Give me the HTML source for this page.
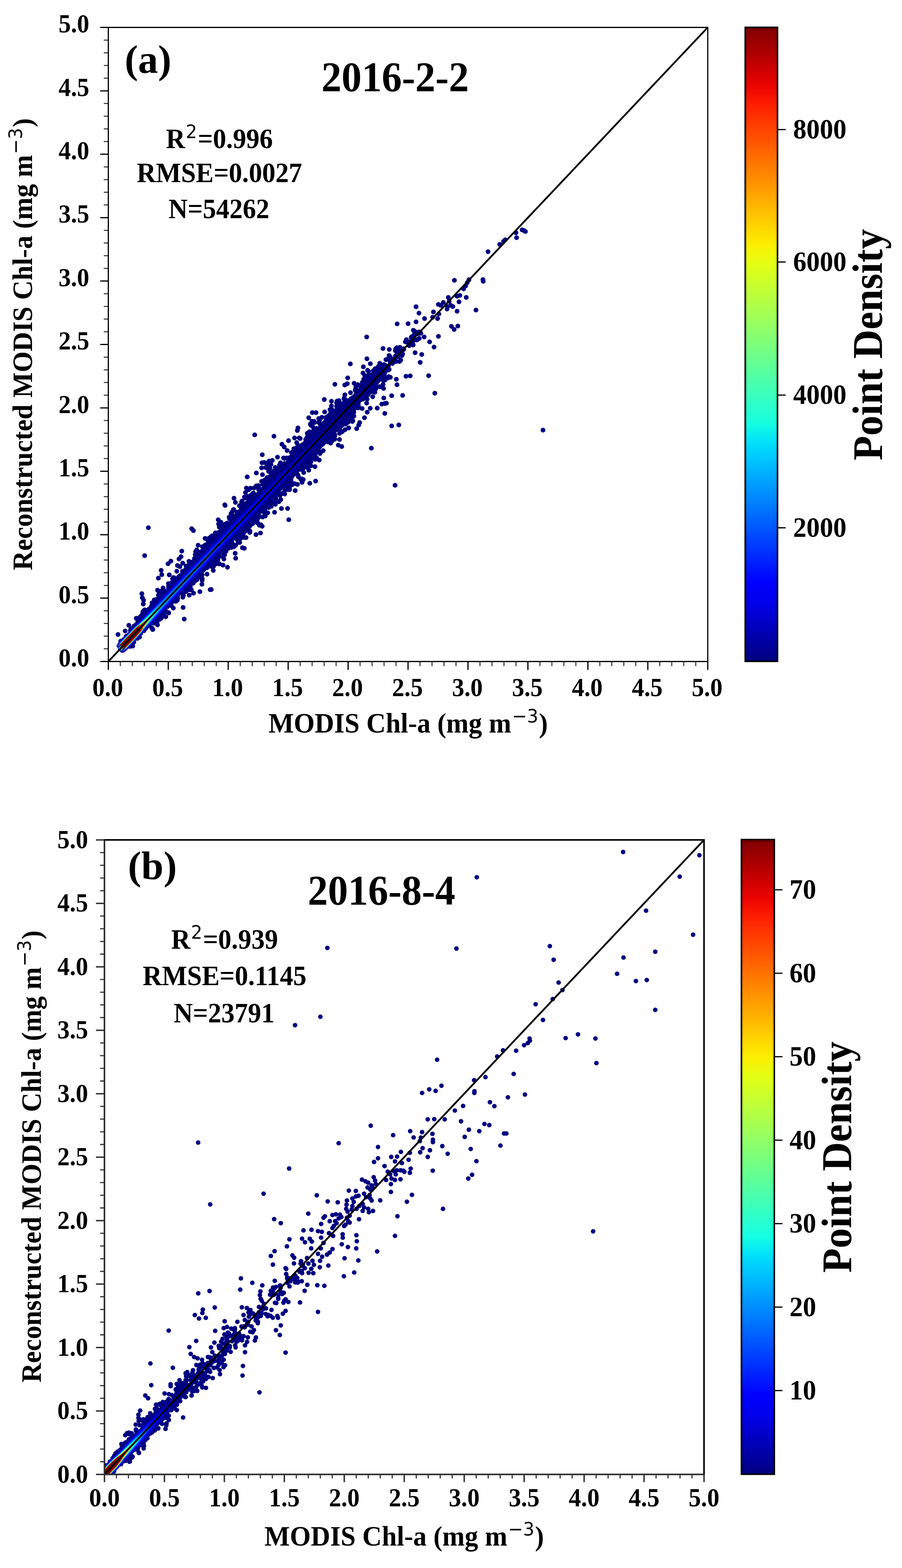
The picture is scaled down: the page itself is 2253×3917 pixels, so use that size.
<!DOCTYPE html>
<html lang="en"><head><meta charset="utf-8"><title>Reconstructed MODIS Chl-a scatter density</title>
<style>
html,body{margin:0;padding:0;background:#fff;}
body{width:2253px;height:3917px;overflow:hidden;}
svg{display:block;filter:blur(0.6px);}
text{white-space:pre;}
</style></head><body>
<svg width="2253" height="3917" viewBox="0 0 2253 3917">
<defs><linearGradient id="jet" x1="0" y1="0" x2="0" y2="1"><stop offset="0%" stop-color="#800000"/><stop offset="3.1%" stop-color="#a40000"/><stop offset="6.2%" stop-color="#c80000"/><stop offset="9.4%" stop-color="#ec0400"/><stop offset="12.5%" stop-color="#ff2100"/><stop offset="15.6%" stop-color="#ff3f00"/><stop offset="18.8%" stop-color="#ff5c00"/><stop offset="21.9%" stop-color="#ff7a00"/><stop offset="25%" stop-color="#ff9700"/><stop offset="28.1%" stop-color="#ffb500"/><stop offset="31.2%" stop-color="#ffd200"/><stop offset="34.4%" stop-color="#fcf000"/><stop offset="37.5%" stop-color="#e2ff15"/><stop offset="40.6%" stop-color="#c9ff2e"/><stop offset="43.8%" stop-color="#afff48"/><stop offset="46.9%" stop-color="#95ff62"/><stop offset="50%" stop-color="#7bff7b"/><stop offset="53.1%" stop-color="#62ff95"/><stop offset="56.2%" stop-color="#48ffaf"/><stop offset="59.4%" stop-color="#2effc9"/><stop offset="62.5%" stop-color="#15ffe2"/><stop offset="65.6%" stop-color="#00dffc"/><stop offset="68.8%" stop-color="#00bfff"/><stop offset="71.9%" stop-color="#009fff"/><stop offset="75%" stop-color="#0080ff"/><stop offset="78.1%" stop-color="#0060ff"/><stop offset="81.2%" stop-color="#0040ff"/><stop offset="84.4%" stop-color="#0020ff"/><stop offset="87.5%" stop-color="#0000ff"/><stop offset="90.6%" stop-color="#0000ec"/><stop offset="93.8%" stop-color="#0000c8"/><stop offset="96.9%" stop-color="#0000a4"/><stop offset="100%" stop-color="#000080"/></linearGradient>
<linearGradient id="ga0" gradientUnits="userSpaceOnUse" x1="299" y1="1622.4" x2="869.5" y2="1018.9"><stop offset="0%" stop-color="#000082" stop-opacity="0.06"/><stop offset="1.7%" stop-color="#000091" stop-opacity="0.52"/><stop offset="3.3%" stop-color="#000091" stop-opacity="0.52"/><stop offset="5%" stop-color="#000091" stop-opacity="0.52"/><stop offset="6.7%" stop-color="#000091" stop-opacity="0.52"/><stop offset="8.3%" stop-color="#00008e" stop-opacity="0.41"/><stop offset="10%" stop-color="#00008a" stop-opacity="0.29"/><stop offset="11.7%" stop-color="#00008f" stop-opacity="0.44"/><stop offset="13.3%" stop-color="#000095" stop-opacity="0.63"/><stop offset="15%" stop-color="#000096" stop-opacity="0.66"/><stop offset="16.7%" stop-color="#000093" stop-opacity="0.57"/><stop offset="18.3%" stop-color="#000092" stop-opacity="0.54"/><stop offset="20%" stop-color="#000091" stop-opacity="0.51"/><stop offset="21.7%" stop-color="#000090" stop-opacity="0.48"/><stop offset="23.3%" stop-color="#000090" stop-opacity="0.47"/><stop offset="25%" stop-color="#00008f" stop-opacity="0.46"/><stop offset="26.7%" stop-color="#00008f" stop-opacity="0.45"/><stop offset="28.3%" stop-color="#00008f" stop-opacity="0.43"/><stop offset="30%" stop-color="#00008e" stop-opacity="0.42"/><stop offset="31.7%" stop-color="#00008e" stop-opacity="0.41"/><stop offset="33.3%" stop-color="#00008d" stop-opacity="0.40"/><stop offset="35%" stop-color="#00008d" stop-opacity="0.39"/><stop offset="36.7%" stop-color="#00008c" stop-opacity="0.37"/><stop offset="38.3%" stop-color="#00008c" stop-opacity="0.36"/><stop offset="40%" stop-color="#00008c" stop-opacity="0.35"/><stop offset="41.7%" stop-color="#00008b" stop-opacity="0.34"/><stop offset="43.3%" stop-color="#00008b" stop-opacity="0.32"/><stop offset="45%" stop-color="#00008a" stop-opacity="0.31"/><stop offset="46.7%" stop-color="#00008a" stop-opacity="0.30"/><stop offset="48.3%" stop-color="#000089" stop-opacity="0.29"/><stop offset="50%" stop-color="#000089" stop-opacity="0.27"/><stop offset="51.7%" stop-color="#000089" stop-opacity="0.26"/><stop offset="53.3%" stop-color="#000088" stop-opacity="0.25"/><stop offset="55%" stop-color="#000088" stop-opacity="0.24"/><stop offset="56.7%" stop-color="#000087" stop-opacity="0.22"/><stop offset="58.3%" stop-color="#000087" stop-opacity="0.21"/><stop offset="60%" stop-color="#000086" stop-opacity="0.20"/><stop offset="61.7%" stop-color="#000086" stop-opacity="0.19"/><stop offset="63.3%" stop-color="#000086" stop-opacity="0.18"/><stop offset="65%" stop-color="#000085" stop-opacity="0.17"/><stop offset="66.7%" stop-color="#000085" stop-opacity="0.16"/><stop offset="68.3%" stop-color="#000085" stop-opacity="0.15"/><stop offset="70%" stop-color="#000084" stop-opacity="0.14"/><stop offset="71.7%" stop-color="#000084" stop-opacity="0.13"/><stop offset="73.3%" stop-color="#000084" stop-opacity="0.12"/><stop offset="75%" stop-color="#000083" stop-opacity="0.11"/><stop offset="76.7%" stop-color="#000083" stop-opacity="0.10"/><stop offset="78.3%" stop-color="#000083" stop-opacity="0.09"/><stop offset="80%" stop-color="#000082" stop-opacity="0.08"/><stop offset="81.7%" stop-color="#000082" stop-opacity="0.08"/><stop offset="83.3%" stop-color="#000082" stop-opacity="0.07"/><stop offset="85%" stop-color="#000082" stop-opacity="0.06"/><stop offset="86.7%" stop-color="#000081" stop-opacity="0.06"/><stop offset="88.3%" stop-color="#000081" stop-opacity="0.05"/><stop offset="90%" stop-color="#000081" stop-opacity="0.04"/><stop offset="91.7%" stop-color="#000081" stop-opacity="0.03"/><stop offset="93.3%" stop-color="#000080" stop-opacity="0.03"/><stop offset="95%" stop-color="#000080" stop-opacity="0.02"/><stop offset="96.7%" stop-color="#000080" stop-opacity="0.01"/><stop offset="98.3%" stop-color="#000080" stop-opacity="0.01"/><stop offset="100%" stop-color="#000080" stop-opacity="0.00"/></linearGradient>
<linearGradient id="ga1" gradientUnits="userSpaceOnUse" x1="299" y1="1622.4" x2="869.5" y2="1018.9"><stop offset="0%" stop-color="#000086" stop-opacity="0.19"/><stop offset="1.7%" stop-color="#0000b3"/><stop offset="3.3%" stop-color="#0000b3"/><stop offset="5%" stop-color="#0000b3"/><stop offset="6.7%" stop-color="#0000b3"/><stop offset="8.3%" stop-color="#0000a9"/><stop offset="10%" stop-color="#000099" stop-opacity="0.74"/><stop offset="11.7%" stop-color="#0000a0" stop-opacity="0.95"/><stop offset="13.3%" stop-color="#0000a9"/><stop offset="15%" stop-color="#0000a9"/><stop offset="16.7%" stop-color="#0000a4"/><stop offset="18.3%" stop-color="#0000a2" stop-opacity="0.98"/><stop offset="20%" stop-color="#00009f" stop-opacity="0.92"/><stop offset="21.7%" stop-color="#00009e" stop-opacity="0.87"/><stop offset="23.3%" stop-color="#00009d" stop-opacity="0.85"/><stop offset="25%" stop-color="#00009c" stop-opacity="0.83"/><stop offset="26.7%" stop-color="#00009c" stop-opacity="0.81"/><stop offset="28.3%" stop-color="#00009b" stop-opacity="0.79"/><stop offset="30%" stop-color="#00009a" stop-opacity="0.76"/><stop offset="31.7%" stop-color="#000099" stop-opacity="0.74"/><stop offset="33.3%" stop-color="#000099" stop-opacity="0.72"/><stop offset="35%" stop-color="#000098" stop-opacity="0.70"/><stop offset="36.7%" stop-color="#000097" stop-opacity="0.68"/><stop offset="38.3%" stop-color="#000096" stop-opacity="0.65"/><stop offset="40%" stop-color="#000095" stop-opacity="0.63"/><stop offset="41.7%" stop-color="#000095" stop-opacity="0.61"/><stop offset="43.3%" stop-color="#000094" stop-opacity="0.59"/><stop offset="45%" stop-color="#000093" stop-opacity="0.56"/><stop offset="46.7%" stop-color="#000092" stop-opacity="0.54"/><stop offset="48.3%" stop-color="#000092" stop-opacity="0.52"/><stop offset="50%" stop-color="#000091" stop-opacity="0.50"/><stop offset="51.7%" stop-color="#000090" stop-opacity="0.47"/><stop offset="53.3%" stop-color="#00008f" stop-opacity="0.45"/><stop offset="55%" stop-color="#00008e" stop-opacity="0.43"/><stop offset="56.7%" stop-color="#00008e" stop-opacity="0.41"/><stop offset="58.3%" stop-color="#00008d" stop-opacity="0.38"/><stop offset="60%" stop-color="#00008c" stop-opacity="0.36"/><stop offset="61.7%" stop-color="#00008b" stop-opacity="0.34"/><stop offset="63.3%" stop-color="#00008b" stop-opacity="0.32"/><stop offset="65%" stop-color="#00008a" stop-opacity="0.30"/><stop offset="66.7%" stop-color="#000089" stop-opacity="0.28"/><stop offset="68.3%" stop-color="#000089" stop-opacity="0.27"/><stop offset="70%" stop-color="#000088" stop-opacity="0.25"/><stop offset="71.7%" stop-color="#000088" stop-opacity="0.23"/><stop offset="73.3%" stop-color="#000087" stop-opacity="0.22"/><stop offset="75%" stop-color="#000086" stop-opacity="0.20"/><stop offset="76.7%" stop-color="#000086" stop-opacity="0.18"/><stop offset="78.3%" stop-color="#000085" stop-opacity="0.17"/><stop offset="80%" stop-color="#000085" stop-opacity="0.15"/><stop offset="81.7%" stop-color="#000084" stop-opacity="0.14"/><stop offset="83.3%" stop-color="#000084" stop-opacity="0.13"/><stop offset="85%" stop-color="#000083" stop-opacity="0.11"/><stop offset="86.7%" stop-color="#000083" stop-opacity="0.10"/><stop offset="88.3%" stop-color="#000083" stop-opacity="0.09"/><stop offset="90%" stop-color="#000082" stop-opacity="0.08"/><stop offset="91.7%" stop-color="#000082" stop-opacity="0.06"/><stop offset="93.3%" stop-color="#000081" stop-opacity="0.05"/><stop offset="95%" stop-color="#000081" stop-opacity="0.04"/><stop offset="96.7%" stop-color="#000080" stop-opacity="0.03"/><stop offset="98.3%" stop-color="#000080" stop-opacity="0.01"/><stop offset="100%" stop-color="#000080" stop-opacity="0.00"/></linearGradient>
<linearGradient id="ga2" gradientUnits="userSpaceOnUse" x1="299" y1="1622.4" x2="869.5" y2="1018.9"><stop offset="0%" stop-color="#000090" stop-opacity="0.48"/><stop offset="1.7%" stop-color="#0000ff"/><stop offset="3.3%" stop-color="#0000ff"/><stop offset="5%" stop-color="#0000ff"/><stop offset="6.7%" stop-color="#0000ff"/><stop offset="8.3%" stop-color="#0000ea"/><stop offset="10%" stop-color="#0000bb"/><stop offset="11.7%" stop-color="#0000c1"/><stop offset="13.3%" stop-color="#0000c8"/><stop offset="15%" stop-color="#0000c6"/><stop offset="16.7%" stop-color="#0000bd"/><stop offset="18.3%" stop-color="#0000b9"/><stop offset="20%" stop-color="#0000b6"/><stop offset="21.7%" stop-color="#0000b3"/><stop offset="23.3%" stop-color="#0000b2"/><stop offset="25%" stop-color="#0000b0"/><stop offset="26.7%" stop-color="#0000af"/><stop offset="28.3%" stop-color="#0000ae"/><stop offset="30%" stop-color="#0000ad"/><stop offset="31.7%" stop-color="#0000ab"/><stop offset="33.3%" stop-color="#0000aa"/><stop offset="35%" stop-color="#0000a9"/><stop offset="36.7%" stop-color="#0000a8"/><stop offset="38.3%" stop-color="#0000a6"/><stop offset="40%" stop-color="#0000a5"/><stop offset="41.7%" stop-color="#0000a4"/><stop offset="43.3%" stop-color="#0000a2" stop-opacity="1.00"/><stop offset="45%" stop-color="#0000a1" stop-opacity="0.96"/><stop offset="46.7%" stop-color="#0000a0" stop-opacity="0.92"/><stop offset="48.3%" stop-color="#00009e" stop-opacity="0.88"/><stop offset="50%" stop-color="#00009d" stop-opacity="0.85"/><stop offset="51.7%" stop-color="#00009c" stop-opacity="0.81"/><stop offset="53.3%" stop-color="#00009a" stop-opacity="0.77"/><stop offset="55%" stop-color="#000099" stop-opacity="0.73"/><stop offset="56.7%" stop-color="#000098" stop-opacity="0.69"/><stop offset="58.3%" stop-color="#000096" stop-opacity="0.65"/><stop offset="60%" stop-color="#000095" stop-opacity="0.62"/><stop offset="61.7%" stop-color="#000094" stop-opacity="0.58"/><stop offset="63.3%" stop-color="#000092" stop-opacity="0.54"/><stop offset="65%" stop-color="#000091" stop-opacity="0.51"/><stop offset="66.7%" stop-color="#000090" stop-opacity="0.48"/><stop offset="68.3%" stop-color="#00008f" stop-opacity="0.45"/><stop offset="70%" stop-color="#00008e" stop-opacity="0.43"/><stop offset="71.7%" stop-color="#00008d" stop-opacity="0.40"/><stop offset="73.3%" stop-color="#00008c" stop-opacity="0.37"/><stop offset="75%" stop-color="#00008b" stop-opacity="0.34"/><stop offset="76.7%" stop-color="#00008a" stop-opacity="0.31"/><stop offset="78.3%" stop-color="#000089" stop-opacity="0.28"/><stop offset="80%" stop-color="#000088" stop-opacity="0.26"/><stop offset="81.7%" stop-color="#000088" stop-opacity="0.24"/><stop offset="83.3%" stop-color="#000087" stop-opacity="0.21"/><stop offset="85%" stop-color="#000086" stop-opacity="0.19"/><stop offset="86.7%" stop-color="#000085" stop-opacity="0.17"/><stop offset="88.3%" stop-color="#000085" stop-opacity="0.15"/><stop offset="90%" stop-color="#000084" stop-opacity="0.13"/><stop offset="91.7%" stop-color="#000083" stop-opacity="0.11"/><stop offset="93.3%" stop-color="#000082" stop-opacity="0.09"/><stop offset="95%" stop-color="#000082" stop-opacity="0.06"/><stop offset="96.7%" stop-color="#000081" stop-opacity="0.04"/><stop offset="98.3%" stop-color="#000080" stop-opacity="0.02"/><stop offset="100%" stop-color="#000080" stop-opacity="0.00"/></linearGradient>
<linearGradient id="ga3" gradientUnits="userSpaceOnUse" x1="299" y1="1622.4" x2="869.5" y2="1018.9"><stop offset="0%" stop-color="#00009d" stop-opacity="0.84"/><stop offset="1.7%" stop-color="#004eff"/><stop offset="3.3%" stop-color="#004eff"/><stop offset="5%" stop-color="#004eff"/><stop offset="6.7%" stop-color="#004eff"/><stop offset="8.3%" stop-color="#0026ff"/><stop offset="10%" stop-color="#0000e3"/><stop offset="11.7%" stop-color="#0000e2"/><stop offset="13.3%" stop-color="#0000e6"/><stop offset="15%" stop-color="#0000e0"/><stop offset="16.7%" stop-color="#0000d4"/><stop offset="18.3%" stop-color="#0000cf"/><stop offset="20%" stop-color="#0000ca"/><stop offset="21.7%" stop-color="#0000c6"/><stop offset="23.3%" stop-color="#0000c5"/><stop offset="25%" stop-color="#0000c3"/><stop offset="26.7%" stop-color="#0000c1"/><stop offset="28.3%" stop-color="#0000bf"/><stop offset="30%" stop-color="#0000be"/><stop offset="31.7%" stop-color="#0000bc"/><stop offset="33.3%" stop-color="#0000ba"/><stop offset="35%" stop-color="#0000b8"/><stop offset="36.7%" stop-color="#0000b7"/><stop offset="38.3%" stop-color="#0000b5"/><stop offset="40%" stop-color="#0000b3"/><stop offset="41.7%" stop-color="#0000b1"/><stop offset="43.3%" stop-color="#0000af"/><stop offset="45%" stop-color="#0000ad"/><stop offset="46.7%" stop-color="#0000ac"/><stop offset="48.3%" stop-color="#0000aa"/><stop offset="50%" stop-color="#0000a8"/><stop offset="51.7%" stop-color="#0000a6"/><stop offset="53.3%" stop-color="#0000a4"/><stop offset="55%" stop-color="#0000a2"/><stop offset="56.7%" stop-color="#0000a1" stop-opacity="0.95"/><stop offset="58.3%" stop-color="#00009f" stop-opacity="0.90"/><stop offset="60%" stop-color="#00009d" stop-opacity="0.85"/><stop offset="61.7%" stop-color="#00009b" stop-opacity="0.80"/><stop offset="63.3%" stop-color="#000099" stop-opacity="0.74"/><stop offset="65%" stop-color="#000098" stop-opacity="0.70"/><stop offset="66.7%" stop-color="#000097" stop-opacity="0.66"/><stop offset="68.3%" stop-color="#000095" stop-opacity="0.62"/><stop offset="70%" stop-color="#000094" stop-opacity="0.59"/><stop offset="71.7%" stop-color="#000092" stop-opacity="0.55"/><stop offset="73.3%" stop-color="#000091" stop-opacity="0.51"/><stop offset="75%" stop-color="#000090" stop-opacity="0.47"/><stop offset="76.7%" stop-color="#00008e" stop-opacity="0.43"/><stop offset="78.3%" stop-color="#00008d" stop-opacity="0.39"/><stop offset="80%" stop-color="#00008c" stop-opacity="0.35"/><stop offset="81.7%" stop-color="#00008b" stop-opacity="0.33"/><stop offset="83.3%" stop-color="#00008a" stop-opacity="0.30"/><stop offset="85%" stop-color="#000089" stop-opacity="0.27"/><stop offset="86.7%" stop-color="#000088" stop-opacity="0.24"/><stop offset="88.3%" stop-color="#000087" stop-opacity="0.21"/><stop offset="90%" stop-color="#000086" stop-opacity="0.18"/><stop offset="91.7%" stop-color="#000085" stop-opacity="0.15"/><stop offset="93.3%" stop-color="#000084" stop-opacity="0.12"/><stop offset="95%" stop-color="#000083" stop-opacity="0.09"/><stop offset="96.7%" stop-color="#000082" stop-opacity="0.06"/><stop offset="98.3%" stop-color="#000081" stop-opacity="0.03"/><stop offset="100%" stop-color="#000080" stop-opacity="0.00"/></linearGradient>
<linearGradient id="ga4" gradientUnits="userSpaceOnUse" x1="299" y1="1622.4" x2="869.5" y2="1018.9"><stop offset="0%" stop-color="#0000b1"/><stop offset="1.7%" stop-color="#00daff"/><stop offset="3.3%" stop-color="#00daff"/><stop offset="5%" stop-color="#00daff"/><stop offset="6.7%" stop-color="#00daff"/><stop offset="8.3%" stop-color="#0096ff"/><stop offset="10%" stop-color="#000cff"/><stop offset="11.7%" stop-color="#0000ff"/><stop offset="13.3%" stop-color="#0000ff"/><stop offset="15%" stop-color="#0000ff"/><stop offset="16.7%" stop-color="#0000f1"/><stop offset="18.3%" stop-color="#0000ea"/><stop offset="20%" stop-color="#0000e4"/><stop offset="21.7%" stop-color="#0000de"/><stop offset="23.3%" stop-color="#0000dc"/><stop offset="25%" stop-color="#0000da"/><stop offset="26.7%" stop-color="#0000d7"/><stop offset="28.3%" stop-color="#0000d5"/><stop offset="30%" stop-color="#0000d3"/><stop offset="31.7%" stop-color="#0000d1"/><stop offset="33.3%" stop-color="#0000ce"/><stop offset="35%" stop-color="#0000cc"/><stop offset="36.7%" stop-color="#0000c9"/><stop offset="38.3%" stop-color="#0000c7"/><stop offset="40%" stop-color="#0000c4"/><stop offset="41.7%" stop-color="#0000c2"/><stop offset="43.3%" stop-color="#0000bf"/><stop offset="45%" stop-color="#0000bd"/><stop offset="46.7%" stop-color="#0000bb"/><stop offset="48.3%" stop-color="#0000b8"/><stop offset="50%" stop-color="#0000b6"/><stop offset="51.7%" stop-color="#0000b3"/><stop offset="53.3%" stop-color="#0000b1"/><stop offset="55%" stop-color="#0000ae"/><stop offset="56.7%" stop-color="#0000ac"/><stop offset="58.3%" stop-color="#0000a9"/><stop offset="60%" stop-color="#0000a7"/><stop offset="61.7%" stop-color="#0000a5"/><stop offset="63.3%" stop-color="#0000a2" stop-opacity="0.99"/><stop offset="65%" stop-color="#0000a0" stop-opacity="0.94"/><stop offset="66.7%" stop-color="#00009e" stop-opacity="0.89"/><stop offset="68.3%" stop-color="#00009d" stop-opacity="0.84"/><stop offset="70%" stop-color="#00009b" stop-opacity="0.78"/><stop offset="71.7%" stop-color="#000099" stop-opacity="0.73"/><stop offset="73.3%" stop-color="#000097" stop-opacity="0.68"/><stop offset="75%" stop-color="#000095" stop-opacity="0.63"/><stop offset="76.7%" stop-color="#000093" stop-opacity="0.57"/><stop offset="78.3%" stop-color="#000092" stop-opacity="0.52"/><stop offset="80%" stop-color="#000090" stop-opacity="0.48"/><stop offset="81.7%" stop-color="#00008f" stop-opacity="0.44"/><stop offset="83.3%" stop-color="#00008d" stop-opacity="0.40"/><stop offset="85%" stop-color="#00008c" stop-opacity="0.36"/><stop offset="86.7%" stop-color="#00008b" stop-opacity="0.32"/><stop offset="88.3%" stop-color="#000089" stop-opacity="0.28"/><stop offset="90%" stop-color="#000088" stop-opacity="0.24"/><stop offset="91.7%" stop-color="#000086" stop-opacity="0.20"/><stop offset="93.3%" stop-color="#000085" stop-opacity="0.16"/><stop offset="95%" stop-color="#000084" stop-opacity="0.12"/><stop offset="96.7%" stop-color="#000082" stop-opacity="0.08"/><stop offset="98.3%" stop-color="#000081" stop-opacity="0.04"/><stop offset="100%" stop-color="#000080" stop-opacity="0.00"/></linearGradient>
<linearGradient id="ga5" gradientUnits="userSpaceOnUse" x1="299" y1="1622.4" x2="869.5" y2="1018.9"><stop offset="0%" stop-color="#0000ce"/><stop offset="1.7%" stop-color="#9dff59"/><stop offset="3.3%" stop-color="#9dff59"/><stop offset="5%" stop-color="#9dff59"/><stop offset="6.7%" stop-color="#9dff59"/><stop offset="8.3%" stop-color="#46ffb1"/><stop offset="10%" stop-color="#0054ff"/><stop offset="11.7%" stop-color="#0032ff"/><stop offset="13.3%" stop-color="#0023ff"/><stop offset="15%" stop-color="#0015ff"/><stop offset="16.7%" stop-color="#0002ff"/><stop offset="18.3%" stop-color="#0000ff"/><stop offset="20%" stop-color="#0000ff"/><stop offset="21.7%" stop-color="#0000fb"/><stop offset="23.3%" stop-color="#0000f8"/><stop offset="25%" stop-color="#0000f5"/><stop offset="26.7%" stop-color="#0000f2"/><stop offset="28.3%" stop-color="#0000ef"/><stop offset="30%" stop-color="#0000ec"/><stop offset="31.7%" stop-color="#0000e9"/><stop offset="33.3%" stop-color="#0000e6"/><stop offset="35%" stop-color="#0000e3"/><stop offset="36.7%" stop-color="#0000df"/><stop offset="38.3%" stop-color="#0000dc"/><stop offset="40%" stop-color="#0000d9"/><stop offset="41.7%" stop-color="#0000d6"/><stop offset="43.3%" stop-color="#0000d3"/><stop offset="45%" stop-color="#0000d0"/><stop offset="46.7%" stop-color="#0000cc"/><stop offset="48.3%" stop-color="#0000c9"/><stop offset="50%" stop-color="#0000c6"/><stop offset="51.7%" stop-color="#0000c3"/><stop offset="53.3%" stop-color="#0000c0"/><stop offset="55%" stop-color="#0000bc"/><stop offset="56.7%" stop-color="#0000b9"/><stop offset="58.3%" stop-color="#0000b6"/><stop offset="60%" stop-color="#0000b3"/><stop offset="61.7%" stop-color="#0000b0"/><stop offset="63.3%" stop-color="#0000ad"/><stop offset="65%" stop-color="#0000aa"/><stop offset="66.7%" stop-color="#0000a8"/><stop offset="68.3%" stop-color="#0000a5"/><stop offset="70%" stop-color="#0000a3"/><stop offset="71.7%" stop-color="#0000a1" stop-opacity="0.95"/><stop offset="73.3%" stop-color="#00009e" stop-opacity="0.88"/><stop offset="75%" stop-color="#00009c" stop-opacity="0.81"/><stop offset="76.7%" stop-color="#000099" stop-opacity="0.75"/><stop offset="78.3%" stop-color="#000097" stop-opacity="0.68"/><stop offset="80%" stop-color="#000095" stop-opacity="0.62"/><stop offset="81.7%" stop-color="#000093" stop-opacity="0.57"/><stop offset="83.3%" stop-color="#000091" stop-opacity="0.52"/><stop offset="85%" stop-color="#000090" stop-opacity="0.46"/><stop offset="86.7%" stop-color="#00008e" stop-opacity="0.41"/><stop offset="88.3%" stop-color="#00008c" stop-opacity="0.36"/><stop offset="90%" stop-color="#00008a" stop-opacity="0.31"/><stop offset="91.7%" stop-color="#000088" stop-opacity="0.26"/><stop offset="93.3%" stop-color="#000087" stop-opacity="0.21"/><stop offset="95%" stop-color="#000085" stop-opacity="0.15"/><stop offset="96.7%" stop-color="#000083" stop-opacity="0.10"/><stop offset="98.3%" stop-color="#000081" stop-opacity="0.05"/><stop offset="100%" stop-color="#000080" stop-opacity="0.00"/></linearGradient>
<linearGradient id="ga6" gradientUnits="userSpaceOnUse" x1="299" y1="1622.4" x2="869.5" y2="1018.9"><stop offset="0%" stop-color="#0000eb"/><stop offset="1.7%" stop-color="#ff9c00"/><stop offset="3.3%" stop-color="#ff9c00"/><stop offset="5%" stop-color="#ff9c00"/><stop offset="6.7%" stop-color="#ff9c00"/><stop offset="8.3%" stop-color="#ccff2a"/><stop offset="10%" stop-color="#009aff"/><stop offset="11.7%" stop-color="#0060ff"/><stop offset="13.3%" stop-color="#0045ff"/><stop offset="15%" stop-color="#0032ff"/><stop offset="16.7%" stop-color="#001cff"/><stop offset="18.3%" stop-color="#0013ff"/><stop offset="20%" stop-color="#000aff"/><stop offset="21.7%" stop-color="#0003ff"/><stop offset="23.3%" stop-color="#0000ff"/><stop offset="25%" stop-color="#0000ff"/><stop offset="26.7%" stop-color="#0000ff"/><stop offset="28.3%" stop-color="#0000ff"/><stop offset="30%" stop-color="#0000ff"/><stop offset="31.7%" stop-color="#0000fe"/><stop offset="33.3%" stop-color="#0000fa"/><stop offset="35%" stop-color="#0000f6"/><stop offset="36.7%" stop-color="#0000f2"/><stop offset="38.3%" stop-color="#0000ef"/><stop offset="40%" stop-color="#0000eb"/><stop offset="41.7%" stop-color="#0000e7"/><stop offset="43.3%" stop-color="#0000e3"/><stop offset="45%" stop-color="#0000df"/><stop offset="46.7%" stop-color="#0000db"/><stop offset="48.3%" stop-color="#0000d8"/><stop offset="50%" stop-color="#0000d4"/><stop offset="51.7%" stop-color="#0000d0"/><stop offset="53.3%" stop-color="#0000cc"/><stop offset="55%" stop-color="#0000c8"/><stop offset="56.7%" stop-color="#0000c5"/><stop offset="58.3%" stop-color="#0000c1"/><stop offset="60%" stop-color="#0000bd"/><stop offset="61.7%" stop-color="#0000b9"/><stop offset="63.3%" stop-color="#0000b5"/><stop offset="65%" stop-color="#0000b3"/><stop offset="66.7%" stop-color="#0000b0"/><stop offset="68.3%" stop-color="#0000ad"/><stop offset="70%" stop-color="#0000aa"/><stop offset="71.7%" stop-color="#0000a7"/><stop offset="73.3%" stop-color="#0000a4"/><stop offset="75%" stop-color="#0000a1" stop-opacity="0.97"/><stop offset="76.7%" stop-color="#00009f" stop-opacity="0.89"/><stop offset="78.3%" stop-color="#00009c" stop-opacity="0.81"/><stop offset="80%" stop-color="#000099" stop-opacity="0.74"/><stop offset="81.7%" stop-color="#000097" stop-opacity="0.68"/><stop offset="83.3%" stop-color="#000095" stop-opacity="0.62"/><stop offset="85%" stop-color="#000093" stop-opacity="0.56"/><stop offset="86.7%" stop-color="#000091" stop-opacity="0.49"/><stop offset="88.3%" stop-color="#00008f" stop-opacity="0.43"/><stop offset="90%" stop-color="#00008c" stop-opacity="0.37"/><stop offset="91.7%" stop-color="#00008a" stop-opacity="0.31"/><stop offset="93.3%" stop-color="#000088" stop-opacity="0.25"/><stop offset="95%" stop-color="#000086" stop-opacity="0.19"/><stop offset="96.7%" stop-color="#000084" stop-opacity="0.12"/><stop offset="98.3%" stop-color="#000082" stop-opacity="0.06"/><stop offset="100%" stop-color="#000080" stop-opacity="0.00"/></linearGradient>
<linearGradient id="ga7" gradientUnits="userSpaceOnUse" x1="299" y1="1622.4" x2="869.5" y2="1018.9"><stop offset="0%" stop-color="#0000ff"/><stop offset="1.7%" stop-color="#830000"/><stop offset="3.3%" stop-color="#830000"/><stop offset="5%" stop-color="#830000"/><stop offset="6.7%" stop-color="#830000"/><stop offset="8.3%" stop-color="#ff6700"/><stop offset="10%" stop-color="#07eef0"/><stop offset="11.7%" stop-color="#0094ff"/><stop offset="13.3%" stop-color="#006bff"/><stop offset="15%" stop-color="#0052ff"/><stop offset="16.7%" stop-color="#0037ff"/><stop offset="18.3%" stop-color="#002dff"/><stop offset="20%" stop-color="#0022ff"/><stop offset="21.7%" stop-color="#001aff"/><stop offset="23.3%" stop-color="#0016ff"/><stop offset="25%" stop-color="#0012ff"/><stop offset="26.7%" stop-color="#000fff"/><stop offset="28.3%" stop-color="#000bff"/><stop offset="30%" stop-color="#0007ff"/><stop offset="31.7%" stop-color="#0003ff"/><stop offset="33.3%" stop-color="#0000ff"/><stop offset="35%" stop-color="#0000ff"/><stop offset="36.7%" stop-color="#0000ff"/><stop offset="38.3%" stop-color="#0000ff"/><stop offset="40%" stop-color="#0000fe"/><stop offset="41.7%" stop-color="#0000f9"/><stop offset="43.3%" stop-color="#0000f5"/><stop offset="45%" stop-color="#0000f0"/><stop offset="46.7%" stop-color="#0000ec"/><stop offset="48.3%" stop-color="#0000e7"/><stop offset="50%" stop-color="#0000e3"/><stop offset="51.7%" stop-color="#0000de"/><stop offset="53.3%" stop-color="#0000da"/><stop offset="55%" stop-color="#0000d5"/><stop offset="56.7%" stop-color="#0000d1"/><stop offset="58.3%" stop-color="#0000cc"/><stop offset="60%" stop-color="#0000c8"/><stop offset="61.7%" stop-color="#0000c3"/><stop offset="63.3%" stop-color="#0000bf"/><stop offset="65%" stop-color="#0000bc"/><stop offset="66.7%" stop-color="#0000b8"/><stop offset="68.3%" stop-color="#0000b5"/><stop offset="70%" stop-color="#0000b2"/><stop offset="71.7%" stop-color="#0000ae"/><stop offset="73.3%" stop-color="#0000ab"/><stop offset="75%" stop-color="#0000a7"/><stop offset="76.7%" stop-color="#0000a4"/><stop offset="78.3%" stop-color="#0000a1" stop-opacity="0.95"/><stop offset="80%" stop-color="#00009e" stop-opacity="0.87"/><stop offset="81.7%" stop-color="#00009b" stop-opacity="0.80"/><stop offset="83.3%" stop-color="#000099" stop-opacity="0.73"/><stop offset="85%" stop-color="#000096" stop-opacity="0.65"/><stop offset="86.7%" stop-color="#000094" stop-opacity="0.58"/><stop offset="88.3%" stop-color="#000091" stop-opacity="0.51"/><stop offset="90%" stop-color="#00008f" stop-opacity="0.44"/><stop offset="91.7%" stop-color="#00008c" stop-opacity="0.36"/><stop offset="93.3%" stop-color="#00008a" stop-opacity="0.29"/><stop offset="95%" stop-color="#000087" stop-opacity="0.22"/><stop offset="96.7%" stop-color="#000085" stop-opacity="0.15"/><stop offset="98.3%" stop-color="#000082" stop-opacity="0.07"/><stop offset="100%" stop-color="#000080" stop-opacity="0.00"/></linearGradient>
<linearGradient id="ga8" gradientUnits="userSpaceOnUse" x1="299" y1="1622.4" x2="869.5" y2="1018.9"><stop offset="0%" stop-color="#0026ff"/><stop offset="1.7%" stop-color="#800000"/><stop offset="3.3%" stop-color="#800000"/><stop offset="5%" stop-color="#800000"/><stop offset="6.7%" stop-color="#800000"/><stop offset="8.3%" stop-color="#800000"/><stop offset="10%" stop-color="#55ffa1"/><stop offset="11.7%" stop-color="#00ceff"/><stop offset="13.3%" stop-color="#0093ff"/><stop offset="15%" stop-color="#0073ff"/><stop offset="16.7%" stop-color="#0054ff"/><stop offset="18.3%" stop-color="#0048ff"/><stop offset="20%" stop-color="#003cff"/><stop offset="21.7%" stop-color="#0032ff"/><stop offset="23.3%" stop-color="#002eff"/><stop offset="25%" stop-color="#002aff"/><stop offset="26.7%" stop-color="#0025ff"/><stop offset="28.3%" stop-color="#0021ff"/><stop offset="30%" stop-color="#001dff"/><stop offset="31.7%" stop-color="#0018ff"/><stop offset="33.3%" stop-color="#0014ff"/><stop offset="35%" stop-color="#000fff"/><stop offset="36.7%" stop-color="#000bff"/><stop offset="38.3%" stop-color="#0006ff"/><stop offset="40%" stop-color="#0002ff"/><stop offset="41.7%" stop-color="#0000ff"/><stop offset="43.3%" stop-color="#0000ff"/><stop offset="45%" stop-color="#0000ff"/><stop offset="46.7%" stop-color="#0000fd"/><stop offset="48.3%" stop-color="#0000f8"/><stop offset="50%" stop-color="#0000f3"/><stop offset="51.7%" stop-color="#0000ee"/><stop offset="53.3%" stop-color="#0000e8"/><stop offset="55%" stop-color="#0000e3"/><stop offset="56.7%" stop-color="#0000de"/><stop offset="58.3%" stop-color="#0000d9"/><stop offset="60%" stop-color="#0000d4"/><stop offset="61.7%" stop-color="#0000ce"/><stop offset="63.3%" stop-color="#0000c9"/><stop offset="65%" stop-color="#0000c5"/><stop offset="66.7%" stop-color="#0000c1"/><stop offset="68.3%" stop-color="#0000bd"/><stop offset="70%" stop-color="#0000ba"/><stop offset="71.7%" stop-color="#0000b6"/><stop offset="73.3%" stop-color="#0000b2"/><stop offset="75%" stop-color="#0000ae"/><stop offset="76.7%" stop-color="#0000aa"/><stop offset="78.3%" stop-color="#0000a6"/><stop offset="80%" stop-color="#0000a3"/><stop offset="81.7%" stop-color="#0000a0" stop-opacity="0.93"/><stop offset="83.3%" stop-color="#00009d" stop-opacity="0.84"/><stop offset="85%" stop-color="#00009a" stop-opacity="0.76"/><stop offset="86.7%" stop-color="#000097" stop-opacity="0.67"/><stop offset="88.3%" stop-color="#000094" stop-opacity="0.59"/><stop offset="90%" stop-color="#000091" stop-opacity="0.51"/><stop offset="91.7%" stop-color="#00008e" stop-opacity="0.42"/><stop offset="93.3%" stop-color="#00008b" stop-opacity="0.34"/><stop offset="95%" stop-color="#000088" stop-opacity="0.25"/><stop offset="96.7%" stop-color="#000085" stop-opacity="0.17"/><stop offset="98.3%" stop-color="#000082" stop-opacity="0.08"/><stop offset="100%" stop-color="#000080" stop-opacity="0.00"/></linearGradient>
<linearGradient id="ga9" gradientUnits="userSpaceOnUse" x1="299" y1="1622.4" x2="869.5" y2="1018.9"><stop offset="0%" stop-color="#0052ff"/><stop offset="1.7%" stop-color="#800000"/><stop offset="3.3%" stop-color="#800000"/><stop offset="5%" stop-color="#800000"/><stop offset="6.7%" stop-color="#800000"/><stop offset="8.3%" stop-color="#800000"/><stop offset="10%" stop-color="#adff4a"/><stop offset="11.7%" stop-color="#20ffd7"/><stop offset="13.3%" stop-color="#00bdff"/><stop offset="15%" stop-color="#0096ff"/><stop offset="16.7%" stop-color="#0073ff"/><stop offset="18.3%" stop-color="#0065ff"/><stop offset="20%" stop-color="#0057ff"/><stop offset="21.7%" stop-color="#004bff"/><stop offset="23.3%" stop-color="#0047ff"/><stop offset="25%" stop-color="#0042ff"/><stop offset="26.7%" stop-color="#003dff"/><stop offset="28.3%" stop-color="#0038ff"/><stop offset="30%" stop-color="#0033ff"/><stop offset="31.7%" stop-color="#002eff"/><stop offset="33.3%" stop-color="#0029ff"/><stop offset="35%" stop-color="#0024ff"/><stop offset="36.7%" stop-color="#001eff"/><stop offset="38.3%" stop-color="#0019ff"/><stop offset="40%" stop-color="#0014ff"/><stop offset="41.7%" stop-color="#000fff"/><stop offset="43.3%" stop-color="#0009ff"/><stop offset="45%" stop-color="#0004ff"/><stop offset="46.7%" stop-color="#0000ff"/><stop offset="48.3%" stop-color="#0000ff"/><stop offset="50%" stop-color="#0000ff"/><stop offset="51.7%" stop-color="#0000fd"/><stop offset="53.3%" stop-color="#0000f7"/><stop offset="55%" stop-color="#0000f1"/><stop offset="56.7%" stop-color="#0000eb"/><stop offset="58.3%" stop-color="#0000e5"/><stop offset="60%" stop-color="#0000df"/><stop offset="61.7%" stop-color="#0000da"/><stop offset="63.3%" stop-color="#0000d4"/><stop offset="65%" stop-color="#0000cf"/><stop offset="66.7%" stop-color="#0000cb"/><stop offset="68.3%" stop-color="#0000c6"/><stop offset="70%" stop-color="#0000c2"/><stop offset="71.7%" stop-color="#0000bd"/><stop offset="73.3%" stop-color="#0000b9"/><stop offset="75%" stop-color="#0000b4"/><stop offset="76.7%" stop-color="#0000b0"/><stop offset="78.3%" stop-color="#0000ab"/><stop offset="80%" stop-color="#0000a8"/><stop offset="81.7%" stop-color="#0000a4"/><stop offset="83.3%" stop-color="#0000a1" stop-opacity="0.96"/><stop offset="85%" stop-color="#00009e" stop-opacity="0.87"/><stop offset="86.7%" stop-color="#00009a" stop-opacity="0.77"/><stop offset="88.3%" stop-color="#000097" stop-opacity="0.67"/><stop offset="90%" stop-color="#000094" stop-opacity="0.58"/><stop offset="91.7%" stop-color="#000090" stop-opacity="0.48"/><stop offset="93.3%" stop-color="#00008d" stop-opacity="0.39"/><stop offset="95%" stop-color="#00008a" stop-opacity="0.29"/><stop offset="96.7%" stop-color="#000086" stop-opacity="0.19"/><stop offset="98.3%" stop-color="#000083" stop-opacity="0.10"/><stop offset="100%" stop-color="#000080" stop-opacity="0.00"/></linearGradient>
<linearGradient id="ga10" gradientUnits="userSpaceOnUse" x1="299" y1="1622.4" x2="869.5" y2="1018.9"><stop offset="0%" stop-color="#0094ff"/><stop offset="1.7%" stop-color="#800000"/><stop offset="3.3%" stop-color="#800000"/><stop offset="5%" stop-color="#800000"/><stop offset="6.7%" stop-color="#800000"/><stop offset="8.3%" stop-color="#800000"/><stop offset="10%" stop-color="#ffb900"/><stop offset="11.7%" stop-color="#65ff92"/><stop offset="13.3%" stop-color="#0cf4eb"/><stop offset="15%" stop-color="#00c4ff"/><stop offset="16.7%" stop-color="#009bff"/><stop offset="18.3%" stop-color="#008aff"/><stop offset="20%" stop-color="#007aff"/><stop offset="21.7%" stop-color="#006dff"/><stop offset="23.3%" stop-color="#0067ff"/><stop offset="25%" stop-color="#0062ff"/><stop offset="26.7%" stop-color="#005cff"/><stop offset="28.3%" stop-color="#0056ff"/><stop offset="30%" stop-color="#0050ff"/><stop offset="31.7%" stop-color="#004bff"/><stop offset="33.3%" stop-color="#0045ff"/><stop offset="35%" stop-color="#003eff"/><stop offset="36.7%" stop-color="#0038ff"/><stop offset="38.3%" stop-color="#0032ff"/><stop offset="40%" stop-color="#002cff"/><stop offset="41.7%" stop-color="#0026ff"/><stop offset="43.3%" stop-color="#0020ff"/><stop offset="45%" stop-color="#001aff"/><stop offset="46.7%" stop-color="#0014ff"/><stop offset="48.3%" stop-color="#000eff"/><stop offset="50%" stop-color="#0008ff"/><stop offset="51.7%" stop-color="#0001ff"/><stop offset="53.3%" stop-color="#0000ff"/><stop offset="55%" stop-color="#0000ff"/><stop offset="56.7%" stop-color="#0000fd"/><stop offset="58.3%" stop-color="#0000f6"/><stop offset="60%" stop-color="#0000ef"/><stop offset="61.7%" stop-color="#0000e8"/><stop offset="63.3%" stop-color="#0000e2"/><stop offset="65%" stop-color="#0000dc"/><stop offset="66.7%" stop-color="#0000d7"/><stop offset="68.3%" stop-color="#0000d2"/><stop offset="70%" stop-color="#0000cd"/><stop offset="71.7%" stop-color="#0000c8"/><stop offset="73.3%" stop-color="#0000c2"/><stop offset="75%" stop-color="#0000bd"/><stop offset="76.7%" stop-color="#0000b8"/><stop offset="78.3%" stop-color="#0000b3"/><stop offset="80%" stop-color="#0000ae"/><stop offset="81.7%" stop-color="#0000aa"/><stop offset="83.3%" stop-color="#0000a7"/><stop offset="85%" stop-color="#0000a3"/><stop offset="86.7%" stop-color="#00009f" stop-opacity="0.90"/><stop offset="88.3%" stop-color="#00009b" stop-opacity="0.79"/><stop offset="90%" stop-color="#000097" stop-opacity="0.67"/><stop offset="91.7%" stop-color="#000093" stop-opacity="0.56"/><stop offset="93.3%" stop-color="#00008f" stop-opacity="0.45"/><stop offset="95%" stop-color="#00008b" stop-opacity="0.34"/><stop offset="96.7%" stop-color="#000087" stop-opacity="0.22"/><stop offset="98.3%" stop-color="#000083" stop-opacity="0.11"/><stop offset="100%" stop-color="#000080" stop-opacity="0.00"/></linearGradient>
<linearGradient id="ga11" gradientUnits="userSpaceOnUse" x1="299" y1="1622.4" x2="869.5" y2="1018.9"><stop offset="0%" stop-color="#00d8ff"/><stop offset="1.7%" stop-color="#800000"/><stop offset="3.3%" stop-color="#800000"/><stop offset="5%" stop-color="#800000"/><stop offset="6.7%" stop-color="#800000"/><stop offset="8.3%" stop-color="#800000"/><stop offset="10%" stop-color="#ff2400"/><stop offset="11.7%" stop-color="#a9ff4e"/><stop offset="13.3%" stop-color="#37ffc0"/><stop offset="15%" stop-color="#07eff0"/><stop offset="16.7%" stop-color="#00c0ff"/><stop offset="18.3%" stop-color="#00aeff"/><stop offset="20%" stop-color="#009cff"/><stop offset="21.7%" stop-color="#008cff"/><stop offset="23.3%" stop-color="#0086ff"/><stop offset="25%" stop-color="#007fff"/><stop offset="26.7%" stop-color="#0079ff"/><stop offset="28.3%" stop-color="#0073ff"/><stop offset="30%" stop-color="#006cff"/><stop offset="31.7%" stop-color="#0066ff"/><stop offset="33.3%" stop-color="#005fff"/><stop offset="35%" stop-color="#0058ff"/><stop offset="36.7%" stop-color="#0051ff"/><stop offset="38.3%" stop-color="#004aff"/><stop offset="40%" stop-color="#0043ff"/><stop offset="41.7%" stop-color="#003cff"/><stop offset="43.3%" stop-color="#0035ff"/><stop offset="45%" stop-color="#002eff"/><stop offset="46.7%" stop-color="#0027ff"/><stop offset="48.3%" stop-color="#0020ff"/><stop offset="50%" stop-color="#001aff"/><stop offset="51.7%" stop-color="#0013ff"/><stop offset="53.3%" stop-color="#000cff"/><stop offset="55%" stop-color="#0005ff"/><stop offset="56.7%" stop-color="#0000ff"/><stop offset="58.3%" stop-color="#0000ff"/><stop offset="60%" stop-color="#0000fe"/><stop offset="61.7%" stop-color="#0000f6"/><stop offset="63.3%" stop-color="#0000ef"/><stop offset="65%" stop-color="#0000e9"/><stop offset="66.7%" stop-color="#0000e3"/><stop offset="68.3%" stop-color="#0000dd"/><stop offset="70%" stop-color="#0000d7"/><stop offset="71.7%" stop-color="#0000d1"/><stop offset="73.3%" stop-color="#0000cb"/><stop offset="75%" stop-color="#0000c5"/><stop offset="76.7%" stop-color="#0000bf"/><stop offset="78.3%" stop-color="#0000ba"/><stop offset="80%" stop-color="#0000b5"/><stop offset="81.7%" stop-color="#0000b0"/><stop offset="83.3%" stop-color="#0000ac"/><stop offset="85%" stop-color="#0000a7"/><stop offset="86.7%" stop-color="#0000a3"/><stop offset="88.3%" stop-color="#00009e" stop-opacity="0.89"/><stop offset="90%" stop-color="#00009a" stop-opacity="0.76"/><stop offset="91.7%" stop-color="#000096" stop-opacity="0.64"/><stop offset="93.3%" stop-color="#000091" stop-opacity="0.51"/><stop offset="95%" stop-color="#00008d" stop-opacity="0.38"/><stop offset="96.7%" stop-color="#000088" stop-opacity="0.25"/><stop offset="98.3%" stop-color="#000084" stop-opacity="0.13"/><stop offset="100%" stop-color="#000080" stop-opacity="0.00"/></linearGradient>
<linearGradient id="ga12" gradientUnits="userSpaceOnUse" x1="299" y1="1622.4" x2="869.5" y2="1018.9"><stop offset="0%" stop-color="#5cff9b"/><stop offset="1.7%" stop-color="#800000"/><stop offset="3.3%" stop-color="#800000"/><stop offset="5%" stop-color="#800000"/><stop offset="6.7%" stop-color="#800000"/><stop offset="8.3%" stop-color="#800000"/><stop offset="10%" stop-color="#800000"/><stop offset="11.7%" stop-color="#ffc800"/><stop offset="13.3%" stop-color="#7eff79"/><stop offset="15%" stop-color="#40ffb6"/><stop offset="16.7%" stop-color="#14fee3"/><stop offset="18.3%" stop-color="#02e8f4"/><stop offset="20%" stop-color="#00d3ff"/><stop offset="21.7%" stop-color="#00c0ff"/><stop offset="23.3%" stop-color="#00b9ff"/><stop offset="25%" stop-color="#00b1ff"/><stop offset="26.7%" stop-color="#00a9ff"/><stop offset="28.3%" stop-color="#00a1ff"/><stop offset="30%" stop-color="#009aff"/><stop offset="31.7%" stop-color="#0092ff"/><stop offset="33.3%" stop-color="#008aff"/><stop offset="35%" stop-color="#0081ff"/><stop offset="36.7%" stop-color="#0079ff"/><stop offset="38.3%" stop-color="#0071ff"/><stop offset="40%" stop-color="#0069ff"/><stop offset="41.7%" stop-color="#0060ff"/><stop offset="43.3%" stop-color="#0058ff"/><stop offset="45%" stop-color="#0050ff"/><stop offset="46.7%" stop-color="#0048ff"/><stop offset="48.3%" stop-color="#003fff"/><stop offset="50%" stop-color="#0037ff"/><stop offset="51.7%" stop-color="#002fff"/><stop offset="53.3%" stop-color="#0027ff"/><stop offset="55%" stop-color="#001eff"/><stop offset="56.7%" stop-color="#0016ff"/><stop offset="58.3%" stop-color="#000eff"/><stop offset="60%" stop-color="#0006ff"/><stop offset="61.7%" stop-color="#0000ff"/><stop offset="63.3%" stop-color="#0000ff"/><stop offset="65%" stop-color="#0000fd"/><stop offset="66.7%" stop-color="#0000f6"/><stop offset="68.3%" stop-color="#0000ef"/><stop offset="70%" stop-color="#0000e8"/><stop offset="71.7%" stop-color="#0000e1"/><stop offset="73.3%" stop-color="#0000da"/><stop offset="75%" stop-color="#0000d3"/><stop offset="76.7%" stop-color="#0000cc"/><stop offset="78.3%" stop-color="#0000c5"/><stop offset="80%" stop-color="#0000bf"/><stop offset="81.7%" stop-color="#0000ba"/><stop offset="83.3%" stop-color="#0000b4"/><stop offset="85%" stop-color="#0000af"/><stop offset="86.7%" stop-color="#0000aa"/><stop offset="88.3%" stop-color="#0000a4"/><stop offset="90%" stop-color="#00009f" stop-opacity="0.91"/><stop offset="91.7%" stop-color="#00009a" stop-opacity="0.76"/><stop offset="93.3%" stop-color="#000095" stop-opacity="0.61"/><stop offset="95%" stop-color="#00008f" stop-opacity="0.46"/><stop offset="96.7%" stop-color="#00008a" stop-opacity="0.30"/><stop offset="98.3%" stop-color="#000085" stop-opacity="0.15"/><stop offset="100%" stop-color="#000080" stop-opacity="0.00"/></linearGradient>
<clipPath id="clipa"><rect x="270.6" y="68.5" width="1497.2" height="1584"/></clipPath>
<linearGradient id="gb0" gradientUnits="userSpaceOnUse" x1="260.9" y1="3683.2" x2="440.6" y2="3493"><stop offset="0%" stop-color="#00009c" stop-opacity="0.82"/><stop offset="1.7%" stop-color="#00009c" stop-opacity="0.82"/><stop offset="3.3%" stop-color="#00009c" stop-opacity="0.82"/><stop offset="5%" stop-color="#00009c" stop-opacity="0.82"/><stop offset="6.7%" stop-color="#00009c" stop-opacity="0.82"/><stop offset="8.3%" stop-color="#00009c" stop-opacity="0.82"/><stop offset="10%" stop-color="#00009c" stop-opacity="0.82"/><stop offset="11.7%" stop-color="#00009c" stop-opacity="0.82"/><stop offset="13.3%" stop-color="#00009c" stop-opacity="0.82"/><stop offset="15%" stop-color="#000099" stop-opacity="0.72"/><stop offset="16.7%" stop-color="#000095" stop-opacity="0.63"/><stop offset="18.3%" stop-color="#000092" stop-opacity="0.53"/><stop offset="20%" stop-color="#00008f" stop-opacity="0.46"/><stop offset="21.7%" stop-color="#00008d" stop-opacity="0.38"/><stop offset="23.3%" stop-color="#00008a" stop-opacity="0.31"/><stop offset="25%" stop-color="#000089" stop-opacity="0.27"/><stop offset="26.7%" stop-color="#00008a" stop-opacity="0.31"/><stop offset="28.3%" stop-color="#00008b" stop-opacity="0.34"/><stop offset="30%" stop-color="#00008d" stop-opacity="0.39"/><stop offset="31.7%" stop-color="#00008e" stop-opacity="0.43"/><stop offset="33.3%" stop-color="#00008f" stop-opacity="0.46"/><stop offset="35%" stop-color="#000091" stop-opacity="0.51"/><stop offset="36.7%" stop-color="#000093" stop-opacity="0.56"/><stop offset="38.3%" stop-color="#000094" stop-opacity="0.60"/><stop offset="40%" stop-color="#000096" stop-opacity="0.64"/><stop offset="41.7%" stop-color="#000098" stop-opacity="0.69"/><stop offset="43.3%" stop-color="#000096" stop-opacity="0.65"/><stop offset="45%" stop-color="#000095" stop-opacity="0.61"/><stop offset="46.7%" stop-color="#000093" stop-opacity="0.57"/><stop offset="48.3%" stop-color="#000092" stop-opacity="0.52"/><stop offset="50%" stop-color="#000090" stop-opacity="0.48"/><stop offset="51.7%" stop-color="#00008f" stop-opacity="0.46"/><stop offset="53.3%" stop-color="#00008e" stop-opacity="0.43"/><stop offset="55%" stop-color="#00008e" stop-opacity="0.40"/><stop offset="56.7%" stop-color="#00008d" stop-opacity="0.38"/><stop offset="58.3%" stop-color="#00008c" stop-opacity="0.35"/><stop offset="60%" stop-color="#00008b" stop-opacity="0.33"/><stop offset="61.7%" stop-color="#00008a" stop-opacity="0.30"/><stop offset="63.3%" stop-color="#000089" stop-opacity="0.27"/><stop offset="65%" stop-color="#000088" stop-opacity="0.25"/><stop offset="66.7%" stop-color="#000087" stop-opacity="0.22"/><stop offset="68.3%" stop-color="#000087" stop-opacity="0.21"/><stop offset="70%" stop-color="#000086" stop-opacity="0.20"/><stop offset="71.7%" stop-color="#000086" stop-opacity="0.19"/><stop offset="73.3%" stop-color="#000086" stop-opacity="0.18"/><stop offset="75%" stop-color="#000085" stop-opacity="0.16"/><stop offset="76.7%" stop-color="#000085" stop-opacity="0.15"/><stop offset="78.3%" stop-color="#000084" stop-opacity="0.14"/><stop offset="80%" stop-color="#000084" stop-opacity="0.13"/><stop offset="81.7%" stop-color="#000084" stop-opacity="0.12"/><stop offset="83.3%" stop-color="#000083" stop-opacity="0.11"/><stop offset="85%" stop-color="#000083" stop-opacity="0.10"/><stop offset="86.7%" stop-color="#000083" stop-opacity="0.09"/><stop offset="88.3%" stop-color="#000082" stop-opacity="0.08"/><stop offset="90%" stop-color="#000082" stop-opacity="0.07"/><stop offset="91.7%" stop-color="#000081" stop-opacity="0.05"/><stop offset="93.3%" stop-color="#000081" stop-opacity="0.04"/><stop offset="95%" stop-color="#000081" stop-opacity="0.03"/><stop offset="96.7%" stop-color="#000080" stop-opacity="0.02"/><stop offset="98.3%" stop-color="#000080" stop-opacity="0.01"/><stop offset="100%" stop-color="#000080" stop-opacity="0.00"/></linearGradient>
<linearGradient id="gb1" gradientUnits="userSpaceOnUse" x1="260.9" y1="3683.2" x2="440.6" y2="3493"><stop offset="0%" stop-color="#0000ca"/><stop offset="1.7%" stop-color="#0000ca"/><stop offset="3.3%" stop-color="#0000ca"/><stop offset="5%" stop-color="#0000ca"/><stop offset="6.7%" stop-color="#0000ca"/><stop offset="8.3%" stop-color="#0000ca"/><stop offset="10%" stop-color="#0000ca"/><stop offset="11.7%" stop-color="#0000ca"/><stop offset="13.3%" stop-color="#0000ca"/><stop offset="15%" stop-color="#0000c2"/><stop offset="16.7%" stop-color="#0000b9"/><stop offset="18.3%" stop-color="#0000b0"/><stop offset="20%" stop-color="#0000a9"/><stop offset="21.7%" stop-color="#0000a2"/><stop offset="23.3%" stop-color="#00009c" stop-opacity="0.81"/><stop offset="25%" stop-color="#000098" stop-opacity="0.72"/><stop offset="26.7%" stop-color="#00009b" stop-opacity="0.78"/><stop offset="28.3%" stop-color="#00009c" stop-opacity="0.82"/><stop offset="30%" stop-color="#00009e" stop-opacity="0.89"/><stop offset="31.7%" stop-color="#0000a0" stop-opacity="0.94"/><stop offset="33.3%" stop-color="#0000a1" stop-opacity="0.97"/><stop offset="35%" stop-color="#0000a4"/><stop offset="36.7%" stop-color="#0000a6"/><stop offset="38.3%" stop-color="#0000a8"/><stop offset="40%" stop-color="#0000a9"/><stop offset="41.7%" stop-color="#0000ab"/><stop offset="43.3%" stop-color="#0000a8"/><stop offset="45%" stop-color="#0000a6"/><stop offset="46.7%" stop-color="#0000a3"/><stop offset="48.3%" stop-color="#0000a1" stop-opacity="0.95"/><stop offset="50%" stop-color="#00009e" stop-opacity="0.88"/><stop offset="51.7%" stop-color="#00009c" stop-opacity="0.83"/><stop offset="53.3%" stop-color="#00009b" stop-opacity="0.78"/><stop offset="55%" stop-color="#000099" stop-opacity="0.73"/><stop offset="56.7%" stop-color="#000097" stop-opacity="0.68"/><stop offset="58.3%" stop-color="#000096" stop-opacity="0.64"/><stop offset="60%" stop-color="#000094" stop-opacity="0.59"/><stop offset="61.7%" stop-color="#000092" stop-opacity="0.54"/><stop offset="63.3%" stop-color="#000091" stop-opacity="0.49"/><stop offset="65%" stop-color="#00008f" stop-opacity="0.45"/><stop offset="66.7%" stop-color="#00008d" stop-opacity="0.40"/><stop offset="68.3%" stop-color="#00008d" stop-opacity="0.38"/><stop offset="70%" stop-color="#00008c" stop-opacity="0.36"/><stop offset="71.7%" stop-color="#00008b" stop-opacity="0.34"/><stop offset="73.3%" stop-color="#00008b" stop-opacity="0.32"/><stop offset="75%" stop-color="#00008a" stop-opacity="0.30"/><stop offset="76.7%" stop-color="#000089" stop-opacity="0.28"/><stop offset="78.3%" stop-color="#000088" stop-opacity="0.26"/><stop offset="80%" stop-color="#000088" stop-opacity="0.24"/><stop offset="81.7%" stop-color="#000087" stop-opacity="0.22"/><stop offset="83.3%" stop-color="#000086" stop-opacity="0.20"/><stop offset="85%" stop-color="#000086" stop-opacity="0.18"/><stop offset="86.7%" stop-color="#000085" stop-opacity="0.16"/><stop offset="88.3%" stop-color="#000084" stop-opacity="0.14"/><stop offset="90%" stop-color="#000084" stop-opacity="0.12"/><stop offset="91.7%" stop-color="#000083" stop-opacity="0.10"/><stop offset="93.3%" stop-color="#000082" stop-opacity="0.08"/><stop offset="95%" stop-color="#000082" stop-opacity="0.06"/><stop offset="96.7%" stop-color="#000081" stop-opacity="0.04"/><stop offset="98.3%" stop-color="#000080" stop-opacity="0.02"/><stop offset="100%" stop-color="#000080" stop-opacity="0.00"/></linearGradient>
<linearGradient id="gb2" gradientUnits="userSpaceOnUse" x1="260.9" y1="3683.2" x2="440.6" y2="3493"><stop offset="0%" stop-color="#0000ff"/><stop offset="1.7%" stop-color="#0000ff"/><stop offset="3.3%" stop-color="#0000ff"/><stop offset="5%" stop-color="#0000ff"/><stop offset="6.7%" stop-color="#0000ff"/><stop offset="8.3%" stop-color="#0000ff"/><stop offset="10%" stop-color="#0000ff"/><stop offset="11.7%" stop-color="#0000ff"/><stop offset="13.3%" stop-color="#0000ff"/><stop offset="15%" stop-color="#0000f7"/><stop offset="16.7%" stop-color="#0000e7"/><stop offset="18.3%" stop-color="#0000d7"/><stop offset="20%" stop-color="#0000cb"/><stop offset="21.7%" stop-color="#0000be"/><stop offset="23.3%" stop-color="#0000b2"/><stop offset="25%" stop-color="#0000ac"/><stop offset="26.7%" stop-color="#0000af"/><stop offset="28.3%" stop-color="#0000b0"/><stop offset="30%" stop-color="#0000b3"/><stop offset="31.7%" stop-color="#0000b4"/><stop offset="33.3%" stop-color="#0000b4"/><stop offset="35%" stop-color="#0000b7"/><stop offset="36.7%" stop-color="#0000ba"/><stop offset="38.3%" stop-color="#0000bb"/><stop offset="40%" stop-color="#0000bc"/><stop offset="41.7%" stop-color="#0000be"/><stop offset="43.3%" stop-color="#0000ba"/><stop offset="45%" stop-color="#0000b6"/><stop offset="46.7%" stop-color="#0000b3"/><stop offset="48.3%" stop-color="#0000af"/><stop offset="50%" stop-color="#0000ab"/><stop offset="51.7%" stop-color="#0000a9"/><stop offset="53.3%" stop-color="#0000a6"/><stop offset="55%" stop-color="#0000a4"/><stop offset="56.7%" stop-color="#0000a2" stop-opacity="0.98"/><stop offset="58.3%" stop-color="#00009f" stop-opacity="0.91"/><stop offset="60%" stop-color="#00009d" stop-opacity="0.84"/><stop offset="61.7%" stop-color="#00009a" stop-opacity="0.78"/><stop offset="63.3%" stop-color="#000098" stop-opacity="0.71"/><stop offset="65%" stop-color="#000096" stop-opacity="0.64"/><stop offset="66.7%" stop-color="#000093" stop-opacity="0.57"/><stop offset="68.3%" stop-color="#000092" stop-opacity="0.54"/><stop offset="70%" stop-color="#000091" stop-opacity="0.51"/><stop offset="71.7%" stop-color="#000090" stop-opacity="0.49"/><stop offset="73.3%" stop-color="#00008f" stop-opacity="0.46"/><stop offset="75%" stop-color="#00008e" stop-opacity="0.43"/><stop offset="76.7%" stop-color="#00008d" stop-opacity="0.40"/><stop offset="78.3%" stop-color="#00008c" stop-opacity="0.37"/><stop offset="80%" stop-color="#00008b" stop-opacity="0.34"/><stop offset="81.7%" stop-color="#00008a" stop-opacity="0.31"/><stop offset="83.3%" stop-color="#000089" stop-opacity="0.29"/><stop offset="85%" stop-color="#000088" stop-opacity="0.26"/><stop offset="86.7%" stop-color="#000087" stop-opacity="0.23"/><stop offset="88.3%" stop-color="#000086" stop-opacity="0.20"/><stop offset="90%" stop-color="#000085" stop-opacity="0.17"/><stop offset="91.7%" stop-color="#000084" stop-opacity="0.14"/><stop offset="93.3%" stop-color="#000083" stop-opacity="0.11"/><stop offset="95%" stop-color="#000082" stop-opacity="0.09"/><stop offset="96.7%" stop-color="#000081" stop-opacity="0.06"/><stop offset="98.3%" stop-color="#000080" stop-opacity="0.03"/><stop offset="100%" stop-color="#000080" stop-opacity="0.00"/></linearGradient>
<linearGradient id="gb3" gradientUnits="userSpaceOnUse" x1="260.9" y1="3683.2" x2="440.6" y2="3493"><stop offset="0%" stop-color="#004dff"/><stop offset="1.7%" stop-color="#004dff"/><stop offset="3.3%" stop-color="#004dff"/><stop offset="5%" stop-color="#004dff"/><stop offset="6.7%" stop-color="#004dff"/><stop offset="8.3%" stop-color="#004dff"/><stop offset="10%" stop-color="#004dff"/><stop offset="11.7%" stop-color="#004dff"/><stop offset="13.3%" stop-color="#004dff"/><stop offset="15%" stop-color="#0035ff"/><stop offset="16.7%" stop-color="#001dff"/><stop offset="18.3%" stop-color="#0005ff"/><stop offset="20%" stop-color="#0000ff"/><stop offset="21.7%" stop-color="#0000ec"/><stop offset="23.3%" stop-color="#0000d7"/><stop offset="25%" stop-color="#0000cd"/><stop offset="26.7%" stop-color="#0000cf"/><stop offset="28.3%" stop-color="#0000ce"/><stop offset="30%" stop-color="#0000d1"/><stop offset="31.7%" stop-color="#0000d1"/><stop offset="33.3%" stop-color="#0000d0"/><stop offset="35%" stop-color="#0000d3"/><stop offset="36.7%" stop-color="#0000d5"/><stop offset="38.3%" stop-color="#0000d5"/><stop offset="40%" stop-color="#0000d5"/><stop offset="41.7%" stop-color="#0000d7"/><stop offset="43.3%" stop-color="#0000d1"/><stop offset="45%" stop-color="#0000cc"/><stop offset="46.7%" stop-color="#0000c7"/><stop offset="48.3%" stop-color="#0000c2"/><stop offset="50%" stop-color="#0000bc"/><stop offset="51.7%" stop-color="#0000b9"/><stop offset="53.3%" stop-color="#0000b6"/><stop offset="55%" stop-color="#0000b2"/><stop offset="56.7%" stop-color="#0000af"/><stop offset="58.3%" stop-color="#0000ac"/><stop offset="60%" stop-color="#0000a8"/><stop offset="61.7%" stop-color="#0000a5"/><stop offset="63.3%" stop-color="#0000a2" stop-opacity="0.99"/><stop offset="65%" stop-color="#00009f" stop-opacity="0.89"/><stop offset="66.7%" stop-color="#00009b" stop-opacity="0.80"/><stop offset="68.3%" stop-color="#00009a" stop-opacity="0.76"/><stop offset="70%" stop-color="#000098" stop-opacity="0.72"/><stop offset="71.7%" stop-color="#000097" stop-opacity="0.68"/><stop offset="73.3%" stop-color="#000096" stop-opacity="0.64"/><stop offset="75%" stop-color="#000094" stop-opacity="0.60"/><stop offset="76.7%" stop-color="#000093" stop-opacity="0.56"/><stop offset="78.3%" stop-color="#000092" stop-opacity="0.52"/><stop offset="80%" stop-color="#000090" stop-opacity="0.48"/><stop offset="81.7%" stop-color="#00008f" stop-opacity="0.44"/><stop offset="83.3%" stop-color="#00008d" stop-opacity="0.40"/><stop offset="85%" stop-color="#00008c" stop-opacity="0.36"/><stop offset="86.7%" stop-color="#00008b" stop-opacity="0.32"/><stop offset="88.3%" stop-color="#000089" stop-opacity="0.28"/><stop offset="90%" stop-color="#000088" stop-opacity="0.24"/><stop offset="91.7%" stop-color="#000086" stop-opacity="0.20"/><stop offset="93.3%" stop-color="#000085" stop-opacity="0.16"/><stop offset="95%" stop-color="#000084" stop-opacity="0.12"/><stop offset="96.7%" stop-color="#000082" stop-opacity="0.08"/><stop offset="98.3%" stop-color="#000081" stop-opacity="0.04"/><stop offset="100%" stop-color="#000080" stop-opacity="0.00"/></linearGradient>
<linearGradient id="gb4" gradientUnits="userSpaceOnUse" x1="260.9" y1="3683.2" x2="440.6" y2="3493"><stop offset="0%" stop-color="#00d1ff"/><stop offset="1.7%" stop-color="#00d1ff"/><stop offset="3.3%" stop-color="#00d1ff"/><stop offset="5%" stop-color="#00d1ff"/><stop offset="6.7%" stop-color="#00d1ff"/><stop offset="8.3%" stop-color="#00d1ff"/><stop offset="10%" stop-color="#00d1ff"/><stop offset="11.7%" stop-color="#00d1ff"/><stop offset="13.3%" stop-color="#00d1ff"/><stop offset="15%" stop-color="#00aaff"/><stop offset="16.7%" stop-color="#0082ff"/><stop offset="18.3%" stop-color="#005bff"/><stop offset="20%" stop-color="#003cff"/><stop offset="21.7%" stop-color="#001dff"/><stop offset="23.3%" stop-color="#0000ff"/><stop offset="25%" stop-color="#0000ff"/><stop offset="26.7%" stop-color="#0000ff"/><stop offset="28.3%" stop-color="#0000fb"/><stop offset="30%" stop-color="#0000fc"/><stop offset="31.7%" stop-color="#0000fa"/><stop offset="33.3%" stop-color="#0000f6"/><stop offset="35%" stop-color="#0000f8"/><stop offset="36.7%" stop-color="#0000f8"/><stop offset="38.3%" stop-color="#0000f7"/><stop offset="40%" stop-color="#0000f5"/><stop offset="41.7%" stop-color="#0000f6"/><stop offset="43.3%" stop-color="#0000ef"/><stop offset="45%" stop-color="#0000e8"/><stop offset="46.7%" stop-color="#0000e0"/><stop offset="48.3%" stop-color="#0000d9"/><stop offset="50%" stop-color="#0000d2"/><stop offset="51.7%" stop-color="#0000ce"/><stop offset="53.3%" stop-color="#0000c9"/><stop offset="55%" stop-color="#0000c5"/><stop offset="56.7%" stop-color="#0000c0"/><stop offset="58.3%" stop-color="#0000bc"/><stop offset="60%" stop-color="#0000b7"/><stop offset="61.7%" stop-color="#0000b3"/><stop offset="63.3%" stop-color="#0000ae"/><stop offset="65%" stop-color="#0000aa"/><stop offset="66.7%" stop-color="#0000a5"/><stop offset="68.3%" stop-color="#0000a3"/><stop offset="70%" stop-color="#0000a1" stop-opacity="0.97"/><stop offset="71.7%" stop-color="#00009f" stop-opacity="0.92"/><stop offset="73.3%" stop-color="#00009e" stop-opacity="0.87"/><stop offset="75%" stop-color="#00009c" stop-opacity="0.81"/><stop offset="76.7%" stop-color="#00009a" stop-opacity="0.76"/><stop offset="78.3%" stop-color="#000098" stop-opacity="0.70"/><stop offset="80%" stop-color="#000096" stop-opacity="0.65"/><stop offset="81.7%" stop-color="#000094" stop-opacity="0.59"/><stop offset="83.3%" stop-color="#000092" stop-opacity="0.54"/><stop offset="85%" stop-color="#000090" stop-opacity="0.49"/><stop offset="86.7%" stop-color="#00008f" stop-opacity="0.43"/><stop offset="88.3%" stop-color="#00008d" stop-opacity="0.38"/><stop offset="90%" stop-color="#00008b" stop-opacity="0.32"/><stop offset="91.7%" stop-color="#000089" stop-opacity="0.27"/><stop offset="93.3%" stop-color="#000087" stop-opacity="0.22"/><stop offset="95%" stop-color="#000085" stop-opacity="0.16"/><stop offset="96.7%" stop-color="#000083" stop-opacity="0.11"/><stop offset="98.3%" stop-color="#000081" stop-opacity="0.05"/><stop offset="100%" stop-color="#000080" stop-opacity="0.00"/></linearGradient>
<linearGradient id="gb5" gradientUnits="userSpaceOnUse" x1="260.9" y1="3683.2" x2="440.6" y2="3493"><stop offset="0%" stop-color="#8bff6c"/><stop offset="1.7%" stop-color="#8bff6c"/><stop offset="3.3%" stop-color="#8bff6c"/><stop offset="5%" stop-color="#8bff6c"/><stop offset="6.7%" stop-color="#8bff6c"/><stop offset="8.3%" stop-color="#8bff6c"/><stop offset="10%" stop-color="#8bff6c"/><stop offset="11.7%" stop-color="#8bff6c"/><stop offset="13.3%" stop-color="#8bff6c"/><stop offset="15%" stop-color="#59ff9e"/><stop offset="16.7%" stop-color="#27ffd0"/><stop offset="18.3%" stop-color="#00d8ff"/><stop offset="20%" stop-color="#00a8ff"/><stop offset="21.7%" stop-color="#0077ff"/><stop offset="23.3%" stop-color="#0047ff"/><stop offset="25%" stop-color="#0031ff"/><stop offset="26.7%" stop-color="#002cff"/><stop offset="28.3%" stop-color="#0023ff"/><stop offset="30%" stop-color="#0021ff"/><stop offset="31.7%" stop-color="#001cff"/><stop offset="33.3%" stop-color="#0014ff"/><stop offset="35%" stop-color="#0014ff"/><stop offset="36.7%" stop-color="#0012ff"/><stop offset="38.3%" stop-color="#000fff"/><stop offset="40%" stop-color="#000aff"/><stop offset="41.7%" stop-color="#000aff"/><stop offset="43.3%" stop-color="#0002ff"/><stop offset="45%" stop-color="#0000ff"/><stop offset="46.7%" stop-color="#0000ff"/><stop offset="48.3%" stop-color="#0000f6"/><stop offset="50%" stop-color="#0000ed"/><stop offset="51.7%" stop-color="#0000e7"/><stop offset="53.3%" stop-color="#0000e1"/><stop offset="55%" stop-color="#0000db"/><stop offset="56.7%" stop-color="#0000d5"/><stop offset="58.3%" stop-color="#0000cf"/><stop offset="60%" stop-color="#0000c9"/><stop offset="61.7%" stop-color="#0000c3"/><stop offset="63.3%" stop-color="#0000bd"/><stop offset="65%" stop-color="#0000b7"/><stop offset="66.7%" stop-color="#0000b1"/><stop offset="68.3%" stop-color="#0000af"/><stop offset="70%" stop-color="#0000ac"/><stop offset="71.7%" stop-color="#0000aa"/><stop offset="73.3%" stop-color="#0000a7"/><stop offset="75%" stop-color="#0000a5"/><stop offset="76.7%" stop-color="#0000a2" stop-opacity="1.00"/><stop offset="78.3%" stop-color="#0000a0" stop-opacity="0.93"/><stop offset="80%" stop-color="#00009d" stop-opacity="0.86"/><stop offset="81.7%" stop-color="#00009b" stop-opacity="0.79"/><stop offset="83.3%" stop-color="#000098" stop-opacity="0.71"/><stop offset="85%" stop-color="#000096" stop-opacity="0.64"/><stop offset="86.7%" stop-color="#000093" stop-opacity="0.57"/><stop offset="88.3%" stop-color="#000091" stop-opacity="0.50"/><stop offset="90%" stop-color="#00008e" stop-opacity="0.43"/><stop offset="91.7%" stop-color="#00008c" stop-opacity="0.36"/><stop offset="93.3%" stop-color="#000089" stop-opacity="0.29"/><stop offset="95%" stop-color="#000087" stop-opacity="0.21"/><stop offset="96.7%" stop-color="#000084" stop-opacity="0.14"/><stop offset="98.3%" stop-color="#000082" stop-opacity="0.07"/><stop offset="100%" stop-color="#000080" stop-opacity="0.00"/></linearGradient>
<linearGradient id="gb6" gradientUnits="userSpaceOnUse" x1="260.9" y1="3683.2" x2="440.6" y2="3493"><stop offset="0%" stop-color="#ff7b00"/><stop offset="1.7%" stop-color="#ff7b00"/><stop offset="3.3%" stop-color="#ff7b00"/><stop offset="5%" stop-color="#ff7b00"/><stop offset="6.7%" stop-color="#ff7b00"/><stop offset="8.3%" stop-color="#ff7b00"/><stop offset="10%" stop-color="#ff7b00"/><stop offset="11.7%" stop-color="#ff7b00"/><stop offset="13.3%" stop-color="#ff7b00"/><stop offset="15%" stop-color="#ffd100"/><stop offset="16.7%" stop-color="#ccff2b"/><stop offset="18.3%" stop-color="#81ff76"/><stop offset="20%" stop-color="#46ffb1"/><stop offset="21.7%" stop-color="#0bf4eb"/><stop offset="23.3%" stop-color="#00abff"/><stop offset="25%" stop-color="#008aff"/><stop offset="26.7%" stop-color="#007dff"/><stop offset="28.3%" stop-color="#006bff"/><stop offset="30%" stop-color="#0064ff"/><stop offset="31.7%" stop-color="#0059ff"/><stop offset="33.3%" stop-color="#004bff"/><stop offset="35%" stop-color="#0048ff"/><stop offset="36.7%" stop-color="#0043ff"/><stop offset="38.3%" stop-color="#003cff"/><stop offset="40%" stop-color="#0033ff"/><stop offset="41.7%" stop-color="#0031ff"/><stop offset="43.3%" stop-color="#0026ff"/><stop offset="45%" stop-color="#001cff"/><stop offset="46.7%" stop-color="#0011ff"/><stop offset="48.3%" stop-color="#0006ff"/><stop offset="50%" stop-color="#0000ff"/><stop offset="51.7%" stop-color="#0000ff"/><stop offset="53.3%" stop-color="#0000fc"/><stop offset="55%" stop-color="#0000f5"/><stop offset="56.7%" stop-color="#0000ed"/><stop offset="58.3%" stop-color="#0000e5"/><stop offset="60%" stop-color="#0000de"/><stop offset="61.7%" stop-color="#0000d6"/><stop offset="63.3%" stop-color="#0000cf"/><stop offset="65%" stop-color="#0000c7"/><stop offset="66.7%" stop-color="#0000bf"/><stop offset="68.3%" stop-color="#0000bc"/><stop offset="70%" stop-color="#0000b9"/><stop offset="71.7%" stop-color="#0000b6"/><stop offset="73.3%" stop-color="#0000b2"/><stop offset="75%" stop-color="#0000af"/><stop offset="76.7%" stop-color="#0000ac"/><stop offset="78.3%" stop-color="#0000a9"/><stop offset="80%" stop-color="#0000a6"/><stop offset="81.7%" stop-color="#0000a3"/><stop offset="83.3%" stop-color="#00009f" stop-opacity="0.92"/><stop offset="85%" stop-color="#00009c" stop-opacity="0.82"/><stop offset="86.7%" stop-color="#000099" stop-opacity="0.73"/><stop offset="88.3%" stop-color="#000096" stop-opacity="0.64"/><stop offset="90%" stop-color="#000093" stop-opacity="0.55"/><stop offset="91.7%" stop-color="#00008f" stop-opacity="0.46"/><stop offset="93.3%" stop-color="#00008c" stop-opacity="0.37"/><stop offset="95%" stop-color="#000089" stop-opacity="0.27"/><stop offset="96.7%" stop-color="#000086" stop-opacity="0.18"/><stop offset="98.3%" stop-color="#000083" stop-opacity="0.09"/><stop offset="100%" stop-color="#000080" stop-opacity="0.00"/></linearGradient>
<linearGradient id="gb7" gradientUnits="userSpaceOnUse" x1="260.9" y1="3683.2" x2="440.6" y2="3493"><stop offset="0%" stop-color="#800000"/><stop offset="1.7%" stop-color="#800000"/><stop offset="3.3%" stop-color="#800000"/><stop offset="5%" stop-color="#800000"/><stop offset="6.7%" stop-color="#800000"/><stop offset="8.3%" stop-color="#800000"/><stop offset="10%" stop-color="#800000"/><stop offset="11.7%" stop-color="#800000"/><stop offset="13.3%" stop-color="#800000"/><stop offset="15%" stop-color="#8c0000"/><stop offset="16.7%" stop-color="#ff3100"/><stop offset="18.3%" stop-color="#ffac00"/><stop offset="20%" stop-color="#e2ff14"/><stop offset="21.7%" stop-color="#8eff69"/><stop offset="23.3%" stop-color="#39ffbd"/><stop offset="25%" stop-color="#13fde4"/><stop offset="26.7%" stop-color="#00e5f7"/><stop offset="28.3%" stop-color="#00c6ff"/><stop offset="30%" stop-color="#00b7ff"/><stop offset="31.7%" stop-color="#00a3ff"/><stop offset="33.3%" stop-color="#008cff"/><stop offset="35%" stop-color="#0084ff"/><stop offset="36.7%" stop-color="#007bff"/><stop offset="38.3%" stop-color="#006fff"/><stop offset="40%" stop-color="#0062ff"/><stop offset="41.7%" stop-color="#005dff"/><stop offset="43.3%" stop-color="#0050ff"/><stop offset="45%" stop-color="#0042ff"/><stop offset="46.7%" stop-color="#0035ff"/><stop offset="48.3%" stop-color="#0028ff"/><stop offset="50%" stop-color="#001bff"/><stop offset="51.7%" stop-color="#0012ff"/><stop offset="53.3%" stop-color="#000aff"/><stop offset="55%" stop-color="#0001ff"/><stop offset="56.7%" stop-color="#0000ff"/><stop offset="58.3%" stop-color="#0000ff"/><stop offset="60%" stop-color="#0000f5"/><stop offset="61.7%" stop-color="#0000ec"/><stop offset="63.3%" stop-color="#0000e2"/><stop offset="65%" stop-color="#0000d9"/><stop offset="66.7%" stop-color="#0000cf"/><stop offset="68.3%" stop-color="#0000cb"/><stop offset="70%" stop-color="#0000c7"/><stop offset="71.7%" stop-color="#0000c3"/><stop offset="73.3%" stop-color="#0000bf"/><stop offset="75%" stop-color="#0000bb"/><stop offset="76.7%" stop-color="#0000b7"/><stop offset="78.3%" stop-color="#0000b3"/><stop offset="80%" stop-color="#0000af"/><stop offset="81.7%" stop-color="#0000ab"/><stop offset="83.3%" stop-color="#0000a7"/><stop offset="85%" stop-color="#0000a3"/><stop offset="86.7%" stop-color="#00009f" stop-opacity="0.92"/><stop offset="88.3%" stop-color="#00009b" stop-opacity="0.80"/><stop offset="90%" stop-color="#000097" stop-opacity="0.69"/><stop offset="91.7%" stop-color="#000093" stop-opacity="0.57"/><stop offset="93.3%" stop-color="#00008f" stop-opacity="0.46"/><stop offset="95%" stop-color="#00008b" stop-opacity="0.34"/><stop offset="96.7%" stop-color="#000087" stop-opacity="0.23"/><stop offset="98.3%" stop-color="#000083" stop-opacity="0.11"/><stop offset="100%" stop-color="#000080" stop-opacity="0.00"/></linearGradient>
<linearGradient id="gb8" gradientUnits="userSpaceOnUse" x1="260.9" y1="3683.2" x2="440.6" y2="3493"><stop offset="0%" stop-color="#800000"/><stop offset="1.7%" stop-color="#800000"/><stop offset="3.3%" stop-color="#800000"/><stop offset="5%" stop-color="#800000"/><stop offset="6.7%" stop-color="#800000"/><stop offset="8.3%" stop-color="#800000"/><stop offset="10%" stop-color="#800000"/><stop offset="11.7%" stop-color="#800000"/><stop offset="13.3%" stop-color="#800000"/><stop offset="15%" stop-color="#800000"/><stop offset="16.7%" stop-color="#800000"/><stop offset="18.3%" stop-color="#800000"/><stop offset="20%" stop-color="#ff3100"/><stop offset="21.7%" stop-color="#ffb600"/><stop offset="23.3%" stop-color="#baff3c"/><stop offset="25%" stop-color="#86ff71"/><stop offset="26.7%" stop-color="#64ff93"/><stop offset="28.3%" stop-color="#3dffba"/><stop offset="30%" stop-color="#28ffcf"/><stop offset="31.7%" stop-color="#0ff8e8"/><stop offset="33.3%" stop-color="#00d6ff"/><stop offset="35%" stop-color="#00c9ff"/><stop offset="36.7%" stop-color="#00b9ff"/><stop offset="38.3%" stop-color="#00a8ff"/><stop offset="40%" stop-color="#0095ff"/><stop offset="41.7%" stop-color="#008cff"/><stop offset="43.3%" stop-color="#007cff"/><stop offset="45%" stop-color="#006cff"/><stop offset="46.7%" stop-color="#005cff"/><stop offset="48.3%" stop-color="#004cff"/><stop offset="50%" stop-color="#003cff"/><stop offset="51.7%" stop-color="#0031ff"/><stop offset="53.3%" stop-color="#0027ff"/><stop offset="55%" stop-color="#001dff"/><stop offset="56.7%" stop-color="#0013ff"/><stop offset="58.3%" stop-color="#0009ff"/><stop offset="60%" stop-color="#0000ff"/><stop offset="61.7%" stop-color="#0000ff"/><stop offset="63.3%" stop-color="#0000f7"/><stop offset="65%" stop-color="#0000ec"/><stop offset="66.7%" stop-color="#0000e0"/><stop offset="68.3%" stop-color="#0000db"/><stop offset="70%" stop-color="#0000d7"/><stop offset="71.7%" stop-color="#0000d2"/><stop offset="73.3%" stop-color="#0000cd"/><stop offset="75%" stop-color="#0000c8"/><stop offset="76.7%" stop-color="#0000c3"/><stop offset="78.3%" stop-color="#0000be"/><stop offset="80%" stop-color="#0000ba"/><stop offset="81.7%" stop-color="#0000b5"/><stop offset="83.3%" stop-color="#0000b0"/><stop offset="85%" stop-color="#0000ab"/><stop offset="86.7%" stop-color="#0000a6"/><stop offset="88.3%" stop-color="#0000a1" stop-opacity="0.97"/><stop offset="90%" stop-color="#00009d" stop-opacity="0.83"/><stop offset="91.7%" stop-color="#000098" stop-opacity="0.70"/><stop offset="93.3%" stop-color="#000093" stop-opacity="0.56"/><stop offset="95%" stop-color="#00008e" stop-opacity="0.42"/><stop offset="96.7%" stop-color="#000089" stop-opacity="0.28"/><stop offset="98.3%" stop-color="#000084" stop-opacity="0.14"/><stop offset="100%" stop-color="#000080" stop-opacity="0.00"/></linearGradient>
<linearGradient id="gb9" gradientUnits="userSpaceOnUse" x1="260.9" y1="3683.2" x2="440.6" y2="3493"><stop offset="0%" stop-color="#800000"/><stop offset="1.7%" stop-color="#800000"/><stop offset="3.3%" stop-color="#800000"/><stop offset="5%" stop-color="#800000"/><stop offset="6.7%" stop-color="#800000"/><stop offset="8.3%" stop-color="#800000"/><stop offset="10%" stop-color="#800000"/><stop offset="11.7%" stop-color="#800000"/><stop offset="13.3%" stop-color="#800000"/><stop offset="15%" stop-color="#800000"/><stop offset="16.7%" stop-color="#800000"/><stop offset="18.3%" stop-color="#800000"/><stop offset="20%" stop-color="#800000"/><stop offset="21.7%" stop-color="#c40000"/><stop offset="23.3%" stop-color="#ff9100"/><stop offset="25%" stop-color="#ffe000"/><stop offset="26.7%" stop-color="#d6ff21"/><stop offset="28.3%" stop-color="#9dff5a"/><stop offset="30%" stop-color="#7dff7a"/><stop offset="31.7%" stop-color="#5aff9d"/><stop offset="33.3%" stop-color="#34ffc3"/><stop offset="35%" stop-color="#23ffd4"/><stop offset="36.7%" stop-color="#11fbe5"/><stop offset="38.3%" stop-color="#00e3f9"/><stop offset="40%" stop-color="#00c9ff"/><stop offset="41.7%" stop-color="#00bdff"/><stop offset="43.3%" stop-color="#00aaff"/><stop offset="45%" stop-color="#0097ff"/><stop offset="46.7%" stop-color="#0084ff"/><stop offset="48.3%" stop-color="#0071ff"/><stop offset="50%" stop-color="#005eff"/><stop offset="51.7%" stop-color="#0052ff"/><stop offset="53.3%" stop-color="#0046ff"/><stop offset="55%" stop-color="#0039ff"/><stop offset="56.7%" stop-color="#002dff"/><stop offset="58.3%" stop-color="#0021ff"/><stop offset="60%" stop-color="#0015ff"/><stop offset="61.7%" stop-color="#0009ff"/><stop offset="63.3%" stop-color="#0000ff"/><stop offset="65%" stop-color="#0000ff"/><stop offset="66.7%" stop-color="#0000f2"/><stop offset="68.3%" stop-color="#0000ec"/><stop offset="70%" stop-color="#0000e6"/><stop offset="71.7%" stop-color="#0000e1"/><stop offset="73.3%" stop-color="#0000db"/><stop offset="75%" stop-color="#0000d5"/><stop offset="76.7%" stop-color="#0000cf"/><stop offset="78.3%" stop-color="#0000ca"/><stop offset="80%" stop-color="#0000c4"/><stop offset="81.7%" stop-color="#0000be"/><stop offset="83.3%" stop-color="#0000b9"/><stop offset="85%" stop-color="#0000b3"/><stop offset="86.7%" stop-color="#0000ad"/><stop offset="88.3%" stop-color="#0000a7"/><stop offset="90%" stop-color="#0000a2" stop-opacity="0.99"/><stop offset="91.7%" stop-color="#00009c" stop-opacity="0.82"/><stop offset="93.3%" stop-color="#000096" stop-opacity="0.66"/><stop offset="95%" stop-color="#000091" stop-opacity="0.49"/><stop offset="96.7%" stop-color="#00008b" stop-opacity="0.33"/><stop offset="98.3%" stop-color="#000085" stop-opacity="0.16"/><stop offset="100%" stop-color="#000080" stop-opacity="0.00"/></linearGradient>
<linearGradient id="gb10" gradientUnits="userSpaceOnUse" x1="260.9" y1="3683.2" x2="440.6" y2="3493"><stop offset="0%" stop-color="#800000"/><stop offset="1.7%" stop-color="#800000"/><stop offset="3.3%" stop-color="#800000"/><stop offset="5%" stop-color="#800000"/><stop offset="6.7%" stop-color="#800000"/><stop offset="8.3%" stop-color="#800000"/><stop offset="10%" stop-color="#800000"/><stop offset="11.7%" stop-color="#800000"/><stop offset="13.3%" stop-color="#800000"/><stop offset="15%" stop-color="#800000"/><stop offset="16.7%" stop-color="#800000"/><stop offset="18.3%" stop-color="#800000"/><stop offset="20%" stop-color="#800000"/><stop offset="21.7%" stop-color="#800000"/><stop offset="23.3%" stop-color="#830000"/><stop offset="25%" stop-color="#ff1700"/><stop offset="26.7%" stop-color="#ff6f00"/><stop offset="28.3%" stop-color="#ffcd00"/><stop offset="30%" stop-color="#ebff0c"/><stop offset="31.7%" stop-color="#b9ff3e"/><stop offset="33.3%" stop-color="#84ff73"/><stop offset="35%" stop-color="#6cff8b"/><stop offset="36.7%" stop-color="#53ffa4"/><stop offset="38.3%" stop-color="#38ffbf"/><stop offset="40%" stop-color="#1dffda"/><stop offset="41.7%" stop-color="#0ef7e9"/><stop offset="43.3%" stop-color="#00e0fb"/><stop offset="45%" stop-color="#00caff"/><stop offset="46.7%" stop-color="#00b3ff"/><stop offset="48.3%" stop-color="#009dff"/><stop offset="50%" stop-color="#0086ff"/><stop offset="51.7%" stop-color="#0078ff"/><stop offset="53.3%" stop-color="#006aff"/><stop offset="55%" stop-color="#005cff"/><stop offset="56.7%" stop-color="#004dff"/><stop offset="58.3%" stop-color="#003fff"/><stop offset="60%" stop-color="#0031ff"/><stop offset="61.7%" stop-color="#0022ff"/><stop offset="63.3%" stop-color="#0014ff"/><stop offset="65%" stop-color="#0006ff"/><stop offset="66.7%" stop-color="#0000ff"/><stop offset="68.3%" stop-color="#0000ff"/><stop offset="70%" stop-color="#0000f9"/><stop offset="71.7%" stop-color="#0000f2"/><stop offset="73.3%" stop-color="#0000ec"/><stop offset="75%" stop-color="#0000e5"/><stop offset="76.7%" stop-color="#0000de"/><stop offset="78.3%" stop-color="#0000d7"/><stop offset="80%" stop-color="#0000d1"/><stop offset="81.7%" stop-color="#0000ca"/><stop offset="83.3%" stop-color="#0000c3"/><stop offset="85%" stop-color="#0000bc"/><stop offset="86.7%" stop-color="#0000b6"/><stop offset="88.3%" stop-color="#0000af"/><stop offset="90%" stop-color="#0000a8"/><stop offset="91.7%" stop-color="#0000a1" stop-opacity="0.97"/><stop offset="93.3%" stop-color="#00009b" stop-opacity="0.78"/><stop offset="95%" stop-color="#000094" stop-opacity="0.58"/><stop offset="96.7%" stop-color="#00008d" stop-opacity="0.39"/><stop offset="98.3%" stop-color="#000086" stop-opacity="0.19"/><stop offset="100%" stop-color="#000080" stop-opacity="0.00"/></linearGradient>
<linearGradient id="gb11" gradientUnits="userSpaceOnUse" x1="260.9" y1="3683.2" x2="440.6" y2="3493"><stop offset="0%" stop-color="#800000"/><stop offset="1.7%" stop-color="#800000"/><stop offset="3.3%" stop-color="#800000"/><stop offset="5%" stop-color="#800000"/><stop offset="6.7%" stop-color="#800000"/><stop offset="8.3%" stop-color="#800000"/><stop offset="10%" stop-color="#800000"/><stop offset="11.7%" stop-color="#800000"/><stop offset="13.3%" stop-color="#800000"/><stop offset="15%" stop-color="#800000"/><stop offset="16.7%" stop-color="#800000"/><stop offset="18.3%" stop-color="#800000"/><stop offset="20%" stop-color="#800000"/><stop offset="21.7%" stop-color="#800000"/><stop offset="23.3%" stop-color="#800000"/><stop offset="25%" stop-color="#800000"/><stop offset="26.7%" stop-color="#800000"/><stop offset="28.3%" stop-color="#c90000"/><stop offset="30%" stop-color="#ff3d00"/><stop offset="31.7%" stop-color="#ff9300"/><stop offset="33.3%" stop-color="#ffeb00"/><stop offset="35%" stop-color="#dbff1c"/><stop offset="36.7%" stop-color="#b5ff42"/><stop offset="38.3%" stop-color="#8fff68"/><stop offset="40%" stop-color="#68ff8e"/><stop offset="41.7%" stop-color="#53ffa4"/><stop offset="43.3%" stop-color="#3dffba"/><stop offset="45%" stop-color="#26ffd0"/><stop offset="46.7%" stop-color="#10fae7"/><stop offset="48.3%" stop-color="#00defd"/><stop offset="50%" stop-color="#00c2ff"/><stop offset="51.7%" stop-color="#00b1ff"/><stop offset="53.3%" stop-color="#009fff"/><stop offset="55%" stop-color="#008eff"/><stop offset="56.7%" stop-color="#007cff"/><stop offset="58.3%" stop-color="#006bff"/><stop offset="60%" stop-color="#0059ff"/><stop offset="61.7%" stop-color="#0047ff"/><stop offset="63.3%" stop-color="#0036ff"/><stop offset="65%" stop-color="#0024ff"/><stop offset="66.7%" stop-color="#0013ff"/><stop offset="68.3%" stop-color="#000bff"/><stop offset="70%" stop-color="#0004ff"/><stop offset="71.7%" stop-color="#0000ff"/><stop offset="73.3%" stop-color="#0000ff"/><stop offset="75%" stop-color="#0000fc"/><stop offset="76.7%" stop-color="#0000f4"/><stop offset="78.3%" stop-color="#0000ec"/><stop offset="80%" stop-color="#0000e3"/><stop offset="81.7%" stop-color="#0000db"/><stop offset="83.3%" stop-color="#0000d3"/><stop offset="85%" stop-color="#0000ca"/><stop offset="86.7%" stop-color="#0000c2"/><stop offset="88.3%" stop-color="#0000ba"/><stop offset="90%" stop-color="#0000b1"/><stop offset="91.7%" stop-color="#0000a9"/><stop offset="93.3%" stop-color="#0000a1" stop-opacity="0.96"/><stop offset="95%" stop-color="#000098" stop-opacity="0.72"/><stop offset="96.7%" stop-color="#000090" stop-opacity="0.48"/><stop offset="98.3%" stop-color="#000088" stop-opacity="0.24"/><stop offset="100%" stop-color="#000080" stop-opacity="0.00"/></linearGradient>
<clipPath id="clipb"><rect x="260.9" y="2098.2" width="1497.6" height="1585"/></clipPath></defs>
<rect width="2253" height="3917" fill="#fff"/>
<g id="panel-a">
<g clip-path="url(#clipa)">
<path d="M335.6 1578.9h0M346.9 1557h0M349.8 1574.3h0M321.9 1614h0M313.4 1597h0M357.7 1570h0M300.8 1620.5h0M340.3 1559.9h0M349.8 1571.7h0M327.4 1590h0M314.8 1598h0M316.5 1602.5h0M308.6 1597.9h0M326.9 1592.3h0M325.8 1584.2h0M328.6 1580.9h0M361.4 1558.9h0M350 1572.5h0M348.5 1591.5h0M365.2 1563.3h0M313.4 1607.1h0M308.4 1609.1h0M336.8 1581.6h0M302.3 1617.2h0M302.6 1618.5h0M327.9 1584.9h0M312.6 1576.3h0M363.4 1570.2h0M332 1575.1h0M337 1593.6h0M330.5 1589.6h0M315.5 1605.3h0M302.7 1621.4h0M308 1604.7h0M338.3 1573.5h0M307.5 1603.3h0M322.6 1597.4h0M305.2 1624.8h0M347.6 1565.7h0M311.2 1612.3h0M317.7 1604.9h0M353.8 1565.5h0M329.7 1587.2h0M358.2 1573.7h0M338.8 1580.3h0M341.9 1570.9h0M300.2 1609.5h0M337.8 1591.2h0M334.3 1591.8h0M354 1566.8h0M321.2 1597h0M344.2 1590.4h0M303.9 1616.9h0M320.8 1593.4h0M322.2 1602.5h0M308.3 1610.1h0M349 1568.7h0M321.4 1595h0M357.8 1557.5h0M327.6 1575.6h0M332.3 1578.3h0M334.7 1576.5h0M333.6 1571h0M308.4 1610.2h0M327.8 1593.8h0M310.6 1601.6h0M334.2 1604.3h0M305.7 1614.1h0M360.5 1561.3h0M308.9 1602.9h0M335.9 1573.7h0M331.5 1614.1h0M356.1 1568.5h0M339.1 1577.9h0M303.7 1608h0M359.7 1575.4h0M351.4 1555.6h0M351.7 1560.7h0M333.6 1583.7h0M310.3 1612.6h0M311.9 1608.5h0M355.6 1561.6h0M343.1 1594.8h0M311.6 1609.6h0M355.8 1567h0M331.5 1573.1h0M338.3 1588.2h0M315.1 1589.4h0M321.9 1591.7h0M324.6 1614.8h0M298.6 1614.5h0M352.7 1565h0M322.9 1585.9h0M327.5 1580.6h0M324.7 1605h0M342.9 1570.7h0M301.7 1618.9h0M321.3 1595.7h0M298.4 1615.1h0M307.2 1612.4h0M364.6 1565.3h0M335.7 1575.2h0M328.1 1595.5h0M337.1 1592.5h0M345.7 1558.8h0M324.9 1602.5h0M326 1574.1h0M344.7 1580.6h0M320.1 1596.6h0M326 1582.6h0M345.4 1571.4h0M351.1 1559.6h0M303.5 1605.5h0M362.4 1567.3h0M303.6 1623.1h0M339.8 1567.6h0M344.1 1564.8h0M306.8 1610.4h0M322.9 1591.7h0M342 1562.2h0M303.7 1622.1h0M338.2 1581h0M342.5 1565.3h0M328.7 1585.9h0M339.7 1570.8h0M313.2 1605.6h0M314.8 1610.5h0M325.1 1600.5h0M307.1 1605.5h0M321.5 1599.1h0M351.8 1555.6h0M326 1576.1h0M316 1594.6h0M316.5 1603.4h0M348.3 1551.8h0M323.6 1589.3h0M361.6 1560.9h0M327.8 1584.7h0M328 1584.2h0M348.5 1558.6h0M334.8 1564.1h0M333.7 1582.5h0M325.9 1593.6h0M353.4 1565.5h0M320.3 1590.1h0M344.3 1551.5h0M306.9 1618.6h0M321.7 1589.2h0M329.9 1586.2h0M340.4 1544.4h0M310.9 1600.5h0M342.7 1563.9h0M332.9 1570.3h0M351.1 1582.6h0M336.1 1578.9h0M347.2 1548.3h0M320.3 1599.6h0M324 1595.2h0M312.4 1607.7h0M307.3 1621.2h0M312.7 1606.8h0M355 1562.4h0M342.7 1559.9h0M303.8 1610.4h0M336.2 1582.1h0M328.3 1589.6h0M331.2 1578.5h0M337.1 1576.3h0M318.9 1601.4h0M358.5 1560.3h0M325.4 1588.5h0M327.2 1570.7h0M339.4 1581.3h0M309.9 1607.6h0M301.3 1614.1h0M320.2 1590h0M339.6 1566h0M350.9 1570.6h0M341.8 1572.3h0M301.7 1608.4h0M356.7 1564.3h0M350.8 1572.1h0M351.6 1563.8h0M334 1589.7h0M346.3 1554.3h0M306.7 1621.1h0M303 1619.5h0M304.3 1621.9h0M294.7 1584.9h0M308.9 1598.9h0M309.3 1606.6h0M332.6 1583.1h0M307.8 1623h0M335.4 1582.9h0M301.5 1601.8h0M343.4 1580h0M302.1 1619.8h0M315.7 1597.9h0M361.1 1565.5h0M338.2 1591.8h0M447.5 1472.7h0M385.8 1531.3h0M426.1 1457.8h0M403.8 1476h0M425.7 1465.5h0M395.1 1517.6h0M351.9 1548.8h0M422.4 1474.4h0M375.9 1527.9h0M366.3 1537.4h0M421 1470.8h0M419.5 1489.8h0M383.4 1540.9h0M385.8 1533.3h0M436.6 1460.5h0M382.9 1530.3h0M423.2 1490.4h0M359.1 1532.9h0M440.9 1486.8h0M365.8 1541.4h0M396.3 1498.5h0M378.9 1568.6h0M401.3 1497.1h0M433.1 1473.8h0M362.8 1544.5h0M391.2 1537.2h0M426.1 1481.9h0M402.9 1488.2h0M358.7 1499.6h0M407.5 1488.8h0M415.1 1527.3h0M428.4 1466.5h0M394.8 1537.3h0M420.7 1478.1h0M393.5 1474.3h0M407.4 1468.7h0M392.5 1519.7h0M426.9 1489.8h0M421.5 1489.5h0M379.8 1506h0M358.3 1550.7h0M448.8 1467.7h0M419.4 1484.8h0M381.2 1540.2h0M457.4 1517.6h0M375.3 1521.4h0M421.3 1530.5h0M427.8 1466.4h0M399.1 1513.4h0M384.8 1528.7h0M393.1 1533.4h0M364.5 1547.5h0M379.8 1536.3h0M383.5 1530.5h0M378.4 1543.3h0M368.4 1553.6h0M401.3 1512.3h0M384.8 1541.9h0M437.7 1497.5h0M437 1463.8h0M376.1 1523.1h0M406.3 1497.8h0M400 1503.7h0M362.5 1545.9h0M371.4 1545.3h0M445.3 1478.5h0M397.3 1507h0M435.3 1483.5h0M363.2 1548.1h0M433 1519h0M439.3 1476.3h0M443.4 1479.9h0M348.5 1545.1h0M400.1 1501.1h0M394.3 1523h0M421.8 1478.7h0M366 1549.5h0M391.5 1539.1h0M426.7 1473.8h0M395.7 1506.3h0M401.5 1514.7h0M444.3 1462.4h0M392.7 1530.4h0M362.6 1552h0M387.3 1512.3h0M359.8 1529.2h0M369.2 1551h0M405.2 1497.6h0M446.1 1466.8h0M397.9 1488.6h0M411.8 1489.5h0M391.1 1528.2h0M418.7 1509.7h0M435.5 1493.1h0M422.2 1509.8h0M431.4 1480h0M416.2 1511.1h0M379.6 1540h0M409.9 1499.4h0M400.2 1506.7h0M369.4 1536.1h0M423 1505.2h0M433.2 1479.2h0M367.1 1539.5h0M407.5 1503.9h0M440.5 1501.1h0M385.7 1508.9h0M374.6 1522.3h0M411.7 1538.9h0M397.5 1495h0M432.2 1501.8h0M405.5 1499.4h0M371.9 1549h0M443.6 1488.9h0M453.4 1479.1h0M377.6 1555.5h0M381.9 1532.9h0M373.5 1538.5h0M433.7 1473.9h0M454.3 1482.4h0M365.8 1554.6h0M397.8 1533h0M361.3 1523.6h0M399.2 1509.6h0M444.9 1471.4h0M363.6 1547.9h0M389.3 1553.9h0M394.9 1502.4h0M410.7 1510.7h0M433.8 1492.7h0M392.9 1509.4h0M378.2 1548.8h0M394.6 1526.1h0M472.6 1486.7h0M439.1 1496.7h0M370.1 1545.6h0M440.4 1487.6h0M392.7 1532.1h0M426.2 1479h0M365.2 1559.7h0M442.2 1477.9h0M385.1 1551.5h0M390.4 1503.7h0M408.4 1483.7h0M399.6 1503.1h0M379.2 1545.4h0M379.5 1550.5h0M384.6 1529.1h0M366.2 1553.5h0M379.7 1536.7h0M361 1534.6h0M395.4 1506.9h0M398.5 1529.3h0M419.2 1507.4h0M393.3 1538h0M367.4 1557.9h0M355.4 1493.1h0M430.1 1487.4h0M387.2 1536.7h0M386.5 1509.3h0M442.9 1499.6h0M395.4 1517.3h0M447.5 1480.1h0M448.9 1475.9h0M392.1 1531.5h0M437.4 1497.7h0M381.7 1532h0M378.8 1549.7h0M402.6 1518.5h0M404.5 1490.7h0M438.5 1462.9h0M365.2 1535.7h0M409.5 1475.6h0M390.9 1500.7h0M374.9 1547.5h0M435.1 1453h0M430.3 1498.3h0M369.9 1543.2h0M439 1468.7h0M361.2 1539.6h0M370.7 1550.5h0M383.2 1519.4h0M449.5 1472.9h0M367.3 1558h0M428 1456.1h0M418.6 1502.4h0M352.9 1538.2h0M417.3 1508.9h0M385.4 1498.5h0M402.4 1495.6h0M436.7 1496.8h0M422.6 1494.1h0M455.3 1467.7h0M357.8 1526.8h0M439.3 1485.7h0M390.7 1512.1h0M443.8 1495.3h0M440.4 1472.5h0M448 1461.8h0M372.6 1521.1h0M393.8 1507.5h0M444.2 1467h0M456.3 1477.9h0M402.6 1530.2h0M442.1 1465.4h0M387.9 1510.3h0M384.6 1512.9h0M441.7 1498.1h0M404.4 1514.3h0M392.2 1506.8h0M405.6 1530.7h0M402.9 1519.7h0M377.6 1548.5h0M371 1556.5h0M430.4 1487.9h0M406.7 1499.6h0M407 1480.6h0M420.8 1470.2h0M368.7 1523.9h0M384.5 1538.2h0M379.8 1525.7h0M393 1533.5h0M435.7 1491.7h0M414.1 1540.8h0M400 1536.7h0M395.6 1476.2h0M387.7 1549.7h0M371.1 1548.4h0M423.9 1492h0M422.8 1480.3h0M388.6 1530.8h0M418.8 1498.1h0M359 1550h0M382.8 1505.8h0M422.7 1512.3h0M386.8 1536.8h0M384.3 1517.3h0M411.2 1495.7h0M419.3 1506.9h0M370.5 1539.2h0M426.2 1492.5h0M374.2 1556.1h0M454.7 1472h0M376.4 1536.1h0M377 1527.5h0M375.8 1535.9h0M455.8 1469.2h0M384.8 1528.9h0M427.7 1512.1h0M464.6 1477.7h0M458.3 1479h0M368.7 1557.7h0M398 1499.1h0M427.7 1512.9h0M429.7 1496.5h0M385.9 1521h0M378 1515h0M356.9 1553.4h0M364.5 1555h0M398.7 1494.7h0M374.8 1557.4h0M376.2 1535.9h0M394.3 1529.5h0M355.8 1540.4h0M381.9 1572.2h0M452.3 1477.5h0M398.7 1515.3h0M370.7 1530.3h0M436.2 1501.6h0M358.6 1554h0M379.3 1531.2h0M438.9 1458.7h0M430.3 1462h0M416.7 1496.2h0M368.8 1548.6h0M385.8 1524.2h0M349.3 1541.9h0M390.2 1546.1h0M381.5 1572.8h0M365.9 1539.9h0M427.3 1506.7h0M369.5 1547.9h0M373.7 1541.9h0M458.1 1487.3h0M403.9 1538.2h0M383.7 1519.6h0M372.4 1553.2h0M426.3 1476.5h0M407.4 1480.2h0M415.9 1511.4h0M419 1501.6h0M373.8 1552h0M398.9 1547h0M410 1499.3h0M449.5 1470.3h0M434.5 1480.4h0M402 1481.4h0M404.8 1506.1h0M351.3 1546.1h0M440.1 1472.5h0M359 1544.1h0M356.5 1530.5h0M433.5 1501.8h0M429.1 1476.2h0M427.9 1479.7h0M402.8 1516.1h0M361.3 1526.4h0M357.1 1548h0M423.1 1463.5h0M450.9 1467h0M383.2 1535.1h0M432 1469.3h0M408.8 1530.7h0M383.8 1523.5h0M392.7 1497h0M362.9 1558.3h0M394 1509.5h0M386 1545.7h0M427.4 1492.5h0M399.3 1503.7h0M456.6 1492h0M436.6 1468.1h0M387.7 1526.3h0M386.9 1532.1h0M446.6 1469.9h0M407.8 1511.5h0M359.8 1539.5h0M363.7 1552.3h0M431.1 1446.1h0M409.5 1499.6h0M363.7 1550.8h0M409.4 1511.8h0M398.7 1502.9h0M400.6 1517.1h0M441.1 1462.5h0M445.2 1466.8h0M364.8 1539.1h0M379.6 1548.3h0M402.7 1524.1h0M421.1 1464.7h0M413.2 1495.1h0M421.8 1484.2h0M395.6 1487.1h0M369.7 1528.4h0M430.5 1476.5h0M353.2 1548.1h0M423.1 1491h0M381.7 1542.6h0M396.8 1507.1h0M451.8 1468.4h0M418.3 1515.2h0M356.1 1543.1h0M406.5 1523.9h0M428.1 1502.6h0M373.3 1559.4h0M382.4 1532.8h0M363.1 1556.7h0M401.9 1499.5h0M400.3 1526.5h0M410.6 1514.2h0M388.9 1531.2h0M418.6 1494.3h0M370.9 1536.2h0M404.1 1435.6h0M436.1 1456.2h0M390.9 1497.5h0M400.5 1511.6h0M430 1468.5h0M402.1 1544.7h0M426.8 1475.7h0M379.1 1523.4h0M439 1502.2h0M378.2 1514.2h0M423.2 1508.4h0M453.3 1478.6h0M364.2 1551.3h0M421.3 1469.7h0M404 1501.1h0M395 1521.9h0M397.6 1529.5h0M369.8 1553.8h0M386.2 1535.3h0M412.5 1494.6h0M375.7 1554.4h0M411.7 1485.5h0M440.5 1460h0M449.5 1465.1h0M446.2 1478.5h0M436.2 1484h0M379.5 1543.4h0M442.9 1460.9h0M384.9 1544.1h0M420.6 1457.9h0M433.3 1468.3h0M405.3 1488h0M398.5 1499.6h0M380.9 1540.8h0M412.8 1513.5h0M379.1 1522.8h0M371.3 1545h0M384 1556.7h0M434.4 1483.2h0M455.1 1481h0M379.8 1550.2h0M368.6 1562.8h0M381.6 1530h0M374.6 1546.6h0M392.4 1553.7h0M406.5 1496h0M389.7 1509.1h0M407.9 1525h0M370.9 1530.3h0M420.2 1494.4h0M390.4 1533.7h0M393.1 1516.6h0M400 1511.5h0M431.4 1461.8h0M381.3 1532.9h0M414 1478.7h0M390.8 1530.4h0M488.5 1418.5h0M455.4 1465.9h0M484.4 1439.1h0M473.6 1404.9h0M460.2 1445.8h0M545.4 1368.6h0M488.7 1396.3h0M513.3 1385.7h0M494.5 1436h0M498 1421.1h0M529.6 1356.7h0M497.6 1394.5h0M526.1 1391h0M488.3 1397h0M509.6 1384.8h0M555.4 1346.5h0M490.7 1436.4h0M506.8 1391.3h0M527 1370h0M461.7 1452.4h0M560.9 1336.1h0M507.5 1396.9h0M493.1 1444.1h0M557.5 1381.4h0M551.8 1362.7h0M531.2 1387.6h0M562.5 1348.7h0M472.2 1461.9h0M510.5 1392.8h0M549.3 1377.8h0M568.4 1354.1h0M543.7 1396.8h0M539.7 1402.5h0M493.5 1410.1h0M522.5 1393.6h0M520.2 1395.4h0M550.2 1339.7h0M541.5 1350.2h0M527.4 1358.5h0M545.2 1330.5h0M463.5 1459h0M530.1 1353.2h0M508.3 1406.1h0M533.8 1361h0M494.9 1433.5h0M509.7 1406.5h0M553.2 1361.8h0M468.1 1470.9h0M486.2 1426.5h0M498.2 1390.6h0M552.6 1354.9h0M486.2 1431.6h0M548.3 1357.6h0M482.1 1433.8h0M475.6 1413.7h0M518.9 1394.4h0M568.2 1417h0M546.7 1342.4h0M546.9 1342.7h0M524.9 1472.9h0M546.7 1374.7h0M544.1 1398.7h0M507.8 1424.2h0M529.2 1350.8h0M573 1363.1h0M509.8 1403.7h0M552.9 1339.6h0M471.3 1451.7h0M473.5 1444.5h0M546.9 1370.4h0M476.2 1413.6h0M541.6 1408.3h0M508.6 1398.3h0M476.1 1451.9h0M524.4 1351.5h0M527.2 1357.3h0M476.8 1452.7h0M488.7 1436.4h0M539.6 1354.8h0M567 1353.9h0M547.9 1345.9h0M505.3 1394h0M488.2 1410.1h0M494.2 1397.1h0M459.3 1428.7h0M510.8 1400.6h0M487.3 1442h0M475.6 1447.5h0M517 1434.2h0M456.1 1452.6h0M510.2 1406.2h0M525.9 1366.9h0M529 1380.6h0M577 1348.3h0M559.3 1352.9h0M517.9 1374.3h0M547.5 1339h0M498 1400.9h0M534.9 1350.7h0M473.4 1416.1h0M514.9 1397.1h0M554.3 1325.6h0M514.2 1379.2h0M514.6 1401.6h0M526.4 1345.5h0M492.8 1427.7h0M530 1338.4h0M440.9 1449.1h0M475.7 1429.3h0M466.8 1435.5h0M478.1 1427h0M577.6 1355.9h0M453.5 1459.7h0M471.9 1411.2h0M514.4 1385.2h0M538 1376.7h0M545.2 1366.5h0M486.8 1405h0M472 1430.1h0M545.7 1348.1h0M454 1436.7h0M457.2 1453.4h0M472.1 1427.5h0M507.2 1398h0M563.5 1343.4h0M530.8 1363.7h0M531.1 1403.5h0M504.8 1388.9h0M534.5 1375.6h0M523 1380.9h0M491 1420.2h0M472.5 1461.2h0M465 1428.2h0M551.1 1369.9h0M515.8 1372.1h0M550.6 1366h0M444.9 1446.6h0M555.3 1345.6h0M489.4 1407.7h0M556.3 1340.5h0M537.5 1402.2h0M525.3 1402h0M547.7 1358.2h0M518.8 1377.1h0M546.6 1391.6h0M459 1432.8h0M508.5 1372.5h0M491.7 1416h0M458 1451.6h0M468.8 1448h0M507.3 1401.2h0M527.7 1472.7h0M533.5 1357.5h0M461.1 1443.3h0M445.7 1454.8h0M579 1344.9h0M480.5 1415.9h0M490 1377.7h0M473.5 1434h0M469.7 1430.7h0M503 1415.7h0M524.6 1343.1h0M461.3 1463.5h0M552.7 1358.3h0M564.6 1332.9h0M510.8 1385.5h0M496.6 1419.8h0M475.3 1430h0M477.6 1444.4h0M504.7 1436.3h0M552.4 1354.6h0M459.4 1470.2h0M549.8 1367.9h0M523.9 1371.9h0M463 1469.9h0M464.5 1459.2h0M519.7 1351.7h0M533.5 1379.6h0M504 1438h0M570.6 1369.5h0M481.8 1441.8h0M497.1 1404.2h0M463 1446.9h0M531.5 1384.3h0M454.3 1445.3h0M443.2 1412.7h0M557.7 1380.1h0M503.6 1392.8h0M513.3 1363.2h0M512.3 1345h0M538.1 1399.9h0M472 1435.5h0M525 1365.5h0M454.4 1438.5h0M491.6 1436.8h0M500.5 1402.4h0M441.7 1426.9h0M465.9 1451.8h0M527.9 1379.3h0M532.5 1362.2h0M488.1 1409.2h0M490.4 1406.8h0M474.4 1435.4h0M507.6 1391.4h0M508.6 1378.3h0M571.8 1353.3h0M466.2 1467.8h0M556.9 1345.2h0M568.6 1336.6h0M500.4 1426.8h0M530.3 1364h0M552.2 1360.9h0M539.9 1390.9h0M482.3 1423.4h0M505.7 1365.4h0M542.9 1339.5h0M450.8 1437.2h0M507.1 1401h0M438.6 1446h0M536.4 1341.1h0M547.2 1367.3h0M473.3 1473.2h0M545.6 1373.6h0M531.2 1373h0M475 1455.5h0M523.3 1405.4h0M542.3 1384.1h0M479 1409.1h0M528 1415h0M552.3 1324.7h0M522.9 1378.5h0M488.6 1378.2h0M460.5 1456.3h0M462.6 1445h0M558.3 1360.4h0M536.2 1365.5h0M537.7 1344.7h0M518.3 1388h0M505.2 1376.1h0M533.1 1413.4h0M521.4 1353.3h0M495.3 1425.7h0M499.1 1389.4h0M499.1 1395.9h0M523.5 1372.9h0M482.5 1441.1h0M453.1 1459.1h0M461.6 1451.9h0M459.3 1427.9h0M560.9 1361.3h0M533.1 1368.7h0M535.2 1362.8h0M516.6 1418.5h0M470.3 1456.7h0M506.2 1403.7h0M561.1 1360.1h0M499.9 1387.2h0M524.1 1380.6h0M496.6 1416.4h0M464.5 1439.9h0M512.9 1371.2h0M507 1399.7h0M480.9 1408.4h0M480 1428.5h0M544.6 1384.6h0M493 1426.5h0M523.9 1393.8h0M476.2 1424.6h0M560.9 1386.2h0M495.8 1415.5h0M497.6 1392.4h0M583.8 1366.1h0M557 1391h0M539.2 1369.8h0M496.7 1424.9h0M555.4 1360.1h0M498.1 1415.1h0M577.2 1345.3h0M551 1342.7h0M517.6 1367.9h0M531.3 1339.6h0M519.5 1397.3h0M538.2 1369.6h0M464.5 1446h0M579.2 1347.1h0M541.1 1356.2h0M466 1443.1h0M483.6 1435.7h0M537.7 1407.1h0M560.8 1383.9h0M474.5 1449.6h0M566.8 1342.1h0M498 1424.5h0M557.4 1325h0M547.4 1373.6h0M518 1409.9h0M493.5 1416.3h0M449.8 1438.8h0M467 1457.1h0M521.4 1378.6h0M543.2 1364.6h0M545.2 1334.4h0M496.1 1418.2h0M549 1330.8h0M483.3 1422.4h0M570.3 1350.4h0M558.1 1343.8h0M466.1 1440.2h0M566.7 1366h0M559.2 1396.5h0M533 1372.1h0M548.4 1353.6h0M505.4 1385.8h0M514.2 1401.3h0M503.5 1424.7h0M557.2 1355.9h0M553.9 1344.2h0M474.4 1446.7h0M543.4 1365.1h0M480.3 1424.7h0M463.4 1430.7h0M477.9 1441.2h0M519.5 1390.3h0M495.8 1438.3h0M473.8 1426.5h0M464.2 1452h0M493.5 1425.4h0M538.1 1359.7h0M450.4 1457.3h0M505.8 1399.1h0M526.5 1389.9h0M483.4 1481.8h0M490.4 1429.8h0M544.2 1333.7h0M560.4 1328h0M551.8 1354.4h0M477.1 1447.1h0M546.2 1369.8h0M510.4 1411.1h0M464.4 1434.9h0M532.7 1425h0M558.2 1343h0M540.4 1337.2h0M497.7 1413.3h0M473.8 1469.4h0M548.9 1339.6h0M575 1343.6h0M516.1 1401.9h0M504.3 1459.5h0M518.7 1396.7h0M542.6 1382.6h0M511.1 1404.3h0M497.2 1422.2h0M472.2 1423.7h0M476.3 1415.8h0M460.5 1460.1h0M481 1430.3h0M566.2 1343.3h0M462.1 1471.6h0M525.2 1358.7h0M544.6 1362.3h0M509.6 1421.4h0M510 1376.1h0M468.7 1426.8h0M512.8 1361.2h0M541.5 1378.8h0M542.9 1373.7h0M495.3 1387.1h0M578.6 1350.9h0M549.3 1348.2h0M515.7 1386.9h0M536.8 1380.5h0M490.4 1434.4h0M553.5 1333.6h0M530.1 1383.1h0M556.7 1348.3h0M497.9 1438.2h0M560.3 1330.8h0M475.3 1460.8h0M497.1 1379.5h0M468.8 1453.5h0M486.8 1451.4h0M548.6 1372h0M469.6 1464.8h0M505.7 1423h0M449.4 1415.6h0M545.9 1348.8h0M470.5 1461.8h0M493.1 1422.1h0M551.6 1352.8h0M546.9 1389h0M539.4 1377.9h0M547.8 1316.8h0M443.5 1450.4h0M530.8 1379.1h0M535.6 1364.3h0M530.3 1358.5h0M533.5 1369.8h0M455.2 1449.8h0M475.3 1466h0M542.6 1364.3h0M522.7 1384.1h0M475.9 1423.6h0M447.4 1457.5h0M514.2 1394.8h0M459.6 1449.6h0M539.8 1367.5h0M490.6 1418.8h0M538.6 1352.1h0M463.4 1451.9h0M499.3 1390.3h0M466.8 1454.1h0M560.8 1379.6h0M515.4 1389.6h0M479 1433.3h0M588.6 1362.1h0M531 1375.1h0M471.9 1402.2h0M556.7 1357.8h0M487.5 1406.4h0M576.2 1355.3h0M474.9 1414.4h0M569.3 1338.7h0M460.1 1456.8h0M549.6 1380h0M488.9 1429h0M490.7 1399h0M528.6 1383.8h0M456.6 1457.4h0M490.8 1447.1h0M459.3 1446h0M534.4 1364.5h0M480.7 1438.1h0M507.8 1397.3h0M480.4 1412.1h0M472.1 1426.4h0M563.6 1345.2h0M510.9 1398h0M519.1 1371.4h0M532.4 1371.1h0M549.3 1359.1h0M447.1 1396.3h0M446.7 1440.2h0M487.6 1385.6h0M455.8 1426.9h0M454.4 1461.4h0M561.6 1347h0M507.7 1366.4h0M506.1 1415.8h0M474.9 1452.9h0M541.5 1366h0M517.4 1398h0M474.3 1443.4h0M561.4 1331.8h0M579.4 1356.4h0M551.8 1336h0M544.9 1353.6h0M491.3 1373.6h0M492.7 1430.5h0M522 1373.8h0M482.7 1456.8h0M508.7 1369.7h0M471.3 1466.5h0M433 1442.8h0M534 1369.9h0M490.9 1418.6h0M529.3 1369.8h0M558.2 1377.3h0M540.8 1347.5h0M520.4 1381h0M551.7 1355.2h0M528.2 1378h0M558.1 1341.9h0M564.2 1355h0M453 1454.6h0M504.8 1449.7h0M489.4 1406.1h0M478.6 1428.7h0M475.1 1443.4h0M560.1 1356.7h0M464.8 1470.1h0M466.9 1434.5h0M550.2 1374.5h0M476.2 1433.3h0M464.7 1414h0M574.2 1347.5h0M528.7 1353.5h0M499 1400.8h0M470.2 1448.6h0M477.1 1423.3h0M558.2 1329h0M549.4 1366.4h0M466.5 1461h0M528.6 1366.9h0M491.7 1411.3h0M539.6 1374.2h0M485.7 1425h0M463.2 1443.4h0M467.3 1473.8h0M482.5 1421.9h0M544 1344.6h0M552.5 1345.2h0M534.9 1378.5h0M532.5 1360.7h0M465 1429.6h0M478.7 1404.3h0M578.1 1367.5h0M573.3 1342.1h0M492.3 1395.8h0M547.3 1368h0M565.6 1347.5h0M580.9 1346.7h0M476.8 1416.5h0M539.1 1389.5h0M503.5 1419.2h0M494.9 1393.1h0M506.5 1404.8h0M484.9 1428.3h0M454.5 1461.8h0M520.8 1345.2h0M535.3 1375.8h0M546.6 1351.8h0M474.9 1449h0M479.8 1433.4h0M515.6 1381.2h0M552 1333.8h0M503.7 1399.7h0M476 1438.6h0M520.2 1385.9h0M550.4 1327.3h0M569 1366.3h0M565.5 1355.7h0M499.3 1410.3h0M482.8 1430.2h0M559.2 1356.5h0M546.2 1364h0M549.6 1352h0M506.5 1421.7h0M482.6 1424.3h0M476 1429.1h0M554.4 1351.9h0M558.7 1344.3h0M495.2 1416.8h0M587.4 1382.2h0M491 1409.4h0M507.5 1409h0M525.6 1397.7h0M464 1422.3h0M479.5 1425.9h0M468.8 1416h0M474.8 1423.3h0M498.1 1384h0M463.4 1450.7h0M537.4 1357.6h0M479.2 1447.9h0M500.2 1403.1h0M522.9 1377.1h0M461.3 1439.7h0M491.4 1403.1h0M526.5 1399.4h0M503.4 1380.6h0M568.3 1359.9h0M541.7 1360.5h0M453.8 1436.7h0M550.3 1357h0M509.7 1386.7h0M524.5 1369.9h0M479.4 1451.6h0M511.7 1407.2h0M483.1 1325.5h0M543 1358.7h0M541.3 1355.1h0M471.5 1430.4h0M564.5 1370.6h0M509.6 1382.1h0M521.7 1369.5h0M552.8 1355h0M508 1419.7h0M545.5 1331.8h0M552.9 1348h0M543.2 1356.4h0M500.4 1418.7h0M533.6 1414.5h0M477.2 1446.3h0M536 1361.2h0M548.4 1341.4h0M426.8 1401.7h0M539.2 1367.8h0M540.9 1381.6h0M459.5 1462.4h0M553.8 1340.3h0M521.3 1414.6h0M471.9 1418.3h0M462 1466.3h0M547.8 1367h0M484.9 1414.1h0M520.6 1405.7h0M463.6 1428.3h0M513.9 1376.9h0M500.1 1414.2h0M564.6 1376.9h0M544.6 1391.7h0M529.8 1364.4h0M494.2 1443.7h0M477.9 1473.2h0M557.7 1352.9h0M562.5 1344h0M517.1 1371.2h0M549.5 1335.1h0M520.8 1359.6h0M512.8 1376.2h0M485.6 1395.3h0M489.3 1414h0M501.3 1393.1h0M472.6 1430.2h0M504.4 1411h0M500.5 1388.1h0M447.2 1452h0M497.5 1412.6h0M505.2 1446.1h0M533.5 1388.9h0M527.4 1340.6h0M529.3 1389.7h0M533.6 1381.9h0M520.2 1381.2h0M456.3 1406.7h0M486.7 1406.6h0M553.7 1357.7h0M581.6 1359.5h0M479.5 1446.6h0M448.1 1457.8h0M557.2 1332.8h0M557.7 1357.7h0M526.6 1388.8h0M561.2 1371.3h0M494.9 1362h0M558 1347.2h0M474.3 1426.7h0M497.2 1400.2h0M526.2 1373.3h0M469.5 1428.8h0M527.4 1363.9h0M466.5 1414.9h0M528.3 1365.9h0M550.4 1364.1h0M510.9 1417.9h0M567.1 1335.3h0M542.3 1397.9h0M554.9 1379.8h0M435.2 1443.3h0M464.6 1448.9h0M536 1372.8h0M568.8 1348.2h0M536.1 1392.9h0M554.8 1342.2h0M465.3 1462.4h0M537.9 1331.3h0M560.9 1356.5h0M513.4 1371.2h0M489.9 1396.9h0M542.8 1380.8h0M467 1419.7h0M535.7 1383h0M530.6 1371.8h0M516.9 1395.9h0M477.5 1425.8h0M422.8 1436h0M484.3 1447.6h0M562.3 1368.3h0M476.2 1436h0M457.8 1451.7h0M472.7 1424.5h0M503 1387.7h0M510.7 1378.9h0M541.2 1337.9h0M550.6 1352.2h0M578.4 1351.1h0M551 1345.5h0M507.8 1408.8h0M471.1 1448.1h0M556.5 1333.5h0M483.1 1438.6h0M523.5 1382.4h0M494.7 1441h0M561 1371.1h0M471.6 1434.4h0M497.8 1406.4h0M491.4 1448.6h0M543.4 1344h0M542.4 1400.9h0M537.9 1393.9h0M483.4 1418.3h0M470.1 1438.9h0M561.5 1361.8h0M530.2 1354.5h0M528.2 1359.8h0M578.5 1344.4h0M520 1394.1h0M474.9 1442.8h0M548.3 1408.8h0M642.3 1250.9h0M723.5 1212.5h0M707.6 1179.5h0M606.4 1322.3h0M661.9 1251.7h0M696.7 1253.3h0M589.2 1308.1h0M660.7 1261.9h0M587.9 1292.6h0M609.5 1263.8h0M604.1 1270.7h0M683.9 1198.9h0M610.3 1303.5h0M647.8 1247.2h0M666.1 1250.8h0M598 1263.2h0M716.1 1195h0M616.9 1280.4h0M612.9 1278.4h0M664.7 1217.5h0M613.2 1230.2h0M687.4 1229.3h0M580 1299.3h0M585.7 1306.1h0M666.8 1206.4h0M604.4 1251.7h0M702.6 1203.9h0M592.1 1286.5h0M614.1 1305.3h0M692.7 1192.8h0M625.8 1280h0M594.5 1325.9h0M601.3 1299.2h0M655.6 1185.8h0M619.8 1303.1h0M663.7 1257.5h0M693 1201.6h0M666.2 1243.5h0M677.8 1211.8h0M713.1 1177.9h0M633.4 1305.8h0M697 1192.9h0M652.2 1248.1h0M624.3 1326.6h0M600.3 1324.8h0M603.9 1269.3h0M584.9 1308.5h0M696.4 1223.6h0M667.5 1260.6h0M592.2 1343.4h0M714.9 1209.2h0M670.8 1252.2h0M626.9 1256.6h0M598.3 1320.2h0M618.1 1240.2h0M729.3 1211.1h0M654.7 1240.4h0M653.9 1277.2h0M676.4 1253.9h0M660.6 1256.2h0M667.3 1240.6h0M602 1306.3h0M586.5 1306.6h0M573.1 1334.8h0M686.9 1196.6h0M572.7 1337.3h0M604.5 1291.4h0M661.6 1246.6h0M635.6 1247.7h0M697.2 1185.6h0M598.6 1298.7h0M601.8 1331.6h0M584.7 1301.4h0M640.4 1252.9h0M612.3 1288.3h0M661.5 1285.5h0M671 1224.8h0M609.8 1276.9h0M675.6 1236h0M565.4 1325.4h0M632.9 1231.4h0M702.8 1189.1h0M711.4 1189.1h0M646.6 1236.6h0M725.4 1187.7h0M606 1299.1h0M622.8 1296.4h0M662.7 1288.9h0M648.9 1257.6h0M653.5 1168.8h0M637.2 1265h0M571.1 1322.2h0M688.9 1238.2h0M618.5 1314.8h0M707.3 1200.8h0M617.4 1316.9h0M610.2 1285h0M584.8 1308.5h0M623.7 1295.7h0M666.4 1246.5h0M608.3 1291.7h0M569.1 1320.3h0M655.2 1240.3h0M692.8 1231.3h0M586.1 1318.2h0M638.2 1272.9h0M588.3 1332.5h0M577.1 1337.3h0M634.4 1284.2h0M603.4 1281.3h0M698.5 1194.6h0M581.8 1342.7h0M665.4 1232h0M699.4 1237.9h0M635.8 1272.8h0M648.8 1259.9h0M611.1 1300.4h0M606.6 1294.6h0M582.9 1332h0M715.6 1201.7h0M575.4 1332.2h0M593.3 1316.5h0M673.4 1216.2h0M628.2 1253.4h0M660.9 1268h0M613.9 1288.8h0M594.6 1310.6h0M690.4 1209.8h0M598.5 1325.5h0M625.5 1299.4h0M670.8 1205.5h0M611.6 1285.6h0M716.7 1189h0M597.1 1308.7h0M644.1 1247.5h0M656.5 1256h0M635.7 1247.6h0M679.4 1206.8h0M551.8 1304.6h0M650.8 1248.3h0M680 1202.7h0M591.9 1341.2h0M671.4 1267.7h0M610.5 1241.8h0M626.6 1267.8h0M667.7 1266.7h0M687.8 1259.7h0M667.1 1216.4h0M691.6 1181.2h0M661.7 1225.4h0M730.4 1187.7h0M682.4 1242.5h0M607.4 1290.3h0M589.7 1310.1h0M570.6 1315h0M614.7 1297.4h0M583.5 1312.7h0M662 1217.6h0M658.2 1212.3h0M678.5 1254.6h0M610 1258.6h0M650.9 1273h0M620.9 1305.9h0M712.4 1194.7h0M567.1 1328.2h0M619.5 1286.3h0M660.5 1249.4h0M597.9 1307.8h0M663.7 1168h0M633.4 1251.5h0M622.7 1274.3h0M562.2 1309.4h0M615.3 1294.1h0M658.6 1242.6h0M630.6 1308.6h0M572.8 1324.8h0M654.8 1242h0M632.4 1303.5h0M706.3 1210.6h0M663 1216.1h0M685.9 1228.8h0M693.9 1185.8h0M696.1 1211.9h0M644.1 1307h0M650.6 1241.2h0M618.8 1304.1h0M606.6 1309.8h0M616.8 1318.1h0M577.3 1309.2h0M607.1 1299h0M610.9 1306.9h0M667.7 1226.3h0M602.2 1290.7h0M583.5 1334.5h0M641.8 1277.1h0M606.4 1309.8h0M665 1218.7h0M606.1 1303.3h0M655 1249h0M610.5 1321.2h0M635.3 1252.8h0M696.6 1195.2h0M632.9 1304.1h0M646.2 1249.6h0M626.5 1257.6h0M576.5 1320.8h0M568.6 1328.2h0M691.2 1197.6h0M651.8 1310.9h0M665.8 1220.4h0M616.9 1256.2h0M709.7 1216.3h0M603.9 1309.2h0M653.4 1269.4h0M654.7 1251.3h0M694.3 1215.2h0M581.3 1337.6h0M627.3 1281.2h0M625.7 1245.8h0M659.2 1243.3h0M573.5 1296.5h0M654.9 1252.9h0M675 1226.9h0M695.1 1234h0M580.5 1278.3h0M627.2 1257.5h0M605 1279.4h0M617.9 1264.7h0M630.5 1284h0M700.4 1175.4h0M553.2 1315.8h0M726.8 1199.6h0M563.2 1319.3h0M566 1308.5h0M590.8 1293.5h0M614.2 1291.4h0M670.9 1173.8h0M696.2 1202.7h0M702.2 1180.4h0M637.7 1282.8h0M570.3 1331.2h0M683 1254.8h0M703.5 1192.1h0M577.8 1310.8h0M694.6 1205.2h0M568 1333.2h0M673.8 1214.1h0M668.8 1281.1h0M719.9 1204.9h0M712.3 1207.7h0M587.8 1338.6h0M634.8 1247.5h0M600.6 1292h0M623.5 1254.5h0M591.2 1335.8h0M642.9 1296.5h0M627.1 1267.1h0M569.9 1334.4h0M637 1256.6h0M707.9 1197.7h0M580.6 1327.5h0M714.9 1189.3h0M648.7 1263.3h0M603.1 1303.8h0M712.6 1179.8h0M654.6 1273.6h0M640 1270.8h0M618.5 1268.6h0M717.5 1210.8h0M588.9 1314.6h0M611 1311.3h0M611.9 1290.3h0M597.2 1342.7h0M715.2 1219.8h0M643.8 1258.8h0M658.8 1239.1h0M699.6 1192.6h0M649.7 1262.6h0M623 1302.9h0M615.5 1219.3h0M625.3 1237.9h0M605.3 1279.4h0M619.4 1312.8h0M625.7 1281h0M640.3 1181.6h0M595.2 1309.9h0M711 1170.2h0M601 1294.4h0M600.9 1283.1h0M584.4 1312.4h0M617.4 1262.9h0M620.5 1271.9h0M663.1 1219.2h0M713.7 1202.7h0M603.5 1293h0M695.8 1211.8h0M609.5 1280.6h0M645.9 1285.4h0M591.3 1317.3h0M698.4 1189.3h0M637 1287.1h0M672.9 1222.7h0M598.8 1355h0M679.1 1229.7h0M605.5 1301.4h0M639.5 1266h0M685.1 1242.3h0M597.7 1310.6h0M644.6 1248h0M682.6 1191.4h0M612.6 1327h0M653.9 1274.7h0M613.8 1321.9h0M590.9 1312.5h0M631.7 1247h0M641.5 1266.3h0M656.8 1224.6h0M693.3 1194.9h0M689.4 1236.6h0M614.9 1277.3h0M629.9 1246.5h0M671.9 1229.9h0M677.2 1185.4h0M683.1 1237.8h0M635.2 1246.6h0M604 1327.8h0M685 1183.9h0M599.4 1279h0M625.8 1266.9h0M674.2 1168.9h0M588 1290.5h0M705.1 1189.3h0M609.6 1304.4h0M580.5 1319.4h0M651.7 1258.9h0M690.8 1211.3h0M629.8 1271.5h0M686 1192.6h0M626.1 1269.8h0M702.4 1216.4h0M596.2 1326.6h0M618.5 1296.5h0M579.8 1308.2h0M694.2 1231.2h0M632.6 1253.9h0M668.3 1232h0M623.5 1314.7h0M659.8 1200.2h0M718.9 1178.7h0M597 1337.5h0M614.1 1281.7h0M680.6 1179.4h0M707.1 1209.8h0M713.8 1210h0M620.2 1315.1h0M642.8 1235.6h0M566.7 1306.7h0M637.5 1270.2h0M677.7 1264.7h0M606.2 1292.3h0M643.9 1279h0M612.6 1266.1h0M588.7 1327.9h0M588.2 1332.3h0M678.7 1204.2h0M605.5 1368.3h0M716.2 1178.1h0M724.8 1212.9h0M710.5 1172.4h0M674.2 1198.6h0M551.4 1317.3h0M598.7 1328h0M620.1 1287.5h0M592.9 1303h0M571.6 1319h0M701.8 1185.2h0M720.9 1205.3h0M691 1220h0M583.8 1272.8h0M682.6 1186.5h0M675.4 1189.6h0M621.8 1287.6h0M590.3 1316.6h0M599.8 1323.2h0M626.2 1266.2h0M690.4 1199.9h0M574.8 1317.3h0M641.9 1274.8h0M610.5 1267.6h0M697 1188.1h0M572.4 1292h0M676.4 1239.6h0M603.5 1270.5h0M660.9 1227.7h0M692.2 1204.6h0M688.7 1200.5h0M670.9 1177.5h0M619.1 1294.3h0M619.2 1299.5h0M589.4 1317.2h0M603.5 1290.8h0M586.8 1315.7h0M711.3 1234.1h0M568.4 1320h0M579.1 1286.7h0M697.5 1219.2h0M704.9 1232.7h0M727.7 1192.8h0M627.5 1274.9h0M545.1 1298.6h0M710.9 1226.5h0M607.1 1284.9h0M692.2 1219.3h0M554.3 1315.1h0M584.3 1338.8h0M659.2 1240.5h0M687 1241.1h0M625.6 1219.6h0M653.9 1255.4h0M658.7 1240.4h0M587.4 1312.8h0M582.1 1328.1h0M619 1277.2h0M660.5 1256.9h0M582.8 1273.2h0M606.5 1316.4h0M649.4 1276.8h0M620.6 1260.7h0M650.7 1331.4h0M708.2 1188.3h0M696.8 1172.8h0M582.9 1333.8h0M647.5 1264.9h0M609.1 1301.3h0M602.3 1265.4h0M583.1 1339.5h0M590.7 1331.2h0M566.8 1322.5h0M607.6 1333.5h0M666.1 1231.8h0M585.6 1326.9h0M686.1 1179.7h0M695.7 1213.7h0M598.2 1281.6h0M657 1210.5h0M714.1 1186.3h0M614.6 1342.9h0M646.8 1240.3h0M628.8 1251.6h0M629.2 1298.6h0M623.9 1300.3h0M582.8 1321.8h0M670.6 1236.7h0M589.3 1294.6h0M620 1256.2h0M694.1 1174.6h0M618.8 1277.3h0M625.9 1293.7h0M706.3 1184.8h0M657.8 1243.6h0M663.1 1252.6h0M561.5 1260.9h0M676.5 1244h0M630.5 1279.1h0M640.5 1239.2h0M627.2 1270.4h0M566.7 1308.3h0M707.9 1202.8h0M673.9 1226.4h0M711.2 1181.7h0M602.7 1274.7h0M616.6 1295.3h0M595.5 1319.1h0M622.5 1293.6h0M587.9 1255.1h0M594.1 1303.2h0M604.8 1289.2h0M623.3 1297.9h0M707 1207.8h0M641.8 1269.7h0M702.6 1215.1h0M578.2 1328.4h0M623.9 1330.1h0M710 1182.3h0M577.2 1327.4h0M568.5 1313.4h0M650.8 1256.7h0M616.2 1292.4h0M611.4 1316.6h0M665.2 1243.1h0M648.3 1227h0M598.6 1306.3h0M651.6 1251.1h0M645.1 1270.3h0M697.9 1202.7h0M575.4 1320.2h0M606.3 1300h0M656.4 1247.9h0M564.7 1320.6h0M680.4 1186.4h0M716.2 1183.5h0M630.3 1294.2h0M688 1214.9h0M607.1 1296h0M717.2 1190.5h0M602.4 1302.8h0M555.2 1319.9h0M575 1319.9h0M651.6 1275.2h0M577.1 1330.9h0M705.1 1169.3h0M617.5 1191.2h0M656.9 1247.2h0M662.6 1235.3h0M656 1291.5h0M693 1186.3h0M683.6 1229.2h0M647.4 1279.8h0M619.5 1297.2h0M580.7 1302.5h0M619 1287.4h0M614.7 1272h0M574.6 1315.9h0M715.9 1196.1h0M592.3 1279.4h0M661.2 1259.9h0M597.1 1341.4h0M661.2 1256.3h0M663.6 1230.3h0M600.4 1340.4h0M720.4 1185.3h0M576.9 1293.2h0M600 1285.1h0M683.9 1222.5h0M622.1 1283.9h0M707.5 1202.7h0M610.9 1302.9h0M609.2 1278.6h0M669.5 1222h0M702.7 1203.2h0M723.5 1215.7h0M624.2 1300.4h0M664.1 1265.4h0M639.1 1277.7h0M669.8 1227.3h0M598.7 1294.6h0M681.9 1189.8h0M676.6 1222.5h0M599.8 1311.4h0M610.7 1279.9h0M603 1266.1h0M687.5 1167.8h0M618.5 1244.7h0M678.5 1253.4h0M727.7 1205.6h0M639.7 1282.5h0M718.7 1192.4h0M619.4 1294.8h0M545.9 1309.1h0M610 1342.7h0M673.3 1225.7h0M628.7 1276.8h0M690.4 1199.4h0M620.7 1223.8h0M676.1 1230.3h0M634.3 1290.7h0M663.4 1247.9h0M660.1 1211.5h0M603.4 1254.3h0M661.4 1274.9h0M709.1 1214.2h0M694 1174.1h0M618.4 1276.4h0M601.2 1345.1h0M692.4 1198.8h0M630.3 1258.5h0M716.5 1183.4h0M688.8 1219.2h0M624.2 1276.5h0M707.8 1210.9h0M649.3 1246.4h0M670.7 1216.9h0M683.1 1177.1h0M660 1246.7h0M735.8 1208.2h0M636 1278.6h0M639.9 1288.1h0M673.1 1241.1h0M634 1274.7h0M653.4 1202.3h0M643.8 1246.1h0M678.2 1215.3h0M702.2 1212.9h0M652.9 1243.8h0M688.6 1173.5h0M666.9 1193h0M695.2 1197h0M573.9 1333.5h0M595.2 1354.9h0M652 1222.8h0M613.2 1276.6h0M694.4 1191.4h0M646.9 1290.9h0M678 1214.7h0M604.9 1294.9h0M669.9 1241.3h0M670.4 1160.4h0M711.3 1210.7h0M625.6 1278.3h0M649 1265.8h0M631 1232.7h0M633.4 1292.3h0M650.7 1266.8h0M743.1 1210h0M701.3 1195.9h0M631.7 1299.7h0M682.7 1237h0M711.7 1185.1h0M604.3 1259.5h0M707.7 1211.3h0M689.7 1209.7h0M720.8 1212.3h0M583.6 1323.2h0M691.8 1174h0M718.2 1181.5h0M607.4 1298.7h0M670.1 1240.4h0M591 1328.5h0M660.4 1240.4h0M657.5 1205.9h0M667.9 1204.6h0M699 1200.6h0M614.9 1290.1h0M599.3 1328.6h0M695.9 1209.6h0M585 1342.1h0M607.9 1301.6h0M601.7 1294.6h0M706.6 1232.3h0M635.8 1265.3h0M694.8 1202.4h0M672.4 1232.1h0M707.5 1212.8h0M685.2 1208.8h0M704.8 1199.1h0M605.1 1286h0M628.4 1284.2h0M640.3 1213.7h0M650.4 1236.8h0M681 1207.3h0M689.3 1205.9h0M611.4 1283.3h0M598.9 1326.7h0M696.9 1233.3h0M662.5 1217h0M614.3 1294.5h0M594.2 1341.5h0M567.6 1326.4h0M604.1 1293.5h0M617.1 1298.1h0M586.6 1289.2h0M577 1327.1h0M609.6 1322h0M642.1 1298.8h0M574.5 1312.3h0M614.3 1315.5h0M612.3 1244.3h0M719.9 1223h0M707.4 1204.2h0M630.1 1271h0M586.2 1313.2h0M617.5 1299.8h0M689 1245.8h0M638.9 1278.7h0M669.3 1258.5h0M692.8 1230.8h0M690.5 1252h0M723.5 1223h0M596.3 1334.8h0M617.2 1291.2h0M585.6 1340.2h0M633.9 1239.8h0M645.8 1222.9h0M605.9 1293.4h0M579.9 1328.4h0M637.3 1260.1h0M594.1 1308.2h0M612.1 1317.1h0M631.9 1279.8h0M693.5 1169h0M633.8 1288h0M686 1232.6h0M627.6 1278.4h0M634.9 1275.4h0M586.8 1309.5h0M604.1 1312.6h0M681.4 1209.8h0M634.7 1268.1h0M624 1301.2h0M720.5 1181.9h0M703.6 1198.6h0M627 1310.3h0M634 1265.9h0M668.1 1258.4h0M599.4 1313.7h0M630 1264.2h0M609.5 1287.8h0M699.5 1215h0M603.9 1339.3h0M702.9 1163.9h0M594.4 1288.1h0M636.5 1299.2h0M592 1333.8h0M711 1195.2h0M679.2 1190.5h0M593.4 1337.5h0M634.3 1238h0M639.8 1284.5h0M658.9 1237.9h0M622.4 1284.5h0M710.5 1181.6h0M595.2 1294.1h0M689.9 1203h0M617.9 1300.6h0M646.3 1213h0M620.3 1254.9h0M658.2 1261.3h0M652.9 1257.4h0M685.8 1257.4h0M568.6 1313.9h0M570.1 1317.9h0M716.2 1182.6h0M610.5 1298h0M627.7 1283.2h0M609.8 1301.4h0M676.1 1242.3h0M698.2 1161.7h0M634.1 1275.5h0M613.7 1280.6h0M612.1 1270.6h0M593.3 1349.5h0M581.4 1319.5h0M591.6 1341.7h0M648.1 1312.3h0M715.1 1177.6h0M592.6 1314.7h0M652.8 1249.3h0M603.9 1305.6h0M592.5 1345.9h0M706.8 1213.9h0M592 1318.2h0M592.2 1316.1h0M684.3 1198.6h0M611.8 1302.1h0M577.2 1282.8h0M697.5 1173.3h0M603.7 1309.2h0M687.8 1197.5h0M601.7 1273.6h0M654.6 1246h0M606.8 1277.2h0M628 1288.8h0M713.1 1191.3h0M692.5 1179.2h0M601.5 1313h0M687.4 1229.3h0M594.1 1316.6h0M613.8 1287.3h0M577.2 1321.2h0M689.2 1254h0M681.8 1223.5h0M683.6 1219.2h0M684 1211.2h0M617.6 1262.3h0M592.3 1303.6h0M578 1341.9h0M640.8 1270.5h0M714.6 1192.4h0M639.9 1267.1h0M653.7 1230.1h0M709.2 1192.3h0M711.2 1210.4h0M681.7 1219.4h0M634.4 1218.9h0M597.6 1292.2h0M662.4 1198.4h0M623.8 1261.2h0M701.3 1247.9h0M599.9 1297h0M702.2 1178.5h0M578.1 1294.1h0M686.7 1208.8h0M718.8 1209.3h0M584.8 1304h0M710.9 1209.4h0M670 1236.9h0M654.9 1234.9h0M616.9 1303.8h0M612.6 1277.4h0M598 1291.6h0M772.6 1155.6h0M750.7 1152.4h0M812.9 1059.1h0M811.8 1085h0M839.6 1043.8h0M869 1023.2h0M752.8 1137.3h0M859.7 1028.3h0M828.7 1050h0M799.9 1084.3h0M867.6 1025.4h0M793.7 1093.5h0M735.7 1183.9h0M747.5 1166.1h0M762.3 1123.7h0M811.5 1055.2h0M818.6 1100.9h0M817.8 1065h0M708.9 1161.4h0M748.6 1130.2h0M799.8 1086.5h0M832.1 1087.3h0M793.4 1117.4h0M753.7 1143.9h0M751.8 1114.6h0M826.7 1050.2h0M815.1 1052.2h0M773.3 1153.7h0M860.4 1025.1h0M753.9 1196.4h0M760.5 1145.5h0M777.5 1100.4h0M842 1051.6h0M795.1 1079h0M825.9 1075h0M840.7 1006.3h0M787.9 1131.6h0M749.2 1150.7h0M789.6 1120.5h0M790.7 1075.4h0M788.3 1201.8h0M711.3 1157.7h0M830.5 1064.2h0M854.8 1008.4h0M855.7 1026.5h0M779.6 1121h0M771.7 1090.1h0M842.2 1044.4h0M871.7 1025.5h0M761.9 1110.3h0M871.5 1035.2h0M822.2 1064.6h0M728.3 1141.2h0M779.7 1098.9h0M710.2 1167.4h0M779.9 1111.9h0M804.7 1100.7h0M838.9 1050.6h0M772.3 1127.8h0M816.5 1073.9h0M824.7 1077.6h0M809.9 1105.3h0M823.2 1091.2h0M771.5 1088.3h0M812.5 1081.8h0M786.5 1102.2h0M871.3 1047h0M748 1170.1h0M835.4 1027.5h0M825.3 1053.6h0M700.7 1155.9h0M831.4 1067.2h0M776.7 1122.3h0M792 1093.5h0M780.8 1079.7h0M834 1064.8h0M782.5 1090.7h0M821.5 1082.8h0M742.7 1133.2h0M773.8 1207.2h0M848 1098.1h0M881.9 1034.1h0M710.5 1145.3h0M866.4 1042.7h0M789.7 1128.2h0M809.5 1066.2h0M758.9 1134.5h0M813.3 1058.3h0M794 1116.7h0M861.9 1073.2h0M748.6 1121.5h0M755.3 1111h0M818.8 1083.3h0M723.8 1149.5h0M873.5 1030.1h0M806.7 1077.3h0M869.8 1027.5h0M756.4 1158.5h0M827.8 1066.8h0M760.8 1155.6h0M720.4 1153h0M773.4 1095.1h0M792.2 1104.4h0M791.3 1077.5h0M789 1102.9h0M754.8 1151.8h0M821.5 1068.9h0M763.9 1139.2h0M766.2 1134.2h0M810.8 1029.1h0M819.2 1066.8h0M823.3 1057.1h0M872 1044.7h0M860.6 1054.7h0M746.2 1136.5h0M883.8 1039.6h0M794.7 1092.2h0M810.2 1095.2h0M747.1 1119.6h0M785.2 1122.9h0M811.1 1096.5h0M693.1 1142h0M832.3 1067.7h0M786.8 1136h0M822.4 1066.7h0M841.7 1073h0M802.3 1069.8h0M708.2 1144h0M777 1062.5h0M782.6 1130.4h0M804 1042.6h0M833.7 1071.7h0M792.1 1095h0M838.1 1069.8h0M743.9 1157.1h0M841.7 1047.8h0M871.9 1030.4h0M864.8 1044.3h0M853.3 1060h0M792.1 1124.2h0M867.7 1037.5h0M797.8 1082.4h0M749.8 1141.1h0M783.6 1074.9h0M841.7 1037.4h0M818.9 1067.7h0M858.5 1058.6h0M745.5 1191.2h0M842 1001.9h0M840.7 1014.9h0M780.2 1083.6h0M860.2 1033.2h0M767 1167.4h0M747.4 1093.9h0M730 1136.3h0M806.7 1058.6h0M870.1 1044.2h0M852.3 1023.3h0M727.9 1161h0M822.3 1043.7h0M809.1 1094.2h0M748.4 1138.2h0M853.4 1035.2h0M791 1086.1h0M719.1 1164h0M788.9 1129.9h0M815.6 1063.2h0M853.8 1048.8h0M744.3 1140.8h0M796.2 1072.1h0M739 1169.5h0M846.5 1023.6h0M721.5 1176.1h0M875.5 1033.4h0M801.1 1084.6h0M824.8 1051.1h0M831.3 1082h0M793.7 1095.5h0M777.1 1100.1h0M750.4 1143.9h0M770.2 1139h0M740.3 1168.5h0M763.6 1138.3h0M822.9 1078.6h0M801.3 1088.9h0M779.9 1063.9h0M798.6 1093.2h0M842.8 1010h0M851.4 1046.8h0M747.6 1124.4h0M789.5 1076.2h0M880.1 1038.2h0M761.7 1136.7h0M826.2 1067.6h0M812.6 1070.8h0M820.4 1071.7h0M795.1 1081.7h0M824.9 1054.5h0M775.6 1117.5h0M859.8 1028.7h0M775.2 1059.6h0M797.4 1149.2h0M807.5 1068.6h0M831.2 1077.1h0M880 1053h0M818.3 1079.7h0M792.4 1089.3h0M778.2 1126.7h0M778.3 1105h0M750.3 1120.2h0M784.5 1052.4h0M855.1 1047h0M809.3 1084.1h0M765.8 1159.9h0M723.8 1170.2h0M853.5 1040.4h0M765.2 1131.7h0M819.2 1064.7h0M866 1032h0M865.6 1033.2h0M808.1 1094.4h0M846.4 1023.2h0M773.5 1107.3h0M895.9 1061.7h0M822.8 1071.1h0M723.9 1157.1h0M825.6 1033.7h0M757.5 1164.8h0M879.2 1029h0M731 1173.1h0M828.1 1052.7h0M749.3 1159.5h0M812.2 1102.7h0M777.5 1120.3h0M850.6 1038.5h0M756 1129.4h0M827.1 1062.8h0M851 1019.3h0M731.9 1169.6h0M817 1055h0M724.5 1156.6h0M824.1 1042.3h0M833.1 1027.4h0M741.1 1155.7h0M869.7 1053.9h0M744.2 1069h0M764.9 1127.5h0M847.3 1008.3h0M775.9 1115.1h0M733 1126.9h0M767.4 1123.4h0M850.1 1029.1h0M867.4 1021.7h0M791.2 1108.3h0M791.3 1096.8h0M806.7 1080.1h0M836.3 1035.6h0M713.7 1168.8h0M835.1 1047.7h0M863.8 1021.7h0M782.6 1115.1h0M789 1111.5h0M848.9 1012.1h0M790.7 1122.3h0M779.6 1120.8h0M847.1 1040h0M789.7 1101.5h0M796.3 1055.6h0M767.6 1136.6h0M796 1045.4h0M749.8 1095.4h0M843.3 1059.1h0M785.6 1091.8h0M854.3 1028.8h0M792.8 1082.1h0M859.3 1052h0M773.9 1096.4h0M819 1070.4h0M763.4 1138.5h0M823.3 1099.3h0M829.3 1082h0M747.8 1146.6h0M809 1098.5h0M851.9 1025.8h0M749.1 1144.5h0M800.1 1106.8h0M871 1069.1h0M769.8 1096.9h0M719 1167.6h0M802.8 1098.2h0M795 1109.8h0M861.1 1032.6h0M816.9 1070h0M825.3 1044.2h0M761.5 1106.4h0M857.8 1039h0M837.5 1040.2h0M730.2 1159.9h0M810.4 1064.8h0M849.9 1029h0M806.9 1064.7h0M860.9 1019.5h0M755.1 1132.5h0M811.7 1087.9h0M789.3 1083h0M743.9 1111.6h0M832.2 1049.3h0M786.3 1110.8h0M810.6 1068.4h0M844.3 1060.4h0M827.6 1061.2h0M724.3 1151.5h0M740.8 1180.6h0M845.1 1049.8h0M813.7 1071.1h0M737.5 1149.6h0M726.2 1144.4h0M773 1078.4h0M750.7 1153.2h0M881.3 1050.9h0M761 1149.1h0M865.5 1032.1h0M827.2 1064.2h0M797.8 1084.4h0M836.2 1086h0M825.3 1069.5h0M773.4 1142.5h0M790.7 1097.9h0M736.4 1173.1h0M735.1 1177.5h0M852 1019.3h0M832.8 1029h0M837.7 1062.7h0M744.9 1169.9h0M823.3 1088.1h0M822.2 1059.7h0M766.8 1092.6h0M768.4 1109.9h0M838.4 1071.6h0M729.7 1183.6h0M786.3 1099.1h0M766.2 1144.3h0M783.3 1104.3h0M792.6 1080.4h0M781.8 1109.9h0M842.8 1030.7h0M860.2 1045.5h0M825.1 1049h0M840.3 1053h0M806.4 1109h0M758.9 1133h0M825.7 1032.8h0M747 1168.1h0M812.9 1087.2h0M836.1 1097.3h0M734.3 1158.3h0M754.3 1148.7h0M816.3 1066.9h0M853.1 1046.1h0M778.2 1115.4h0M794.4 1088.5h0M813.1 1053.1h0M790.8 1069.9h0M784.3 1099.5h0M819.1 1079.8h0M830.5 1069h0M837.2 1048.1h0M819 1102.9h0M836.1 1089h0M744.1 1141.7h0M750.7 1158.1h0M844.3 1052.2h0M756.1 1144.5h0M785.5 1108.4h0M827.8 1014h0M752.6 1164.4h0M780.1 1030.8h0M738 1120h0M815.4 1079.9h0M849.7 1055.3h0M848 1052.5h0M824.7 1043.3h0M783.9 1082.6h0M801.7 1091.8h0M709.9 1116.4h0M752.3 1173.1h0M847.8 1074h0M725.3 1166.8h0M856.8 1027.1h0M749.1 1149.3h0M848.1 1082.6h0M775.8 1096h0M802.5 1071.8h0M836.9 1061.1h0M758 1124.6h0M851.5 1054.3h0M854.8 1078.4h0M814.5 1092.8h0M791.4 1072.8h0M778.5 1117.6h0M861.8 1020.9h0M765.4 1104.2h0M762.9 1145.8h0M816.9 1101.6h0M863.4 1036.8h0M876.1 1047.4h0M797.1 1077h0M774.3 1111.3h0M817 1045.1h0M804.3 1089.5h0M856.6 1059.9h0M843.5 1044.3h0M820.7 1062h0M872.7 1030.1h0M830.1 1087h0M867.6 1024.7h0M816.2 1072.9h0M766.6 1156h0M818.8 1082.7h0M848.9 1069.1h0M776.1 1103.6h0M744.6 1150.4h0M765.8 1115.3h0M820.6 1038.2h0M739 1133.2h0M727.5 1181.2h0M860.3 1046.5h0M862.2 1020.5h0M845.2 1035.3h0M853.3 1063.2h0M815.2 1048.7h0M808.1 1095.4h0M804.7 1062.1h0M814.1 1042.7h0M770.6 1126.8h0M749.2 1143.6h0M816.6 1060.7h0M779.1 1052.4h0M870.4 1022.7h0M772.6 1102.9h0M800.8 1129.7h0M743.6 1163.2h0M715.4 1168.7h0M727.8 1143.1h0M807.6 1082.7h0M856.9 1017.9h0M722.5 1145.9h0M750.5 1158.3h0M813.3 1061.2h0M770.8 1135h0M719.9 1163.8h0M856.2 1040.1h0M744.6 1156.1h0M796.5 1119h0M841.5 1066.1h0M826.5 1044.3h0M871.7 1034.3h0M828.5 1102.4h0M732.2 1144.7h0M740 1172.3h0M815.1 1074.5h0M804 1096.4h0M786.7 1165.8h0M717.2 1125.4h0M761 1111.2h0M763.9 1132.7h0M760.8 1109.8h0M770.3 1119.7h0M842.2 1067.3h0M788.8 1104.1h0M836.5 1033.4h0M805.6 1107.9h0M768.1 1135.9h0M842.7 1016.3h0M827.5 1083.7h0M824.2 1023.2h0M734 1120.9h0M867.3 1024.9h0M812 1074h0M788.7 1130.1h0M756 1136.2h0M715.8 1143.9h0M751.2 1197.1h0M749.6 1146.7h0M768.3 1130.3h0M783.9 1078.8h0M799.3 1133.1h0M744.2 1186.8h0M757.5 1169.7h0M728 1179.6h0M737.1 1181.6h0M773.9 1139.3h0M800.5 1062.1h0M758 1167.5h0M839.3 1025.2h0M874.4 1027.4h0M785.8 1055.3h0M736.8 1178.9h0M728 1130.6h0M807 1106.5h0M869.3 1038.2h0M870.8 1025.5h0M826.8 1057.5h0M855.7 1038.8h0M744.9 1171.9h0M787.1 1088.8h0M779.4 1090.2h0M764.1 1154.2h0M780.8 1065.8h0M817 1100.4h0M842.6 1002h0M728.7 1165.6h0M779.2 1143.7h0M771.2 1174.6h0M737.2 1126.8h0M762.3 1122h0M785.8 1129.1h0M872.4 1034.4h0M735.7 1093.9h0M801.6 1109.5h0M733.4 1140.4h0M774.1 1162.5h0M737 1128.6h0M825.9 1107h0M771.5 1136h0M773.2 1144.5h0M808.4 1104h0M727.7 1179.9h0M843.2 1035.1h0M716.3 1158.6h0M774.3 1105.5h0M846.6 1000.7h0M740.9 1146.9h0M728 1171.6h0M790.1 1098.1h0M825.9 1088.5h0M772 1112h0M763.7 1152.8h0M828.5 1072.9h0M825.5 1100.4h0M778.5 1128.7h0M825.6 1092.7h0M854.2 1052.4h0M797.7 1096.6h0M789.6 1127h0M801 1069.4h0M800.5 1102.2h0M737.7 1164.6h0M865.6 1044.3h0M723.2 1143.3h0M831.6 1060.3h0M792.4 1116h0M846.5 1062.1h0M792.9 1089.6h0M830.2 1035.5h0M795.1 1107.6h0M742.2 1124.4h0M838.1 1058.1h0M844.2 1046.8h0M798.2 1100.7h0M873 1043.5h0M836.3 1075.2h0M865 1034.8h0M757.8 1154.6h0M860 1026.9h0M839.4 1060.2h0M864.8 1031.6h0M767.3 1117.2h0M805.5 1091.6h0M890.9 1070.8h0M820.7 1071.1h0M766.1 1134.4h0M753.7 1122.7h0M853.6 1020h0M798 1049.9h0M720.5 1162.1h0M776.8 1153.6h0M818.7 1103.8h0M749.5 1148.6h0M767.4 1082.6h0M833.7 1084.7h0M721.7 1153.9h0M747.7 1127.6h0M867.1 1052.4h0M727.8 1172.6h0M758.6 1180.5h0M846 1050.6h0M814.8 1064.2h0M784.1 1096.7h0M828.6 1022.5h0M752.8 1146h0M715.1 1171.3h0M848.5 1055.3h0M814.4 1075.5h0M790.6 1143.2h0M801.8 1081.1h0M737.1 1169.3h0M787.4 1147.4h0M813.7 1095.6h0M863.3 1059.6h0M784.3 1143.3h0M728.1 1167h0M729 1159.6h0M741.1 1105.5h0M814.5 1079.1h0M825.1 1065.3h0M828.1 1071.3h0M868.4 1055.4h0M819.5 1067.1h0M816.2 1067.4h0M815.1 1089.2h0M818.6 1070.8h0M825.3 1058h0M852.9 1010.4h0M747.5 1149.7h0M820.7 1079.8h0M728.7 1148.5h0M741.5 1136.1h0M860 1031.9h0M763.6 1097.4h0M930.9 990.9h0M859.2 996h0M936.6 966.2h0M932.5 925.9h0M956.9 938.4h0M879.4 1002.4h0M904.7 961.1h0M959.3 926.5h0M869.7 1006.2h0M947.8 966.1h0M894.1 990.7h0M954.3 935.6h0M925.1 962h0M957.6 940.9h0M862.4 1003.2h0M958.6 994.2h0M910 981.6h0M882.3 1011.6h0M907.6 981.3h0M938.6 950.8h0M920 961.9h0M919.8 959.6h0M892.3 990.2h0M918.7 973.8h0M919.5 985.9h0M954.8 935.8h0M947.6 934.8h0M913.8 982.1h0M923.8 979.7h0M901.7 996.7h0M936.4 980.1h0M882.6 1007.8h0M957.6 928.4h0M902.3 975.3h0M863.6 1011.7h0M899.5 993.8h0M952.8 926.9h0M904.7 996.3h0M902.1 980.2h0M958.8 927.9h0M956.8 960.2h0M910.7 993h0M895.2 1013.5h0M899 976.5h0M889 970.2h0M947.1 931.3h0M929.5 978.6h0M945.4 924.2h0M959.7 926.7h0M961.7 949.6h0M901.4 975.9h0M905.8 982.9h0M925.1 973h0M906.7 931.8h0M957.4 949.3h0M941.6 939.9h0M896.1 987.7h0M921.4 935.6h0M897.3 977.5h0M918.1 925.1h0M883.6 1029.9h0M958.2 950.1h0M926 946.7h0M893.7 1015.4h0M897.5 1000.3h0M890.1 982.4h0M907.2 962.1h0M925 908.4h0M945 915.6h0M908.5 947.3h0M885.6 1014.5h0M975 942.5h0M960.7 932.3h0M859.9 994h0M926.5 953h0M929.1 955.3h0M917 944.9h0M927.4 943.2h0M874.1 1022.3h0M892.4 985h0M893.4 980.8h0M913 943.2h0M887.2 1018.6h0M898.7 996.8h0M904.5 1020.4h0M861 1002.3h0M918.3 979.9h0M895 1006.3h0M914.4 974.6h0M881.3 993h0M937.4 940.6h0M880.4 1009.1h0M907.6 916.2h0M935.1 962.6h0M885 1005.1h0M900.8 980.4h0M905.5 984.2h0M911.9 977.2h0M938.3 962.6h0M873.2 1019.7h0M876.8 996h0M922.8 943.6h0M879.4 1011.5h0M945.2 938.6h0M917 997.1h0M867 1010h0M933 940.7h0M889.1 993.3h0M948.1 913.5h0M953.9 932.6h0M941.4 927.6h0M945.6 931.8h0M868.1 1004.4h0M870.6 1015.2h0M907.3 982.5h0M884.6 957.5h0M905.7 979.6h0M926.1 965h0M930.6 935.6h0M936.5 940.4h0M968 944.6h0M926.5 951h0M952.8 939.8h0M867.8 1000.8h0M881.9 1026h0M893.8 960.7h0M950.4 936.5h0M897.7 976.2h0M881.3 1010.1h0M880.5 1006.6h0M895.2 1002h0M937.5 927.7h0M887.4 975.3h0M950.3 940.7h0M955.6 930.8h0M920.5 927.8h0M965.8 943.8h0M890.5 992.9h0M886 999.5h0M875.5 981.1h0M872.1 1018.2h0M959.3 936.3h0M894.4 1005.3h0M917.2 950.6h0M924.8 1020h0M925.2 974.4h0M917.4 985.8h0M951 966.2h0M886.4 998.8h0M900 995.8h0M861.4 986.3h0M867.4 958.4h0M942.4 937.8h0M957.2 928.4h0M869.5 1016.2h0M941.9 935.2h0M940.9 954.3h0M883.1 1017.6h0M880.6 1000.6h0M947.9 937.3h0M891.5 1004.7h0M953 934.5h0M905 955.3h0M955.1 922.7h0M910.5 966.9h0M894.5 1019h0M916.3 954.1h0M907.9 975.1h0M873 1009.5h0M939.5 937.8h0M937 921h0M970.7 941.1h0M926.5 956.9h0M926.2 967.6h0M889.8 1003h0M952.6 923.9h0M958.1 970.4h0M911 937.9h0M930.9 952h0M955.5 948.7h0M887.4 974.1h0M878.8 1007.6h0M960.7 926.7h0M868.5 1012.3h0M890.1 989.5h0M918.9 977.1h0M871 1013.1h0M915.8 1006.9h0M952.7 940.9h0M938.5 971.6h0M927.8 969h0M862.2 1008.7h0M906.6 977.1h0M880.4 1007.2h0M904.3 982.1h0M888.8 967.2h0M912.9 983.5h0M906.5 997h0M940.4 945.4h0M899.6 964h0M970.4 921.9h0M989.3 890.9h0M986.9 898.2h0M986.3 897.8h0M997.3 880h0M948.5 907.5h0M966.5 924.8h0M971.5 893.1h0M1021.9 854.1h0M1036 827.8h0M1030.6 855.3h0M961.4 912h0M1028.7 841h0M1035.8 848.7h0M1041.2 849.3h0M1032 861.7h0M981.8 898.2h0M998.7 872h0M995.7 879.1h0M964.9 922.9h0M1008.3 872.9h0M971.9 888.1h0M1041.8 830.4h0M1022.2 863.4h0M992 809h0M955.8 914.7h0M1015 848.4h0M1027 843.3h0M1005.6 884.5h0M981.3 899.2h0M1004.1 878.6h0M1008.3 871.2h0M1004 888.1h0M997.7 902.9h0M1012.6 853.9h0M1034.9 834.9h0M986.2 901h0M1034.8 836.4h0M970.3 924.3h0M1017.7 855.2h0M1000.3 900.6h0M1005.8 873.4h0M1000.8 899.2h0M967.2 916.9h0M964 898.4h0M1047.1 829.2h0M987.5 875.7h0M1044.6 833.5h0M998.9 867.7h0M1047.2 845.2h0M988.3 871.2h0M1051.3 832.4h0M991.6 868.4h0M974.9 892.1h0M965.5 898h0M959.1 910.7h0M970.1 914.3h0M1014.6 853.4h0M993.4 890.8h0M1044.3 846.9h0M980.3 908.1h0M1032.5 825h0M974.6 904.1h0M988.8 903.2h0M987.7 889.5h0M986.1 901.9h0M990.3 878.5h0M1029.6 845.9h0M972.1 923.1h0M972.7 892.6h0M915.9 841.8h0M875.1 908.9h0M868.5 943.9h0M916.5 896.2h0M956.7 870.5h0M972.4 872.9h0M1019.3 808.5h0M1039.2 804h0M1039.2 766.2h0M1046.5 782.2h0M1060.4 795.8h0M1135 700.3h0M1206.9 702.8h0M1219 628.7h0M1248.3 610.6h0M1164.6 742.9h0M1146.5 754.1h0M1141.7 777.4h0M1188.8 774.4h0M1127.5 815.2h0M1134.4 823h0M1143.5 814.6h0M1095.1 840.3h0M1059.5 841.8h0M1073.1 853.9h0M1084.2 866.9h0M1036.8 881.1h0M1053.4 885.6h0M1049.5 905.2h0M1070.6 938.5h0M1014.1 940h0M1024.7 939.1h0M1086.1 982.3h0M1005.7 987.7h0M990 947.5h0M991.5 961.1h0M961.2 1008h0M953.7 1009.5h0M942.2 1019.5h0M961.2 1032.8h0M1356.3 1074.6h0M1308.3 575.8h0M1312.4 578.3h0M1288.7 581.4h0M1290.3 593.8h0M1261.9 598.9h0M1257.8 603h0M1171.3 698.8h0M1167.2 706h0M1163 714.3h0M1157.9 721.5h0M1148.6 738h0M1141.4 740.1h0M1119.8 743.1h0M1121.8 752.4h0M1107.4 755.5h0M1095 760.6h0M1101.2 762.7h0M1125.9 762.7h0M1131.1 765.8h0M1116.7 772h0M1082.7 779.2h0M1096.1 784.3h0M1080.6 792.6h0M1093 795.7h0M1117.7 765.8h0M1304.2 574.3h0M1206.3 698.6h0M370.6 1318.3h0M478.7 1320.7h0M361.3 1388h0M419.7 1408.2h0M402.5 1424.7h0M395.6 1444.3h0M354.4 1483.1h0M357.9 1508.9h0M562.2 1262.6h0M584.5 1244.4h0M721.2 1298.3h0M718.4 1270.2h0M703 1270.2h0M685.8 1279.8h0M588.6 1394.5h0M557 1411.7h0M499.3 1477.9h0M460.2 1546.6h0M393.3 1561.1h0M421.4 1531.2h0M404.2 1541.5h0M737.3 1225.5h0M754.5 1205h0M321.8 1562.1h0M660.1 1155.2h0M672.1 1151.7h0M454 1376.7h0M452.3 1390.4h0M610.3 1369.8h0M639.5 1335.4h0M654.9 1314.8h0M636.2 1086.3h0M684.3 1089.8h0M742.7 1075.4h0M720.7 1100.8h0M704.2 1109.7h0M655.1 1136.1h0M654.4 1156h0M664.8 1156.7h0M676.8 1160.2h0M680.2 1149.9h0M789.4 1030.7h0M771.2 1043.4h0M810 998.1h0M827.9 1002.2h0M836.5 959.9h0M861.2 961.7h0M978.3 988.5h0M965.2 1007.3h0M978.3 1064h0M996.1 1061.6h0M927.5 1119.6h0M898.3 1055.4h0M910.3 1043.4h0M917.2 1029.7h0M845 1112.1h0M853.6 1115.5h0M807.3 1125.8h0M776.4 1163.6h0M757.5 1198h0M986.8 1212.3h0" fill="none" stroke="#000080" stroke-width="12" stroke-linecap="round"/>
<line x1="305" y1="1616.1" x2="360.4" y2="1557.5" stroke="#000080" stroke-width="22" stroke-linecap="round"/>
<line x1="360.4" y1="1557.5" x2="450.3" y2="1462.4" stroke="#000080" stroke-width="32" stroke-linecap="round"/>
<line x1="450.3" y1="1462.4" x2="869.5" y2="1018.9" stroke="#000080" stroke-width="42" stroke-linecap="round"/>
<line x1="869.5" y1="1018.9" x2="944.3" y2="939.7" stroke="#000080" stroke-width="28" stroke-linecap="round"/>
<line x1="299" y1="1622.4" x2="869.5" y2="1018.9" stroke="url(#ga0)" stroke-width="30" stroke-linecap="butt"/>
<line x1="299" y1="1622.4" x2="869.5" y2="1018.9" stroke="url(#ga1)" stroke-width="27" stroke-linecap="butt"/>
<line x1="299" y1="1622.4" x2="869.5" y2="1018.9" stroke="url(#ga2)" stroke-width="24" stroke-linecap="butt"/>
<line x1="299" y1="1622.4" x2="869.5" y2="1018.9" stroke="url(#ga3)" stroke-width="22" stroke-linecap="butt"/>
<line x1="299" y1="1622.4" x2="869.5" y2="1018.9" stroke="url(#ga4)" stroke-width="20" stroke-linecap="butt"/>
<line x1="299" y1="1622.4" x2="869.5" y2="1018.9" stroke="url(#ga5)" stroke-width="18" stroke-linecap="butt"/>
<line x1="299" y1="1622.4" x2="869.5" y2="1018.9" stroke="url(#ga6)" stroke-width="16.5" stroke-linecap="butt"/>
<line x1="299" y1="1622.4" x2="869.5" y2="1018.9" stroke="url(#ga7)" stroke-width="15" stroke-linecap="butt"/>
<line x1="299" y1="1622.4" x2="869.5" y2="1018.9" stroke="url(#ga8)" stroke-width="13.5" stroke-linecap="butt"/>
<line x1="299" y1="1622.4" x2="869.5" y2="1018.9" stroke="url(#ga9)" stroke-width="12" stroke-linecap="butt"/>
<line x1="299" y1="1622.4" x2="869.5" y2="1018.9" stroke="url(#ga10)" stroke-width="10" stroke-linecap="butt"/>
<line x1="299" y1="1622.4" x2="869.5" y2="1018.9" stroke="url(#ga11)" stroke-width="8" stroke-linecap="butt"/>
<line x1="299" y1="1622.4" x2="869.5" y2="1018.9" stroke="url(#ga12)" stroke-width="6" stroke-linecap="butt"/>
</g>
<line x1="270.6" y1="1652.5" x2="1767.8" y2="68.5" stroke="#000" stroke-width="4.5"/>
<path d="M270.6 1652.5v21M270.6 1652.5h-20.3M420.3 1652.5v21M270.6 1494.1h-20.3M570 1652.5v21M270.6 1335.7h-20.3M719.8 1652.5v21M270.6 1177.3h-20.3M869.5 1652.5v21M270.6 1018.9h-20.3M1019.2 1652.5v21M270.6 860.5h-20.3M1168.9 1652.5v21M270.6 702.1h-20.3M1318.6 1652.5v21M270.6 543.7h-20.3M1468.4 1652.5v21M270.6 385.3h-20.3M1618.1 1652.5v21M270.6 226.9h-20.3M1767.8 1652.5v21M270.6 68.5h-20.3" stroke="#000" stroke-width="3" fill="none"/>
<path d="M300.5 1652.5v11.5M270.6 1620.8h-11.5M330.5 1652.5v11.5M270.6 1589.1h-11.5M360.4 1652.5v11.5M270.6 1557.5h-11.5M390.4 1652.5v11.5M270.6 1525.8h-11.5M450.3 1652.5v11.5M270.6 1462.4h-11.5M480.2 1652.5v11.5M270.6 1430.7h-11.5M510.2 1652.5v11.5M270.6 1399.1h-11.5M540.1 1652.5v11.5M270.6 1367.4h-11.5M600 1652.5v11.5M270.6 1304h-11.5M629.9 1652.5v11.5M270.6 1272.3h-11.5M659.9 1652.5v11.5M270.6 1240.7h-11.5M689.8 1652.5v11.5M270.6 1209h-11.5M749.7 1652.5v11.5M270.6 1145.6h-11.5M779.6 1652.5v11.5M270.6 1113.9h-11.5M809.6 1652.5v11.5M270.6 1082.3h-11.5M839.5 1652.5v11.5M270.6 1050.6h-11.5M899.4 1652.5v11.5M270.6 987.2h-11.5M929.4 1652.5v11.5M270.6 955.5h-11.5M959.3 1652.5v11.5M270.6 923.9h-11.5M989.3 1652.5v11.5M270.6 892.2h-11.5M1049.1 1652.5v11.5M270.6 828.8h-11.5M1079.1 1652.5v11.5M270.6 797.1h-11.5M1109 1652.5v11.5M270.6 765.5h-11.5M1139 1652.5v11.5M270.6 733.8h-11.5M1198.9 1652.5v11.5M270.6 670.4h-11.5M1228.8 1652.5v11.5M270.6 638.7h-11.5M1258.8 1652.5v11.5M270.6 607.1h-11.5M1288.7 1652.5v11.5M270.6 575.4h-11.5M1348.6 1652.5v11.5M270.6 512h-11.5M1378.5 1652.5v11.5M270.6 480.3h-11.5M1408.5 1652.5v11.5M270.6 448.7h-11.5M1438.4 1652.5v11.5M270.6 417h-11.5M1498.3 1652.5v11.5M270.6 353.6h-11.5M1528.2 1652.5v11.5M270.6 321.9h-11.5M1558.2 1652.5v11.5M270.6 290.3h-11.5M1588.1 1652.5v11.5M270.6 258.6h-11.5M1648 1652.5v11.5M270.6 195.2h-11.5M1678 1652.5v11.5M270.6 163.5h-11.5M1707.9 1652.5v11.5M270.6 131.9h-11.5M1737.9 1652.5v11.5M270.6 100.2h-11.5" stroke="#000" stroke-width="2" fill="none"/>
<rect x="270.6" y="68.5" width="1497.2" height="1584" fill="none" stroke="#000" stroke-width="3"/>
<g font-family="'Liberation Serif','Times New Roman',serif" font-weight="bold" fill="#000">
<text transform="translate(269.1 1739.4) scale(1 1.05)" font-size="61.5" text-anchor="middle">0.0</text>
<text transform="translate(418.8 1739.4) scale(1 1.05)" font-size="61.5" text-anchor="middle">0.5</text>
<text transform="translate(568.5 1739.4) scale(1 1.05)" font-size="61.5" text-anchor="middle">1.0</text>
<text transform="translate(718.3 1739.4) scale(1 1.05)" font-size="61.5" text-anchor="middle">1.5</text>
<text transform="translate(868 1739.4) scale(1 1.05)" font-size="61.5" text-anchor="middle">2.0</text>
<text transform="translate(1017.7 1739.4) scale(1 1.05)" font-size="61.5" text-anchor="middle">2.5</text>
<text transform="translate(1167.4 1739.4) scale(1 1.05)" font-size="61.5" text-anchor="middle">3.0</text>
<text transform="translate(1317.1 1739.4) scale(1 1.05)" font-size="61.5" text-anchor="middle">3.5</text>
<text transform="translate(1466.9 1739.4) scale(1 1.05)" font-size="61.5" text-anchor="middle">4.0</text>
<text transform="translate(1616.6 1739.4) scale(1 1.05)" font-size="61.5" text-anchor="middle">4.5</text>
<text transform="translate(1766.3 1739.4) scale(1 1.05)" font-size="61.5" text-anchor="middle">5.0</text>
<text transform="translate(223 1665.2) scale(1 1.05)" font-size="61.5" text-anchor="end">0.0</text>
<text transform="translate(223 1506.8) scale(1 1.05)" font-size="61.5" text-anchor="end">0.5</text>
<text transform="translate(223 1348.4) scale(1 1.05)" font-size="61.5" text-anchor="end">1.0</text>
<text transform="translate(223 1190) scale(1 1.05)" font-size="61.5" text-anchor="end">1.5</text>
<text transform="translate(223 1031.6) scale(1 1.05)" font-size="61.5" text-anchor="end">2.0</text>
<text transform="translate(223 873.2) scale(1 1.05)" font-size="61.5" text-anchor="end">2.5</text>
<text transform="translate(223 714.8) scale(1 1.05)" font-size="61.5" text-anchor="end">3.0</text>
<text transform="translate(223 556.4) scale(1 1.05)" font-size="61.5" text-anchor="end">3.5</text>
<text transform="translate(223 398) scale(1 1.05)" font-size="61.5" text-anchor="end">4.0</text>
<text transform="translate(223 239.6) scale(1 1.05)" font-size="61.5" text-anchor="end">4.5</text>
<text transform="translate(223 81.2) scale(1 1.05)" font-size="61.5" text-anchor="end">5.0</text>
<text transform="translate(1981 346) scale(1 1.05)" font-size="66.7">8000</text>
<text transform="translate(1981 676.6) scale(1 1.05)" font-size="66.7">6000</text>
<text transform="translate(1981 1009.2) scale(1 1.05)" font-size="66.7">4000</text>
<text transform="translate(1981 1340.6) scale(1 1.05)" font-size="66.7">2000</text>
<text transform="translate(1019.4 1830.4) scale(1 1.05)" font-size="67.2" text-anchor="middle">MODIS Chl-a (mg m<tspan font-family="'DejaVu Sans','Liberation Sans',sans-serif" font-weight="normal" font-size="44.5" dx="2" dy="-24">−3</tspan><tspan dx="1.5" dy="24">)</tspan></text>
<text transform="translate(80.1 860) rotate(-90) scale(1 1.05)" font-size="67.2" text-anchor="middle">Reconstructed MODIS Chl-a (mg m<tspan font-family="'DejaVu Sans','Liberation Sans',sans-serif" font-weight="normal" font-size="44.5" dx="2" dy="-24">−3</tspan><tspan dx="1.5" dy="24">)</tspan></text>
<text transform="translate(2202.5 861) rotate(-90) scale(1 1.05)" font-size="100.5" text-anchor="middle">Point Density</text>
<text transform="translate(311.4 181.5) scale(1 1.0)" font-size="100">(a)</text>
<text transform="translate(987 228) scale(1 1.05)" font-size="100.5" text-anchor="middle">2016-2-2</text>
<text transform="translate(548 370) scale(1 1.05)" font-size="66.5" text-anchor="middle">R<tspan font-family="'DejaVu Sans','Liberation Sans',sans-serif" font-weight="normal" font-size="44.5" dx="1.5" dy="-24">2</tspan><tspan dx="1.5" dy="24">=0.996</tspan></text>
<text transform="translate(548 455.2) scale(1 1.05)" font-size="66.5" text-anchor="middle">RMSE=0.0027</text>
<text transform="translate(546.7 544.6) scale(1 1.05)" font-size="66.5" text-anchor="middle">N=54262</text>
</g>
<rect x="1861" y="67.9" width="81.5" height="1584.6" fill="url(#jet)" stroke="#000" stroke-width="3"/>
<rect x="1863.5" y="71" width="76.5" height="1579" fill="none" stroke="#000" stroke-opacity="0.35" stroke-width="3"/>
<path d="M1942.5 323.8h20M1942.5 654.4h20M1942.5 987h20M1942.5 1318.4h20" stroke="#000" stroke-width="3" fill="none"/>
</g>
<g id="panel-b">
<g clip-path="url(#clipb)">
<path d="M273.5 3672h0M307.6 3637.4h0M324.5 3635.1h0M272.7 3667.7h0M329.1 3580.5h0M273.9 3672.1h0M348.7 3595.4h0M308.3 3616.1h0M293.8 3647.9h0M302.7 3630.6h0M321.8 3621.4h0M281.8 3653.4h0M273.2 3669.9h0M338.2 3614.4h0M315.4 3614h0M324.4 3651h0M312.8 3585.2h0M304.2 3625.3h0M347.7 3588.6h0M283.4 3667.7h0M311.9 3631.8h0M306.5 3639.3h0M295.6 3652.4h0M323.2 3635.5h0M281.7 3660.5h0M328.6 3602.8h0M317.1 3580.2h0M274.7 3673h0M309.5 3645h0M287.7 3658.6h0M267.5 3674.5h0M354 3609.9h0M308.2 3650.5h0M265.3 3660.8h0M321.6 3619.4h0M278.5 3663.4h0M322 3578.7h0M278.4 3660.6h0M280.3 3665.4h0M296.2 3654.3h0M299.6 3635.3h0M355.9 3609.9h0M331.2 3624.1h0M288.3 3648h0M277.8 3670.4h0M345.8 3584h0M312.3 3649h0M326.4 3620.7h0M267.2 3679.4h0M265.1 3681.1h0M339.7 3605.4h0M316.4 3629.8h0M291.5 3656.5h0M285.1 3648.9h0M268.1 3673.9h0M276.2 3666.6h0M346.2 3612.7h0M302.1 3638.2h0M271.2 3670.1h0M328.2 3613.7h0M278.3 3664.4h0M267 3677.8h0M305.6 3617.7h0M340.8 3597.4h0M321.8 3595.8h0M275 3662.3h0M268.6 3673.8h0M283.4 3651.7h0M314.6 3603.1h0M315.6 3646.1h0M334.2 3598.9h0M285.2 3667.1h0M286.8 3650.9h0M286.3 3660.7h0M346.4 3587.9h0M358.7 3606.2h0M290.5 3649.8h0M288.5 3630.8h0M283.5 3648h0M333.5 3617.4h0M263.9 3678.8h0M269.4 3679.1h0M292.9 3640.7h0M286.4 3663.2h0M344.1 3609.7h0M329.3 3614.3h0M319.1 3640h0M321 3621h0M313.6 3608.4h0M327.9 3605.9h0M343.4 3594.2h0M275.6 3670.2h0M324.9 3631h0M275.2 3670.9h0M298.7 3639.2h0M333.2 3610h0M331.5 3588.9h0M334.8 3616.3h0M264.9 3680.6h0M287.5 3643.6h0M277 3669.1h0M344.8 3582.7h0M277 3672.5h0M287.8 3664.6h0M292.4 3648.6h0M266.3 3677.3h0M329.4 3591.2h0M312.3 3617.2h0M268.3 3661.4h0M309.6 3639.5h0M271.7 3679.3h0M304.5 3614.4h0M279.6 3659.1h0M271.2 3672.2h0M304.2 3624.2h0M311.6 3616.4h0M291.9 3654h0M326.8 3629.6h0M289.4 3646.8h0M267.4 3665.8h0M294.6 3658.3h0M302.7 3651.6h0M341.3 3594.8h0M269.9 3670.9h0M273.4 3679.5h0M307.1 3625.8h0M352.2 3596h0M344.5 3598.9h0M311.6 3605h0M267.5 3677.4h0M323 3596.7h0M315.3 3611.6h0M269.7 3665.6h0M313.4 3649.1h0M324.3 3598.8h0M317.9 3607.7h0M324.3 3598.3h0M333.7 3615.1h0M288.8 3661.5h0M325.8 3602.3h0M274.6 3651.3h0M266.7 3663.9h0M285.6 3636.2h0M308.2 3638.3h0M283.6 3653.2h0M316.1 3626.3h0M319.5 3630.1h0M276.6 3654.9h0M319.4 3626.4h0M302.1 3657.8h0M319.6 3606.4h0M287.3 3655.9h0M344.3 3618.2h0M300.1 3645.6h0M319.5 3639h0M310.7 3609.1h0M315 3641h0M284.8 3659.4h0M347.5 3588.7h0M275.5 3679.7h0M289.4 3651.7h0M324.3 3644.3h0M263.4 3680.4h0M277 3670.5h0M329.1 3603.8h0M328.4 3605.9h0M317.4 3621.9h0M341.7 3597.2h0M346.2 3627.8h0M289.3 3656.3h0M303.3 3607.2h0M284.9 3644.7h0M347 3629.6h0M302.5 3653.2h0M281.3 3674.9h0M321.6 3582.8h0M324.4 3618.9h0M336.4 3620.5h0M319 3637.4h0M325.4 3603.2h0M306.4 3645.6h0M317.7 3635.1h0M269.3 3679.8h0M307.8 3627.6h0M335.9 3607.5h0M322.2 3614.1h0M338.3 3611.8h0M316.6 3646.6h0M331.2 3591h0M276.8 3678.8h0M332.7 3593.4h0M290.3 3644.2h0M274.7 3679.9h0M317.6 3625.3h0M301.4 3639.6h0M304.7 3647.5h0M338.3 3602.9h0M275 3671.7h0M331.3 3638.7h0M291.5 3637.7h0M302.3 3627.2h0M309.4 3639.1h0M270 3667.6h0M303 3630.8h0M332.8 3595.9h0M284.9 3675h0M266.4 3676.3h0M305.1 3642.2h0M356.1 3597.7h0M341.6 3581.1h0M310.3 3633.3h0M270.5 3670.6h0M304.4 3649h0M279.9 3663.8h0M323.7 3614h0M299.6 3622.3h0M282 3651.3h0M280.9 3656.1h0M344.6 3606.2h0M324.6 3605.4h0M297.2 3639h0M298.1 3645.3h0M324.6 3610.7h0M349.8 3592.5h0M273.7 3681h0M272.9 3665.9h0M294.7 3649.9h0M302.7 3631.3h0M268 3677h0M275.5 3657.4h0M298.5 3649.3h0M332.6 3617.9h0M308.2 3618.1h0M294.5 3633.6h0M358.8 3618.3h0M333.3 3586.9h0M300.3 3654.7h0M329.1 3588h0M353.2 3603.2h0M292.6 3640h0M337.2 3621h0M291.6 3646.4h0M283.6 3677h0M319.3 3634.8h0M271 3677.2h0M322.6 3622.1h0M323.4 3596.6h0M340.4 3593.6h0M305.5 3644.7h0M267.9 3668.6h0M341.1 3596.5h0M332 3593.7h0M351.8 3594.9h0M329.7 3641.3h0M319.9 3617.8h0M297.3 3650.4h0M275.1 3663.7h0M288.9 3657.1h0M317.1 3606.6h0M295.3 3657.2h0M326.8 3621h0M323 3651.5h0M307.7 3646.6h0M348.3 3591.6h0M280.2 3671.5h0M306.7 3638.8h0M275.6 3668.4h0M353.9 3602.3h0M293.7 3626.2h0M281.3 3642.8h0M276.1 3667.3h0M322 3634h0M298.3 3646.8h0M278 3676.5h0M264.6 3680.8h0M295.8 3645.7h0M320.7 3634.7h0M311.1 3637.2h0M343.7 3599.5h0M359.6 3612.3h0M347.1 3596.1h0M337.5 3611.7h0M308.6 3642.3h0M298 3623.9h0M289.4 3638.6h0M289.9 3638.7h0M403.2 3540.6h0M403.5 3547.6h0M393.8 3539.8h0M391.5 3544.8h0M368.7 3539.9h0M358.6 3554.4h0M366.7 3581.6h0M410.5 3540.9h0M385.5 3571.8h0M413.5 3569.4h0M356.6 3585.5h0M368 3561.1h0M368.3 3592.7h0M366.3 3560.2h0M399.2 3545.8h0M379.5 3574.3h0M388.9 3542.3h0M355.8 3578.1h0M373.9 3563.8h0M373.4 3560.3h0M395 3568.8h0M371.9 3580.7h0M384.2 3535.9h0M405.6 3534.1h0M397.9 3535.1h0M355 3588.4h0M376.5 3553.9h0M372.8 3567.7h0M383.6 3550.4h0M356 3583h0M389.4 3537h0M379.6 3565.4h0M406.1 3527.1h0M363.1 3597.5h0M379.1 3564.7h0M371.5 3549.3h0M402.7 3537.4h0M396.6 3540.6h0M359.7 3574.7h0M379.6 3578.4h0M415.3 3560.8h0M386.8 3571.8h0M355.5 3561h0M411.5 3533.8h0M409.5 3542.5h0M368.3 3562h0M381.5 3551.2h0M400.4 3523.5h0M348.4 3559.9h0M391.2 3517.2h0M408 3536.1h0M393.4 3541.2h0M404.7 3556.8h0M399.1 3551.6h0M379.6 3550h0M378.7 3544.6h0M368.4 3581.1h0M383.8 3551.8h0M375.2 3530.4h0M373.4 3551.2h0M384.3 3538.2h0M373.9 3555h0M403.3 3541.4h0M400.6 3548.7h0M367.2 3593h0M394 3536.6h0M346.4 3549.8h0M361.7 3588.6h0M358.9 3581.3h0M365 3562.7h0M385.3 3557.8h0M376.4 3572.7h0M361.7 3574h0M393.8 3536.5h0M363.8 3555.6h0M394.1 3524.2h0M362 3569.4h0M387.5 3540.1h0M352.4 3546.7h0M404.2 3536.6h0M389.5 3547.1h0M391.1 3544.7h0M360.1 3585.8h0M389.9 3534.9h0M368.3 3562.2h0M400.8 3546.6h0M389.3 3523.1h0M362.9 3584.9h0M344.6 3580.4h0M403 3546.5h0M389.9 3508.9h0M421.8 3547.2h0M372.2 3556.1h0M404.8 3539.2h0M352.4 3586.8h0M360.1 3590h0M374.7 3540.9h0M384.5 3556.6h0M404.4 3539.8h0M369 3577.3h0M367.5 3548.4h0M421.6 3536.3h0M368.5 3568.6h0M386.6 3573.4h0M389.8 3552.1h0M403.9 3518.9h0M355 3570.2h0M391 3543.2h0M358.4 3545.6h0M377.3 3565.1h0M362.9 3568.7h0M384.1 3563.8h0M378.5 3545.3h0M371.4 3560.6h0M368.8 3544.4h0M376.5 3536.1h0M400.8 3533.2h0M381 3549.3h0M365.9 3556.5h0M401.8 3520.9h0M360.7 3576.8h0M342.2 3574.5h0M418.5 3543.1h0M365.1 3569.8h0M338.9 3558.7h0M383.2 3572.5h0M345.8 3542.3h0M372.5 3566.1h0M409.1 3541.1h0M371.2 3572.6h0M367.4 3587.9h0M372.2 3582.5h0M405.1 3525.5h0M369.2 3554.1h0M371.2 3564.1h0M388.2 3530.2h0M407.5 3529.4h0M374.9 3549.7h0M405.8 3542.4h0M365.6 3570.4h0M369.4 3563.6h0M381 3547.5h0M371 3578.9h0M364.4 3568h0M363.9 3578h0M376 3580.5h0M407.3 3540.8h0M391.7 3531.4h0M360.1 3583.3h0M380.9 3574.7h0M393.2 3541.5h0M387.2 3519.4h0M379.1 3547.6h0M388.9 3536.9h0M365.1 3573.1h0M415.9 3555.8h0M405 3540.9h0M370.8 3558.2h0M373.2 3581h0M343.1 3576.9h0M385.3 3545.2h0M393.2 3552.3h0M348.6 3585.9h0M395.3 3567.8h0M418.9 3539.9h0M339.8 3574.3h0M361.6 3581.9h0M339.6 3570.7h0M367.9 3551.9h0M364.3 3554.8h0M441.3 3498.2h0M496.5 3440.1h0M467.3 3467.2h0M409.8 3518.4h0M437.9 3502.6h0M407.4 3508h0M461 3475.5h0M492.2 3438.2h0M407.6 3512.3h0M397.7 3507.5h0M400.4 3509.7h0M441 3504.2h0M421.1 3504.7h0M494.7 3429.9h0M476.3 3447.2h0M500.7 3440.7h0M451.7 3459.1h0M472.2 3435.1h0M463.8 3447.3h0M421.9 3482.7h0M475.9 3468.9h0M434.1 3494.7h0M461.8 3489.5h0M479.3 3441.5h0M421.2 3494.9h0M441.5 3522.4h0M484.6 3441.2h0M457.6 3485.6h0M417.9 3500.3h0M429.3 3485.1h0M439.2 3501.2h0M487.4 3435.9h0M464 3490h0M503.1 3446.4h0M454.6 3481.6h0M502.9 3442.7h0M507.1 3450.8h0M452.9 3462.5h0M484.6 3453h0M439.2 3499.9h0M415.8 3508.7h0M463.3 3465.7h0M414.5 3518.4h0M442.3 3470.4h0M471.7 3470.8h0M464.8 3437.7h0M490.7 3438.9h0M429.7 3505.9h0M514.4 3466.9h0M450.9 3473.4h0M462.4 3461.4h0M451.8 3480.4h0M481.9 3439.4h0M438.5 3497h0M417.3 3529.5h0M490.1 3450.5h0M473.2 3464.6h0M466.3 3448.3h0M429.5 3520.2h0M431.1 3506.9h0M448.3 3447.7h0M489.8 3465h0M466.1 3458.1h0M459 3463.1h0M466.9 3460h0M418 3505.1h0M450.5 3481.2h0M438.5 3491.7h0M478.1 3455.9h0M450.8 3469.5h0M465.5 3447h0M463.7 3449.8h0M480.9 3428.1h0M486.8 3442.5h0M412.8 3517.4h0M462.3 3453.3h0M448.1 3492.8h0M427.7 3522.7h0M454.7 3480.2h0M503.5 3460.6h0M480.6 3447.4h0M416.7 3511.3h0M420.3 3497.4h0M476.2 3461.5h0M505.2 3439.7h0M417.6 3517.4h0M412.8 3510.8h0M482.2 3467.1h0M454.8 3455.5h0M481.3 3445.4h0M430.3 3507.6h0M453.8 3476.5h0M463.7 3430.6h0M448.3 3491.4h0M450.5 3490.4h0M410.1 3518.2h0M469.9 3437h0M448.1 3479.7h0M442.5 3486.7h0M476.2 3468.7h0M484.9 3441.3h0M502.2 3455.2h0M450 3500.2h0M467.7 3469.1h0M448.1 3490.3h0M467.6 3427.5h0M493.1 3459.8h0M461.7 3453.8h0M477.2 3439.3h0M445.1 3465.4h0M478.6 3486.1h0M427 3510.9h0M492.5 3474.6h0M437 3497.7h0M447.2 3458.1h0M411.7 3525.3h0M440.5 3481.4h0M459.8 3460.3h0M467.9 3465.3h0M447.9 3458.5h0M442 3509h0M462.7 3456.1h0M484.1 3475.1h0M455.3 3460.7h0M445 3489.2h0M415.5 3501.9h0M465.1 3475.9h0M401.3 3506.6h0M492.1 3436.8h0M438.4 3487.4h0M436.6 3498.2h0M426 3458h0M406.7 3502.3h0M492.4 3442.8h0M497.8 3430.7h0M505.3 3465.9h0M459.2 3467.3h0M482.1 3422.9h0M442.9 3495.7h0M461.5 3489h0M436.2 3517.9h0M426.2 3463h0M492.9 3435.5h0M468.4 3459.8h0M465 3477.9h0M441.4 3457.3h0M479.8 3475.7h0M458.2 3459.8h0M439.2 3470.2h0M456.6 3476.1h0M421.8 3517h0M439 3471.6h0M480.5 3469.2h0M434 3506.6h0M433.1 3496.1h0M486.1 3451.1h0M426.9 3515.6h0M434.7 3512.3h0M488 3450.5h0M423.2 3514.8h0M587.4 3340.9h0M547.7 3368.3h0M587.4 3360.5h0M573.8 3366h0M545.5 3400.9h0M528.4 3403.4h0M555 3385.2h0M569.1 3328.9h0M512.9 3409h0M565.4 3338.2h0M514.9 3438.2h0M534.1 3417.2h0M584.1 3347.8h0M608.5 3337.7h0M596.5 3336.1h0M576.9 3337.7h0M524 3390.8h0M611.4 3297.2h0M568.1 3349.2h0M611.2 3315.8h0M630.9 3328.1h0M519.2 3389.9h0M617.3 3307.2h0M516.8 3425.5h0M568.6 3341h0M534.6 3400.2h0M501.7 3408.2h0M564.3 3353.2h0M528.3 3404.8h0M586.6 3322.2h0M546.3 3362.1h0M536.1 3398.4h0M502.8 3429h0M584.1 3342.5h0M560.4 3333.5h0M586.7 3317.8h0M553.7 3387.9h0M639.2 3341.1h0M496.6 3420.2h0M625.1 3326.8h0M577.6 3318.9h0M504.3 3408.6h0M628.3 3313.5h0M507.2 3414.3h0M588.5 3332.5h0M520.9 3390.2h0M572.3 3331.6h0M619.1 3340.8h0M523.3 3422.8h0M539.2 3388.2h0M592.9 3302h0M550.7 3362.4h0M504.6 3396.7h0M518 3425.3h0M506.8 3406h0M524.7 3427h0M545.9 3386.8h0M582.1 3320.3h0M535.5 3353.9h0M511.5 3416.4h0M546 3388h0M559 3368.8h0M558.6 3377h0M579.6 3350.4h0M590.8 3351.6h0M604.4 3348.3h0M559.6 3356.8h0M509 3430.4h0M604.6 3343.2h0M598.3 3334h0M584.3 3333.7h0M561.8 3382.5h0M603.2 3313.8h0M507.4 3413h0M567 3314.8h0M569.1 3351.3h0M591.2 3347.3h0M531.3 3442.5h0M618.9 3309.1h0M510.6 3431.8h0M519.1 3404.8h0M576.1 3377h0M556 3344.5h0M525.6 3410.6h0M558.3 3415.2h0M609.9 3313.3h0M536.6 3386.5h0M556.7 3375.9h0M512.8 3414.4h0M573.9 3362.4h0M593.9 3349.6h0M595.9 3341.9h0M527.2 3399h0M526.9 3365.9h0M612 3377.9h0M634.2 3322.4h0M597.5 3336.5h0M541.8 3415.9h0M497 3410.6h0M547.4 3395.2h0M564.6 3363.1h0M537.6 3399.3h0M597 3331.2h0M545.6 3410.6h0M517.4 3415.8h0M567.1 3348h0M586.7 3328.6h0M525.3 3403.8h0M530.3 3377.7h0M526.5 3391.8h0M502.9 3424.9h0M587.1 3347.6h0M498.4 3415.4h0M588.5 3365.9h0M567.5 3342.4h0M552.4 3351.4h0M490.5 3409.9h0M511.4 3430.9h0M566.4 3368.3h0M566.3 3374h0M496.3 3421.9h0M498.8 3425.4h0M597.3 3335.5h0M553.8 3402.1h0M585.8 3338.1h0M714.9 3170h0M674.6 3234.1h0M678.1 3272.2h0M731.4 3194.5h0M644 3301.8h0M743.3 3200h0M734.7 3141.9h0M637 3289.6h0M736.1 3191.7h0M608.3 3284.9h0M625.4 3272.4h0M659.2 3256.9h0M777.6 3169.6h0M621.6 3289.1h0M695 3244.7h0M655.1 3210.9h0M647 3278.1h0M782.6 3180.4h0M656.8 3270.6h0M734.3 3156.3h0M689.3 3214.8h0M725.2 3200.8h0M737.2 3203.5h0M717.8 3204.7h0M753.7 3200.6h0M748.4 3175.3h0M644.9 3286.1h0M625.9 3283h0M683.8 3234.8h0M622.8 3274.8h0M699.5 3210.9h0M770.9 3179.6h0M685.3 3219h0M651 3284.4h0M632.1 3281h0M704.8 3232.6h0M714.8 3182.5h0M737.6 3186.2h0M738.9 3201.6h0M694.9 3242.2h0M748 3176.6h0M700.9 3226.4h0M718.4 3202.9h0M620 3301.8h0M695.1 3235.1h0M620.7 3278.7h0M668.3 3288.1h0M653.6 3249.3h0M700.8 3217.1h0M604.1 3265.8h0M717.4 3193.7h0M686.9 3254.4h0M663.7 3282.4h0M750.8 3156.6h0M723.1 3213.5h0M649.1 3235.2h0M644.4 3290.9h0M710 3249.4h0M732.9 3191.6h0M681.9 3216.6h0M651 3244.4h0M616.6 3267.4h0M646.8 3264.7h0M713.4 3167.9h0M651.4 3287.2h0M751.9 3150.5h0M722.2 3193.4h0M690.3 3255.2h0M653 3280.4h0M676.5 3224.6h0M755.9 3162.3h0M640.3 3288.2h0M681.4 3291.8h0M638.8 3298.6h0M717.6 3190.6h0M761.4 3168h0M708.9 3229.5h0M692.7 3287.2h0M756.4 3159.6h0M686.3 3199.6h0M730.5 3136.1h0M650.4 3226.1h0M644 3284.2h0M643.9 3305.4h0M657.8 3262.9h0M678.1 3235.2h0M743.7 3204.1h0M682.4 3229.2h0M664.4 3268.5h0M753.7 3174.8h0M1556.4 2128.2h0M1746.9 2136.5h0M1697.8 2190h0M1613.7 2274.9h0M1731.2 2334.9h0M1373.3 2363.5h0M1636.7 2377.5h0M1557.4 2392h0M1382.9 2397.4h0M1541.3 2432.5h0M1588.3 2450.7h0M1615.4 2448.3h0M1395.3 2454.4h0M1404.9 2473.3h0M1380.5 2495.7h0M1337.9 2508.7h0M1636.7 2522.8h0M1356.2 2547.9h0M1443.7 2583.9h0M1322.8 2594.2h0M1412.8 2593.2h0M1487.3 2594.2h0M1309.1 2611h0M1318.4 2605.6h0M1323.5 2599.7h0M1289.2 2624.8h0M1489.7 2655.7h0M1283 2682.8h0M1311.2 2734.3h0M1268.6 2741.2h0M1264.8 2831.5h0M1481.5 3076h0M1191 2191.4h0M817.7 2367.9h0M1140.1 2369.6h0M800.2 2540h0M494.9 2854.2h0M722.2 2919.1h0M658.4 2981.9h0M525.1 3008.7h0M684.8 3045.5h0M701.3 3055.4h0M758 3073.6h0M722.9 3095.9h0M754.5 3094.2h0M737 2560.9h0M1091.9 2647.3h0M1102.7 2712.2h0M1072.1 2721.3h0M1088.1 2725.1h0M1054.3 2730.2h0M1212.6 2690.7h0M1184.3 2698.4h0M1185.1 2725.9h0M1184.8 2730.2h0M1223.8 2753.4h0M1234.9 2763.2h0M1156.8 2762.8h0M1136.2 2774.3h0M1068.4 2796.3h0M1084.7 2795.8h0M1110.8 2796.3h0M1151.6 2801.1h0M1210 2807.8h0M1222.1 2810.6h0M1171.1 2822.1h0M1197.2 2825.8h0M1024.6 2825.8h0M1054.3 2828.1h0M1080.1 2832.4h0M1033.2 2841.5h0M1051.2 2841.8h0M1160.7 2840.1h0M1241.8 2639.2h0M1256.4 2623.8h0M1259 2831.5h0M1081.3 2847h0M926 2812.1h0M982 2835.8h0M1081.3 2853.1h0M1048.6 2850.6h0M1104.8 2863.1h0M1055.5 2868.3h0M1049.5 2878.6h0M1073.9 2873.4h0M1175.7 2870.3h0M1249.9 2861.7h0M1118.2 2882.3h0M1068.4 2890.1h0M1020.6 2897.3h0M1023.7 2879.8h0M1190 2900.7h0M1025.8 2919.3h0M1023.7 2929.6h0M1010 2927.3h0M1080.9 2924.4h0M1179.1 2934.7h0M1169.7 2944.1h0M1028.9 2984.8h0M1016.3 3002h0M1106.5 3019.7h0M845.9 2855.7h0M944.2 2865.2h0M1001.3 2877.5h0M977.2 2890.1h0M991.8 2889.2h0M944.1 2893.5h0M934.3 2902.6h0M960.5 2912.9h0M986.6 2901.2h0M1003.8 2905.5h0M1000.4 2945.9h0M976.3 2957.9h0M976.3 2977.6h0M949.7 2998.6h0M992.7 3038.2h0M986.6 3087.2h0M791.3 2985.9h0M818.4 3001.3h0M843.6 3003.4h0M770 3031.7h0M871.3 2974.2h0M888.8 2975.1h0M896.8 3045.8h0M890.2 3085.8h0M855.8 3083.2h0M856.2 3091.8h0M778 3072.1h0M773.7 3094.4h0M802.1 3057.5h0M808.1 3042h0M811.5 3038.6h0M968.6 2927h0M974.6 2933.8h0M983.2 2925.3h0M991 2923.5h0M1000.4 2923.5h0M1007.2 2924.4h0M988.4 2933.8h0M964.3 2947.6h0M986.6 2947.6h0M978.1 2944.1h0M904.2 2946.7h0M912.8 2951h0M919.7 2954.4h0M933.4 2940.7h0M936.9 2949.3h0M938.6 2957.9h0M928.3 2961.3h0M918 2966.5h0M924.8 2971.6h0M931.7 2968.2h0M909.4 2981.9h0M914.5 2990.5h0M923.1 2985.4h0M928.3 2999.1h0M924.8 2993.9h0M866.5 2999.1h0M865.6 3009.4h0M864.7 3019.7h0M868.2 3026.6h0M880.2 2993.9h0M888.8 2988.8h0M895.6 2987.1h0M883.6 3002.5h0M880.2 3012.8h0M878.5 3021.4h0M890.5 3019.7h0M897.4 3012.8h0M905.9 3007.7h0M909.4 3016.3h0M905.9 3024.9h0M919.7 3019.7h0M921.4 3028.3h0M931.7 3024.9h0M830.4 3035.2h0M839 3033.4h0M849.3 3034.3h0M852.7 3040.3h0M845.9 3043.7h0M823.5 3050.6h0M837.3 3050.6h0M840.7 3055.8h0M833.8 3062.6h0M830.4 3067.8h0M866.5 3042h0M873.3 3036.9h0M869.9 3050.6h0M873.3 3054.1h0M863 3059.2h0M859.6 3062.6h0M794.3 3075.5h0M803.8 3077.2h0M821.8 3080.6h0M828.7 3085h0M832.1 3087.5h0M802.1 3091.8h0M853.7 3108.3h0M868.9 3115.2h0M889.8 3118.6h0M891.2 3100.7h0M942 3126.2h0M860.6 3143.3h0M895 3148.8h0M884.7 3178.7h0M858.9 3188.3h0M820.1 3161.5h0M798.8 3165.7h0M767.6 3209.6h0M792.6 3210.6h0M810.1 3212h0M761 3224.4h0M794.3 3277.2h0M830.4 3120.3h0M823.5 3128.9h0M816.7 3134.1h0M777.2 3118.6h0M801.2 3118.6h0M794.3 3132.3h0M804.6 3139.2h0M780.6 3149.5h0M770.3 3156.4h0M799.5 3149.5h0M784 3159.8h0M766.9 3142.7h0M778.9 3101.4h0M808.1 3104.9h0M761.7 3103.2h0M495.2 3230.9h0M523.4 3225.1h0M601.7 3193.5h0M630.2 3204.5h0M600 3221.6h0M685.8 3125.5h0M676.5 3137.5h0M681.7 3159.1h0M716.7 3113.5h0M536.4 3266.3h0M506.6 3271.4h0M486.6 3285.1h0M497 3293.7h0M514.1 3292h0M505.5 3280h0M421.4 3324h0M561.2 3300.6h0M558.8 3317.8h0M537.5 3324.6h0M490.1 3349.7h0M472.9 3365.2h0M476.3 3382.3h0M484.9 3389.9h0M493.5 3393.3h0M375.7 3406h0M431.7 3416.7h0M377.8 3460.3h0M363 3486.1h0M369.9 3492.9h0M411.1 3480.9h0M350 3523.8h0M345.8 3534.1h0M457.4 3541h0M648.1 3478.2h0M606.8 3412.2h0M605.8 3436.3h0M713.3 3378.9h0M749.4 3253.6h0M713.3 3245.7h0M708.1 3254.2h0M720.2 3252.5h0M713.3 3274.8h0M706.4 3281.7h0M694.4 3292h0M670.4 3285.1h0M675.5 3286.9h0M701.3 3310.9h0M689.2 3322.9h0M698.9 3334.9h0M636.7 3348.7h0M617.1 3352.1h0M612 3360.7h0M742.5 3192.5h0M754.5 3180.4h0M558.8 3396.8h0M553.6 3405.3h0M562.2 3410.5h0M548.5 3422.5h0M549.5 3432.8h0M521 3439.7h0M500.4 3455.2h0M514.1 3444.8h0" fill="none" stroke="#000080" stroke-width="11.5" stroke-linecap="round"/>
<line x1="266.9" y1="3676.9" x2="305.8" y2="3635.6" stroke="#000080" stroke-width="18" stroke-linecap="round"/>
<line x1="305.8" y1="3635.6" x2="395.7" y2="3540.5" stroke="#000080" stroke-width="28" stroke-linecap="round"/>
<line x1="260.9" y1="3683.2" x2="440.6" y2="3493" stroke="url(#gb0)" stroke-width="30" stroke-linecap="butt"/>
<line x1="260.9" y1="3683.2" x2="440.6" y2="3493" stroke="url(#gb1)" stroke-width="27" stroke-linecap="butt"/>
<line x1="260.9" y1="3683.2" x2="440.6" y2="3493" stroke="url(#gb2)" stroke-width="25" stroke-linecap="butt"/>
<line x1="260.9" y1="3683.2" x2="440.6" y2="3493" stroke="url(#gb3)" stroke-width="23" stroke-linecap="butt"/>
<line x1="260.9" y1="3683.2" x2="440.6" y2="3493" stroke="url(#gb4)" stroke-width="21" stroke-linecap="butt"/>
<line x1="260.9" y1="3683.2" x2="440.6" y2="3493" stroke="url(#gb5)" stroke-width="19" stroke-linecap="butt"/>
<line x1="260.9" y1="3683.2" x2="440.6" y2="3493" stroke="url(#gb6)" stroke-width="17" stroke-linecap="butt"/>
<line x1="260.9" y1="3683.2" x2="440.6" y2="3493" stroke="url(#gb7)" stroke-width="15" stroke-linecap="butt"/>
<line x1="260.9" y1="3683.2" x2="440.6" y2="3493" stroke="url(#gb8)" stroke-width="13" stroke-linecap="butt"/>
<line x1="260.9" y1="3683.2" x2="440.6" y2="3493" stroke="url(#gb9)" stroke-width="11" stroke-linecap="butt"/>
<line x1="260.9" y1="3683.2" x2="440.6" y2="3493" stroke="url(#gb10)" stroke-width="8.5" stroke-linecap="butt"/>
<line x1="260.9" y1="3683.2" x2="440.6" y2="3493" stroke="url(#gb11)" stroke-width="6" stroke-linecap="butt"/>
</g>
<line x1="260.9" y1="3683.2" x2="1758.5" y2="2098.2" stroke="#000" stroke-width="4.5"/>
<path d="M260.9 3683.2v19.2M260.9 3683.2h-21.2M410.7 3683.2v19.2M260.9 3524.7h-21.2M560.4 3683.2v19.2M260.9 3366.2h-21.2M710.2 3683.2v19.2M260.9 3207.7h-21.2M859.9 3683.2v19.2M260.9 3049.2h-21.2M1009.7 3683.2v19.2M260.9 2890.7h-21.2M1159.5 3683.2v19.2M260.9 2732.2h-21.2M1309.2 3683.2v19.2M260.9 2573.7h-21.2M1459 3683.2v19.2M260.9 2415.2h-21.2M1608.7 3683.2v19.2M260.9 2256.7h-21.2M1758.5 3683.2v19.2M260.9 2098.2h-21.2" stroke="#303030" stroke-width="3.6" fill="none"/>
<path d="M290.9 3683.2v10M260.9 3651.5h-11M320.8 3683.2v10M260.9 3619.8h-11M350.8 3683.2v10M260.9 3588.1h-11M380.7 3683.2v10M260.9 3556.4h-11M440.6 3683.2v10M260.9 3493h-11M470.6 3683.2v10M260.9 3461.3h-11M500.5 3683.2v10M260.9 3429.6h-11M530.5 3683.2v10M260.9 3397.9h-11M590.4 3683.2v10M260.9 3334.5h-11M620.3 3683.2v10M260.9 3302.8h-11M650.3 3683.2v10M260.9 3271.1h-11M680.2 3683.2v10M260.9 3239.4h-11M740.1 3683.2v10M260.9 3176h-11M770.1 3683.2v10M260.9 3144.3h-11M800 3683.2v10M260.9 3112.6h-11M830 3683.2v10M260.9 3080.9h-11M889.9 3683.2v10M260.9 3017.5h-11M919.8 3683.2v10M260.9 2985.8h-11M949.8 3683.2v10M260.9 2954.1h-11M979.7 3683.2v10M260.9 2922.4h-11M1039.7 3683.2v10M260.9 2859h-11M1069.6 3683.2v10M260.9 2827.3h-11M1099.6 3683.2v10M260.9 2795.6h-11M1129.5 3683.2v10M260.9 2763.9h-11M1189.4 3683.2v10M260.9 2700.5h-11M1219.4 3683.2v10M260.9 2668.8h-11M1249.3 3683.2v10M260.9 2637.1h-11M1279.3 3683.2v10M260.9 2605.4h-11M1339.2 3683.2v10M260.9 2542h-11M1369.1 3683.2v10M260.9 2510.3h-11M1399.1 3683.2v10M260.9 2478.6h-11M1429 3683.2v10M260.9 2446.9h-11M1488.9 3683.2v10M260.9 2383.5h-11M1518.9 3683.2v10M260.9 2351.8h-11M1548.8 3683.2v10M260.9 2320.1h-11M1578.8 3683.2v10M260.9 2288.4h-11M1638.7 3683.2v10M260.9 2225h-11M1668.6 3683.2v10M260.9 2193.3h-11M1698.6 3683.2v10M260.9 2161.6h-11M1728.5 3683.2v10M260.9 2129.9h-11" stroke="#303030" stroke-width="2.8" fill="none"/>
<rect x="260.9" y="2098.2" width="1497.6" height="1585" fill="none" stroke="#303030" stroke-width="4"/>
<path d="M260.9 2098.2H1758.5V3683.2" fill="none" stroke="#000" stroke-width="3.4"/>
<g font-family="'Liberation Serif','Times New Roman',serif" font-weight="bold" fill="#000">
<text transform="translate(260.9 3762.9) scale(1 1.05)" font-size="61.5" text-anchor="middle">0.0</text>
<text transform="translate(410.7 3762.9) scale(1 1.05)" font-size="61.5" text-anchor="middle">0.5</text>
<text transform="translate(560.4 3762.9) scale(1 1.05)" font-size="61.5" text-anchor="middle">1.0</text>
<text transform="translate(710.2 3762.9) scale(1 1.05)" font-size="61.5" text-anchor="middle">1.5</text>
<text transform="translate(859.9 3762.9) scale(1 1.05)" font-size="61.5" text-anchor="middle">2.0</text>
<text transform="translate(1009.7 3762.9) scale(1 1.05)" font-size="61.5" text-anchor="middle">2.5</text>
<text transform="translate(1159.5 3762.9) scale(1 1.05)" font-size="61.5" text-anchor="middle">3.0</text>
<text transform="translate(1309.2 3762.9) scale(1 1.05)" font-size="61.5" text-anchor="middle">3.5</text>
<text transform="translate(1459 3762.9) scale(1 1.05)" font-size="61.5" text-anchor="middle">4.0</text>
<text transform="translate(1608.7 3762.9) scale(1 1.05)" font-size="61.5" text-anchor="middle">4.5</text>
<text transform="translate(1758.5 3762.9) scale(1 1.05)" font-size="61.5" text-anchor="middle">5.0</text>
<text transform="translate(220 3703.9) scale(1 1.05)" font-size="61.5" text-anchor="end">0.0</text>
<text transform="translate(220 3545.4) scale(1 1.05)" font-size="61.5" text-anchor="end">0.5</text>
<text transform="translate(220 3386.9) scale(1 1.05)" font-size="61.5" text-anchor="end">1.0</text>
<text transform="translate(220 3228.4) scale(1 1.05)" font-size="61.5" text-anchor="end">1.5</text>
<text transform="translate(220 3069.9) scale(1 1.05)" font-size="61.5" text-anchor="end">2.0</text>
<text transform="translate(220 2911.4) scale(1 1.05)" font-size="61.5" text-anchor="end">2.5</text>
<text transform="translate(220 2752.9) scale(1 1.05)" font-size="61.5" text-anchor="end">3.0</text>
<text transform="translate(220 2594.4) scale(1 1.05)" font-size="61.5" text-anchor="end">3.5</text>
<text transform="translate(220 2435.9) scale(1 1.05)" font-size="61.5" text-anchor="end">4.0</text>
<text transform="translate(220 2277.4) scale(1 1.05)" font-size="61.5" text-anchor="end">4.5</text>
<text transform="translate(220 2118.9) scale(1 1.05)" font-size="61.5" text-anchor="end">5.0</text>
<text transform="translate(1972 2245) scale(1 1.05)" font-size="66.7">70</text>
<text transform="translate(1972 2453.5) scale(1 1.05)" font-size="66.7">60</text>
<text transform="translate(1972 2662) scale(1 1.05)" font-size="66.7">50</text>
<text transform="translate(1972 2870.5) scale(1 1.05)" font-size="66.7">40</text>
<text transform="translate(1972 3079) scale(1 1.05)" font-size="66.7">30</text>
<text transform="translate(1972 3287.5) scale(1 1.05)" font-size="66.7">20</text>
<text transform="translate(1972 3496) scale(1 1.05)" font-size="66.7">10</text>
<text transform="translate(1009.6 3861.3) scale(1 1.05)" font-size="67.2" text-anchor="middle">MODIS Chl-a (mg m<tspan font-family="'DejaVu Sans','Liberation Sans',sans-serif" font-weight="normal" font-size="44.5" dx="2" dy="-24">−3</tspan><tspan dx="1.5" dy="24">)</tspan></text>
<text transform="translate(102 2889) rotate(-90) scale(1 1.05)" font-size="67.2" text-anchor="middle">Reconstructed MODIS Chl-a (mg m<tspan font-family="'DejaVu Sans','Liberation Sans',sans-serif" font-weight="normal" font-size="44.5" dx="2" dy="-24">−3</tspan><tspan dx="1.5" dy="24">)</tspan></text>
<text transform="translate(2126 2890.7) rotate(-90) scale(1 1.05)" font-size="100.5" text-anchor="middle">Point Density</text>
<text transform="translate(319.5 2195.5) scale(1 1.0)" font-size="100">(b)</text>
<text transform="translate(953 2259.7) scale(1 1.05)" font-size="100.5" text-anchor="middle">2016-8-4</text>
<text transform="translate(561 2370.2) scale(1 1.05)" font-size="66.5" text-anchor="middle">R<tspan font-family="'DejaVu Sans','Liberation Sans',sans-serif" font-weight="normal" font-size="44.5" dx="1.5" dy="-24">2</tspan><tspan dx="1.5" dy="24">=0.939</tspan></text>
<text transform="translate(561 2460.7) scale(1 1.05)" font-size="66.5" text-anchor="middle">RMSE=0.1145</text>
<text transform="translate(559.7 2554.1) scale(1 1.05)" font-size="66.5" text-anchor="middle">N=23791</text>
</g>
<rect x="1851.5" y="2097" width="83" height="1586.2" fill="url(#jet)" stroke="#000" stroke-width="3"/>
<rect x="1854" y="2100.7" width="78" height="1580" fill="none" stroke="#000" stroke-opacity="0.35" stroke-width="3"/>
<path d="M1934.5 2222.8h20M1934.5 2431.3h20M1934.5 2639.8h20M1934.5 2848.3h20M1934.5 3056.8h20M1934.5 3265.3h20M1934.5 3473.8h20" stroke="#000" stroke-width="3" fill="none"/>
</g>
</svg>
</body></html>
